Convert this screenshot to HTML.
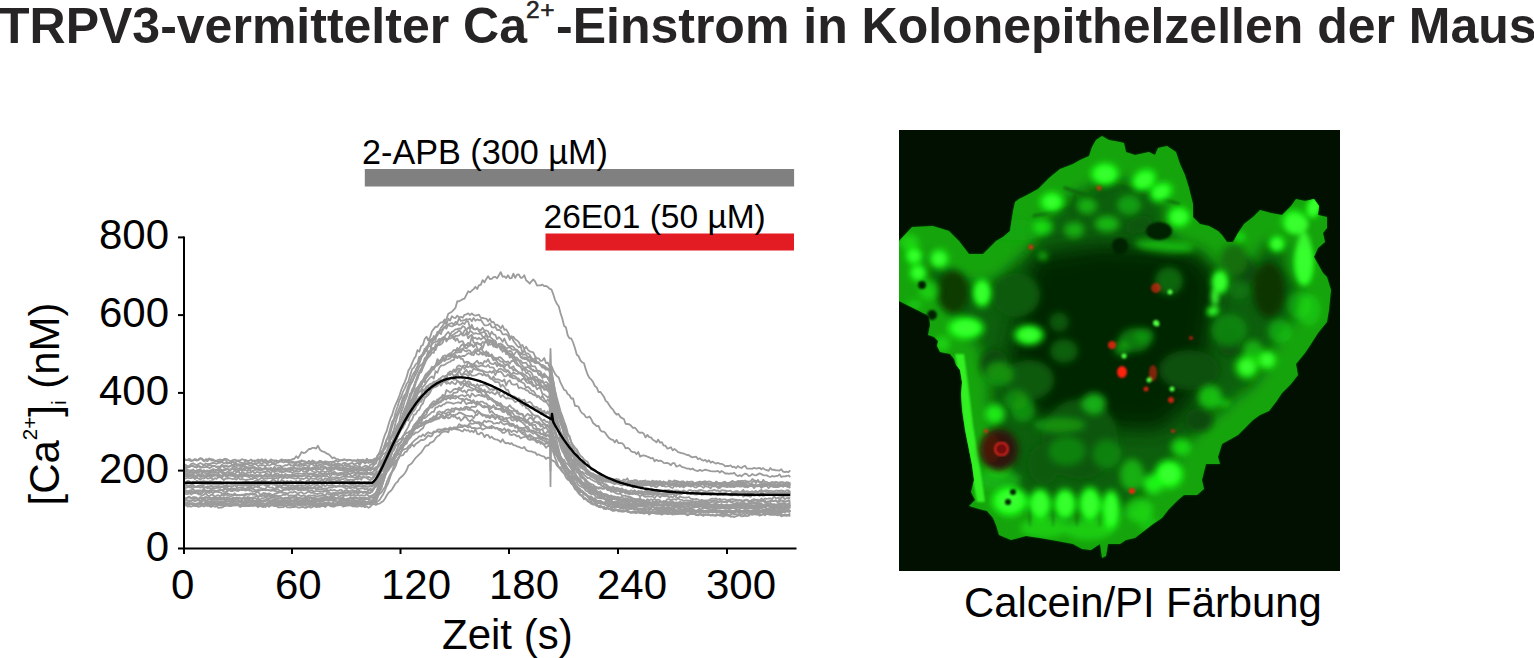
<!DOCTYPE html>
<html><head><meta charset="utf-8"><style>
html,body{margin:0;padding:0;background:#fff;}
body{width:1534px;height:658px;position:relative;overflow:hidden;font-family:"Liberation Sans",Arial,sans-serif;color:#000;}
.chart{position:absolute;left:0;top:0;}
.t{position:absolute;white-space:nowrap;line-height:1;}
.title{font-weight:bold;font-size:50px;color:#262424;}
.sup{font-weight:normal;font-size:24.5px;color:#262424;-webkit-text-stroke:0.6px #262424;}
.tick{font-size:42px;}
.lab{font-size:33.5px;}
</style></head><body>

<svg class="chart" width="1534" height="658" viewBox="0 0 1534 658">
 <rect x="364.8" y="169" width="429.3" height="17.5" fill="#808080"/>
 <rect x="545.5" y="233.5" width="248.5" height="17" fill="#e31c24"/>
 <g fill="none" stroke="#9b9b9b" stroke-width="1.8" stroke-linejoin="round"><polyline points="184.0,475.5 185.8,475.5 187.6,476.6 189.4,476.3 191.2,474.1 193.1,475.8 194.9,476.2 196.7,475.3 198.5,474.7 200.3,477.1 202.1,476.1 203.9,476.6 205.7,477.3 207.5,475.3 209.3,475.9 211.2,476.0 213.0,476.0 214.8,474.8 216.6,475.4 218.4,475.4 220.2,476.0 222.0,476.1 223.8,474.0 225.6,475.3 227.4,475.1 229.2,475.4 231.1,475.6 232.9,475.5 234.7,474.3 236.5,475.1 238.3,475.1 240.1,475.0 241.9,474.2 243.7,474.4 245.5,474.6 247.3,475.6 249.2,476.4 251.0,475.1 252.8,475.2 254.6,476.0 256.4,475.8 258.2,475.5 260.0,475.3 261.8,475.2 263.6,476.2 265.4,474.8 267.3,477.2 269.1,475.6 270.9,475.9 272.7,475.5 274.5,474.8 276.3,475.0 278.1,476.9 279.9,477.4 281.7,475.5 283.6,476.7 285.4,476.2 287.2,475.2 289.0,477.0 290.8,477.3 292.6,475.0 294.4,475.3 296.2,475.6 298.0,475.2 299.8,475.8 301.6,476.2 303.5,475.2 305.3,475.7 307.1,475.9 308.9,474.1 310.7,474.3 312.5,474.2 314.3,475.2 316.1,474.9 317.9,475.5 319.8,475.5 321.6,474.6 323.4,475.7 325.2,474.9 327.0,474.8 328.8,473.6 330.6,476.1 332.4,474.0 334.2,474.6 336.0,474.6 337.9,475.8 339.7,475.0 341.5,474.2 343.3,475.0 345.1,475.0 346.9,475.3 348.7,473.7 350.5,475.0 352.3,476.7 354.1,474.9 355.9,475.9 357.8,476.5 359.6,474.0 361.4,472.5 363.2,473.7 365.0,474.7 366.8,474.9 368.6,473.4 370.4,474.5 372.2,474.5 374.0,474.8 375.9,474.6 377.7,473.9 379.5,472.7 381.3,470.8 383.1,468.7 384.9,463.7 386.7,460.6 388.5,454.8 390.3,452.7 392.1,447.0 394.0,442.8 395.8,439.5 397.6,431.3 399.4,426.6 401.2,423.3 403.0,416.5 404.8,412.1 406.6,410.7 408.4,402.4 410.2,397.8 412.1,392.8 413.9,389.4 415.7,383.2 417.5,378.2 419.3,371.8 421.1,368.8 422.9,364.8 424.7,358.3 426.5,357.1 428.3,353.2 430.2,351.1 432.0,342.0 433.8,339.3 435.6,335.7 437.4,333.2 439.2,331.1 441.0,327.7 442.8,325.5 444.6,322.8 446.4,319.2 448.3,313.7 450.1,312.8 451.9,311.7 453.7,309.9 455.5,307.7 457.3,301.2 459.1,301.3 460.9,300.2 462.7,299.2 464.5,298.7 466.4,294.8 468.2,291.3 470.0,292.3 471.8,290.7 473.6,289.1 475.4,286.8 477.2,289.0 479.0,285.2 480.8,284.8 482.6,280.2 484.5,282.3 486.3,278.9 488.1,276.2 489.9,279.0 491.7,278.9 493.5,277.2 495.3,276.9 497.1,278.3 498.9,275.2 500.7,272.1 502.6,276.7 504.4,276.4 506.2,278.0 508.0,275.3 509.8,278.3 511.6,278.2 513.4,273.6 515.2,277.9 517.0,274.6 518.8,274.5 520.7,277.9 522.5,277.5 524.3,275.2 526.1,280.3 527.9,281.7 529.7,283.6 531.5,281.3 533.3,279.5 535.1,281.3 537.0,285.5 538.8,285.4 540.6,285.4 542.4,284.6 544.2,286.2 546.0,286.0 547.8,286.9 549.6,288.9 551.4,289.3 553.2,294.1 555.0,299.8 556.9,303.8 558.7,306.3 560.5,313.1 562.3,318.5 564.1,325.9 565.9,327.2 567.7,335.3 569.5,338.4 571.3,338.5 573.1,342.5 575.0,348.2 576.8,354.7 578.6,356.2 580.4,360.4 582.2,362.3 584.0,363.3 585.8,369.4 587.6,374.5 589.4,377.9 591.2,379.4 593.1,382.1 594.9,386.1 596.7,387.4 598.5,392.0 600.3,391.8 602.1,394.2 603.9,396.7 605.7,400.9 607.5,402.3 609.3,405.3 611.2,407.9 613.0,409.6 614.8,412.7 616.6,414.7 618.4,413.9 620.2,416.8 622.0,418.2 623.8,418.8 625.6,423.8 627.4,424.0 629.3,424.3 631.1,425.7 632.9,427.9 634.7,427.6 636.5,429.4 638.3,432.0 640.1,432.9 641.9,432.4 643.7,433.6 645.5,437.4 647.4,434.9 649.2,437.1 651.0,437.4 652.8,439.8 654.6,440.7 656.4,442.4 658.2,439.6 660.0,442.7 661.8,442.1 663.6,445.5 665.5,445.7 667.3,448.5 669.1,448.1 670.9,447.2 672.7,450.4 674.5,449.0 676.3,450.4 678.1,452.1 679.9,452.6 681.8,453.2 683.6,453.5 685.4,454.3 687.2,455.0 689.0,455.2 690.8,456.7 692.6,457.3 694.4,456.8 696.2,456.7 698.0,459.1 699.8,458.3 701.7,459.9 703.5,460.7 705.3,459.8 707.1,461.8 708.9,460.3 710.7,462.6 712.5,461.6 714.3,462.8 716.1,463.6 717.9,462.8 719.8,463.8 721.6,463.8 723.4,464.7 725.2,466.3 727.0,465.8 728.8,466.0 730.6,465.4 732.4,467.1 734.2,466.7 736.0,468.1 737.9,466.0 739.7,467.4 741.5,468.0 743.3,466.5 745.1,465.8 746.9,468.5 748.7,468.6 750.5,468.6 752.3,468.8 754.1,467.8 756.0,468.5 757.8,468.4 759.6,467.8 761.4,469.3 763.2,468.1 765.0,469.6 766.8,470.1 768.6,470.8 770.4,468.0 772.2,469.9 774.1,469.7 775.9,470.3 777.7,470.4 779.5,470.6 781.3,469.3 783.1,471.6 784.9,472.1 786.7,471.7 788.5,472.1 790.3,470.3"/><polyline points="184.0,468.6 185.8,467.4 187.6,470.6 189.4,470.4 191.2,470.4 193.1,469.5 194.9,471.1 196.7,470.5 198.5,470.2 200.3,471.1 202.1,471.1 203.9,470.6 205.7,471.7 207.5,471.3 209.3,470.6 211.2,470.2 213.0,470.4 214.8,471.7 216.6,470.5 218.4,469.3 220.2,469.5 222.0,469.9 223.8,470.0 225.6,468.3 227.4,469.4 229.2,469.5 231.1,469.2 232.9,467.2 234.7,468.4 236.5,467.5 238.3,468.9 240.1,467.8 241.9,469.3 243.7,468.8 245.5,466.6 247.3,467.7 249.2,468.5 251.0,468.2 252.8,468.0 254.6,467.6 256.4,468.8 258.2,470.1 260.0,469.0 261.8,468.6 263.6,468.8 265.4,468.0 267.3,469.0 269.1,468.9 270.9,470.5 272.7,468.7 274.5,467.5 276.3,468.8 278.1,468.8 279.9,468.6 281.7,467.3 283.6,469.8 285.4,469.3 287.2,468.8 289.0,468.4 290.8,469.0 292.6,468.3 294.4,468.5 296.2,468.1 298.0,468.5 299.8,469.6 301.6,468.4 303.5,467.4 305.3,468.8 307.1,467.8 308.9,467.4 310.7,469.0 312.5,467.4 314.3,468.5 316.1,466.8 317.9,465.6 319.8,465.6 321.6,467.3 323.4,467.0 325.2,467.7 327.0,468.0 328.8,467.2 330.6,469.8 332.4,467.8 334.2,468.9 336.0,467.7 337.9,468.3 339.7,469.1 341.5,468.5 343.3,468.2 345.1,468.7 346.9,468.3 348.7,469.2 350.5,470.8 352.3,468.4 354.1,468.7 355.9,469.2 357.8,469.5 359.6,468.2 361.4,469.3 363.2,469.0 365.0,468.5 366.8,467.1 368.6,469.5 370.4,467.3 372.2,467.4 374.0,465.1 375.9,459.1 377.7,455.8 379.5,452.5 381.3,446.9 383.1,440.4 384.9,434.9 386.7,431.0 388.5,424.6 390.3,418.9 392.1,415.0 394.0,408.6 395.8,404.2 397.6,400.1 399.4,395.9 401.2,390.0 403.0,385.8 404.8,381.8 406.6,377.2 408.4,370.6 410.2,367.8 412.1,363.1 413.9,359.0 415.7,356.2 417.5,350.1 419.3,351.7 421.1,346.1 422.9,344.9 424.7,339.0 426.5,336.7 428.3,340.5 430.2,336.6 432.0,331.3 433.8,328.9 435.6,326.6 437.4,326.8 439.2,323.9 441.0,322.4 442.8,322.3 444.6,319.4 446.4,324.6 448.3,318.7 450.1,320.6 451.9,316.2 453.7,317.6 455.5,318.0 457.3,315.6 459.1,317.5 460.9,316.7 462.7,317.7 464.5,314.8 466.4,314.3 468.2,313.4 470.0,315.2 471.8,313.4 473.6,315.0 475.4,315.7 477.2,315.1 479.0,314.6 480.8,317.9 482.6,318.0 484.5,318.4 486.3,318.6 488.1,321.3 489.9,318.8 491.7,322.4 493.5,321.8 495.3,325.2 497.1,324.7 498.9,325.9 500.7,328.6 502.6,325.5 504.4,329.8 506.2,329.4 508.0,332.4 509.8,336.5 511.6,337.3 513.4,336.8 515.2,339.2 517.0,340.4 518.8,342.1 520.7,345.9 522.5,345.0 524.3,349.3 526.1,346.7 527.9,349.9 529.7,351.3 531.5,351.9 533.3,352.4 535.1,356.4 537.0,358.3 538.8,358.5 540.6,360.9 542.4,360.6 544.2,357.9 546.0,363.1 547.8,362.5 549.6,367.2 551.4,365.9 553.2,370.2 555.0,373.7 556.9,376.1 558.7,377.5 560.5,382.7 562.3,386.1 564.1,389.8 565.9,390.5 567.7,394.1 569.5,395.2 571.3,398.5 573.1,398.5 575.0,405.8 576.8,406.0 578.6,406.8 580.4,411.0 582.2,413.2 584.0,414.2 585.8,417.1 587.6,417.5 589.4,416.4 591.2,419.1 593.1,423.0 594.9,424.5 596.7,426.1 598.5,425.9 600.3,430.2 602.1,431.6 603.9,431.6 605.7,433.4 607.5,436.2 609.3,438.3 611.2,439.5 613.0,439.8 614.8,442.4 616.6,439.9 618.4,443.0 620.2,443.2 622.0,443.1 623.8,444.8 625.6,448.4 627.4,447.9 629.3,448.8 631.1,451.2 632.9,452.2 634.7,452.2 636.5,454.2 638.3,452.0 640.1,456.6 641.9,455.7 643.7,455.3 645.5,455.8 647.4,456.6 649.2,457.3 651.0,458.4 652.8,457.9 654.6,461.2 656.4,459.8 658.2,461.0 660.0,460.7 661.8,461.2 663.6,462.8 665.5,463.1 667.3,462.9 669.1,463.7 670.9,465.2 672.7,463.2 674.5,463.1 676.3,466.7 678.1,466.0 679.9,465.1 681.8,466.9 683.6,467.3 685.4,468.0 687.2,468.7 689.0,468.6 690.8,469.5 692.6,468.5 694.4,470.0 696.2,470.7 698.0,471.1 699.8,469.8 701.7,470.9 703.5,470.3 705.3,469.6 707.1,470.2 708.9,470.6 710.7,471.1 712.5,471.3 714.3,471.4 716.1,471.4 717.9,470.9 719.8,472.5 721.6,471.0 723.4,472.1 725.2,473.5 727.0,473.4 728.8,473.8 730.6,473.3 732.4,473.6 734.2,472.7 736.0,474.9 737.9,476.1 739.7,475.1 741.5,476.3 743.3,474.7 745.1,473.6 746.9,474.1 748.7,476.0 750.5,475.6 752.3,474.0 754.1,475.1 756.0,475.4 757.8,474.4 759.6,473.4 761.4,474.1 763.2,475.1 765.0,475.4 766.8,475.3 768.6,476.5 770.4,477.0 772.2,475.9 774.1,476.7 775.9,476.0 777.7,475.9 779.5,474.3 781.3,477.0 783.1,476.4 784.9,476.3 786.7,476.0 788.5,475.5 790.3,477.0"/><polyline points="184.0,502.2 185.8,500.1 187.6,500.9 189.4,500.3 191.2,500.7 193.1,500.2 194.9,501.1 196.7,500.5 198.5,499.0 200.3,501.4 202.1,499.7 203.9,499.4 205.7,500.1 207.5,499.8 209.3,499.2 211.2,500.0 213.0,499.5 214.8,499.8 216.6,499.7 218.4,499.7 220.2,499.6 222.0,499.7 223.8,499.1 225.6,500.2 227.4,498.4 229.2,499.1 231.1,499.6 232.9,500.0 234.7,500.0 236.5,499.5 238.3,499.9 240.1,501.3 241.9,499.7 243.7,498.0 245.5,501.3 247.3,499.5 249.2,499.7 251.0,500.5 252.8,499.6 254.6,501.4 256.4,500.9 258.2,500.0 260.0,501.3 261.8,501.5 263.6,501.1 265.4,501.1 267.3,499.7 269.1,501.5 270.9,500.1 272.7,501.8 274.5,500.2 276.3,500.8 278.1,502.6 279.9,501.2 281.7,501.8 283.6,501.3 285.4,500.0 287.2,501.6 289.0,501.6 290.8,499.9 292.6,500.5 294.4,499.7 296.2,500.6 298.0,501.5 299.8,500.7 301.6,500.2 303.5,500.1 305.3,500.7 307.1,500.8 308.9,500.8 310.7,500.9 312.5,499.2 314.3,500.4 316.1,501.1 317.9,500.6 319.8,499.8 321.6,499.9 323.4,500.0 325.2,500.4 327.0,499.9 328.8,501.0 330.6,500.4 332.4,499.1 334.2,499.8 336.0,499.1 337.9,498.2 339.7,499.1 341.5,499.8 343.3,498.8 345.1,499.7 346.9,500.7 348.7,500.2 350.5,500.5 352.3,501.4 354.1,501.0 355.9,501.3 357.8,502.2 359.6,501.7 361.4,501.7 363.2,502.0 365.0,502.5 366.8,502.1 368.6,501.9 370.4,502.0 372.2,502.8 374.0,501.9 375.9,501.3 377.7,497.0 379.5,491.3 381.3,488.0 383.1,482.4 384.9,475.4 386.7,470.7 388.5,464.6 390.3,457.9 392.1,451.6 394.0,449.4 395.8,441.8 397.6,436.3 399.4,431.1 401.2,426.0 403.0,420.9 404.8,414.9 406.6,411.8 408.4,406.3 410.2,402.0 412.1,399.6 413.9,394.6 415.7,389.1 417.5,387.3 419.3,385.4 421.1,381.6 422.9,380.1 424.7,376.1 426.5,373.3 428.3,373.1 430.2,370.0 432.0,366.7 433.8,367.8 435.6,365.1 437.4,365.3 439.2,363.5 441.0,361.8 442.8,356.8 444.6,360.0 446.4,359.7 448.3,359.1 450.1,358.4 451.9,356.5 453.7,357.1 455.5,354.9 457.3,358.1 459.1,356.5 460.9,358.9 462.7,358.9 464.5,362.9 466.4,361.7 468.2,362.2 470.0,363.4 471.8,367.0 473.6,363.8 475.4,367.0 477.2,368.6 479.0,369.5 480.8,370.5 482.6,370.9 484.5,374.6 486.3,375.3 488.1,375.5 489.9,377.0 491.7,379.0 493.5,380.3 495.3,382.0 497.1,382.1 498.9,382.1 500.7,386.7 502.6,384.7 504.4,386.9 506.2,389.9 508.0,389.8 509.8,394.3 511.6,396.2 513.4,396.9 515.2,397.2 517.0,399.0 518.8,400.4 520.7,401.0 522.5,405.7 524.3,404.2 526.1,408.1 527.9,408.7 529.7,410.6 531.5,413.0 533.3,414.8 535.1,415.7 537.0,415.6 538.8,416.5 540.6,418.5 542.4,421.8 544.2,423.4 546.0,425.1 547.8,424.9 549.6,429.1 551.4,427.2 553.2,435.1 555.0,441.6 556.9,446.3 558.7,450.6 560.5,455.8 562.3,459.5 564.1,464.3 565.9,466.5 567.7,470.3 569.5,474.8 571.3,476.7 573.1,480.9 575.0,483.5 576.8,486.2 578.6,488.1 580.4,489.2 582.2,492.4 584.0,493.0 585.8,494.9 587.6,496.3 589.4,499.9 591.2,499.9 593.1,500.8 594.9,502.9 596.7,503.6 598.5,506.6 600.3,505.2 602.1,507.3 603.9,506.7 605.7,508.8 607.5,507.8 609.3,509.0 611.2,508.8 613.0,510.3 614.8,510.6 616.6,509.4 618.4,511.3 620.2,511.4 622.0,510.9 623.8,511.8 625.6,510.4 627.4,510.6 629.3,511.8 631.1,512.7 632.9,511.4 634.7,511.4 636.5,512.1 638.3,511.5 640.1,513.1 641.9,513.0 643.7,513.6 645.5,513.3 647.4,512.2 649.2,513.4 651.0,511.6 652.8,512.9 654.6,513.5 656.4,512.9 658.2,512.9 660.0,513.3 661.8,514.7 663.6,513.4 665.5,513.1 667.3,514.1 669.1,514.0 670.9,513.1 672.7,513.5 674.5,514.4 676.3,514.0 678.1,514.0 679.9,513.7 681.8,514.0 683.6,513.7 685.4,514.0 687.2,515.4 689.0,514.3 690.8,513.9 692.6,514.0 694.4,514.1 696.2,515.2 698.0,515.4 699.8,514.4 701.7,515.2 703.5,515.9 705.3,514.0 707.1,515.0 708.9,514.8 710.7,515.4 712.5,515.2 714.3,515.5 716.1,514.7 717.9,514.5 719.8,515.6 721.6,513.9 723.4,514.9 725.2,514.9 727.0,514.3 728.8,514.9 730.6,515.2 732.4,513.1 734.2,514.6 736.0,514.1 737.9,514.5 739.7,513.6 741.5,514.6 743.3,513.5 745.1,514.4 746.9,513.3 748.7,514.5 750.5,513.8 752.3,513.2 754.1,513.6 756.0,513.9 757.8,512.9 759.6,514.3 761.4,515.1 763.2,514.2 765.0,515.3 766.8,513.9 768.6,514.3 770.4,514.8 772.2,514.9 774.1,514.6 775.9,514.8 777.7,515.4 779.5,514.8 781.3,516.3 783.1,515.6 784.9,515.7 786.7,515.9 788.5,515.3 790.3,516.3"/><polyline points="184.0,473.7 185.8,473.6 187.6,473.1 189.4,472.6 191.2,472.6 193.1,473.5 194.9,472.7 196.7,473.1 198.5,472.3 200.3,471.2 202.1,471.9 203.9,472.3 205.7,473.5 207.5,473.2 209.3,473.6 211.2,471.5 213.0,472.9 214.8,472.6 216.6,472.8 218.4,472.3 220.2,471.2 222.0,473.2 223.8,472.9 225.6,473.4 227.4,472.2 229.2,474.0 231.1,473.8 232.9,474.0 234.7,474.0 236.5,472.4 238.3,471.0 240.1,474.0 241.9,472.2 243.7,472.8 245.5,473.8 247.3,472.7 249.2,472.5 251.0,472.8 252.8,470.5 254.6,473.9 256.4,472.0 258.2,472.1 260.0,473.1 261.8,472.4 263.6,471.9 265.4,472.0 267.3,471.7 269.1,471.6 270.9,473.6 272.7,470.5 274.5,469.8 276.3,470.6 278.1,470.6 279.9,472.1 281.7,470.9 283.6,471.8 285.4,471.5 287.2,470.3 289.0,471.9 290.8,471.9 292.6,473.1 294.4,471.5 296.2,471.1 298.0,471.5 299.8,471.2 301.6,469.3 303.5,471.9 305.3,471.9 307.1,472.0 308.9,470.2 310.7,469.5 312.5,471.3 314.3,472.1 316.1,472.3 317.9,471.3 319.8,472.6 321.6,471.0 323.4,471.3 325.2,472.5 327.0,471.2 328.8,471.5 330.6,471.0 332.4,473.1 334.2,471.4 336.0,473.2 337.9,473.5 339.7,473.0 341.5,472.9 343.3,473.6 345.1,474.5 346.9,473.9 348.7,471.5 350.5,471.1 352.3,472.2 354.1,471.6 355.9,473.0 357.8,472.4 359.6,472.1 361.4,473.0 363.2,473.2 365.0,472.3 366.8,472.6 368.6,473.3 370.4,472.3 372.2,472.6 374.0,471.0 375.9,470.0 377.7,467.9 379.5,464.7 381.3,461.5 383.1,459.1 384.9,456.0 386.7,451.5 388.5,447.9 390.3,443.4 392.1,442.7 394.0,438.1 395.8,434.2 397.6,430.2 399.4,427.6 401.2,423.6 403.0,418.8 404.8,416.0 406.6,414.1 408.4,407.8 410.2,404.8 412.1,403.5 413.9,399.1 415.7,398.5 417.5,393.3 419.3,391.9 421.1,389.8 422.9,386.8 424.7,385.0 426.5,382.0 428.3,379.7 430.2,377.5 432.0,376.4 433.8,378.6 435.6,371.2 437.4,372.7 439.2,368.0 441.0,365.5 442.8,365.3 444.6,364.9 446.4,363.5 448.3,362.5 450.1,361.7 451.9,360.3 453.7,360.0 455.5,356.6 457.3,357.6 459.1,355.7 460.9,357.0 462.7,355.8 464.5,356.0 466.4,354.6 468.2,353.2 470.0,353.7 471.8,354.9 473.6,355.1 475.4,351.5 477.2,354.4 479.0,354.6 480.8,352.5 482.6,353.2 484.5,354.2 486.3,356.1 488.1,352.5 489.9,356.1 491.7,355.8 493.5,357.3 495.3,359.2 497.1,359.1 498.9,357.1 500.7,357.5 502.6,359.3 504.4,361.4 506.2,362.3 508.0,361.4 509.8,363.8 511.6,360.8 513.4,361.2 515.2,359.5 517.0,362.8 518.8,365.6 520.7,366.8 522.5,370.9 524.3,367.5 526.1,367.5 527.9,366.8 529.7,368.4 531.5,369.4 533.3,371.1 535.1,371.0 537.0,371.0 538.8,374.8 540.6,375.5 542.4,377.8 544.2,374.7 546.0,376.2 547.8,377.9 549.6,381.1 550.5,349.0 551.4,380.2 553.2,391.0 555.0,400.1 556.9,408.7 558.7,415.6 560.5,423.2 562.3,428.3 564.1,434.2 565.9,439.5 567.7,444.0 569.5,448.4 571.3,451.5 573.1,455.9 575.0,458.6 576.8,461.8 578.6,465.5 580.4,465.5 582.2,468.6 584.0,469.0 585.8,471.0 587.6,473.7 589.4,474.6 591.2,475.2 593.1,476.7 594.9,478.2 596.7,477.9 598.5,479.2 600.3,479.7 602.1,481.0 603.9,480.9 605.7,481.9 607.5,481.5 609.3,481.4 611.2,482.7 613.0,483.4 614.8,484.2 616.6,483.5 618.4,484.0 620.2,484.8 622.0,485.4 623.8,484.9 625.6,483.7 627.4,486.0 629.3,485.5 631.1,485.4 632.9,487.6 634.7,485.6 636.5,486.0 638.3,484.7 640.1,485.9 641.9,486.1 643.7,485.5 645.5,485.3 647.4,485.1 649.2,484.7 651.0,485.5 652.8,484.7 654.6,483.8 656.4,482.8 658.2,483.5 660.0,483.6 661.8,483.1 663.6,483.4 665.5,482.8 667.3,483.1 669.1,483.6 670.9,483.6 672.7,483.8 674.5,483.5 676.3,483.5 678.1,484.7 679.9,485.9 681.8,484.7 683.6,486.3 685.4,485.0 687.2,484.8 689.0,486.1 690.8,484.6 692.6,484.3 694.4,484.7 696.2,483.6 698.0,483.4 699.8,485.5 701.7,483.8 703.5,484.5 705.3,484.8 707.1,484.1 708.9,485.3 710.7,485.5 712.5,486.4 714.3,486.4 716.1,486.1 717.9,487.1 719.8,486.4 721.6,485.1 723.4,485.9 725.2,485.5 727.0,487.2 728.8,486.5 730.6,486.6 732.4,485.9 734.2,486.1 736.0,485.1 737.9,486.2 739.7,486.1 741.5,486.2 743.3,486.0 745.1,487.3 746.9,485.8 748.7,485.9 750.5,486.0 752.3,486.1 754.1,485.9 756.0,485.7 757.8,485.8 759.6,485.9 761.4,485.6 763.2,485.8 765.0,485.0 766.8,485.8 768.6,488.1 770.4,486.0 772.2,486.6 774.1,487.1 775.9,486.3 777.7,486.5 779.5,484.2 781.3,485.3 783.1,486.9 784.9,485.3 786.7,485.9 788.5,483.9 790.3,485.9"/><polyline points="184.0,466.4 185.8,467.5 187.6,467.3 189.4,467.1 191.2,465.8 193.1,466.4 194.9,467.0 196.7,467.3 198.5,466.3 200.3,466.5 202.1,467.4 203.9,464.8 205.7,465.8 207.5,466.1 209.3,465.0 211.2,465.4 213.0,466.4 214.8,465.9 216.6,467.2 218.4,466.7 220.2,468.1 222.0,465.0 223.8,467.5 225.6,465.7 227.4,466.8 229.2,466.8 231.1,465.8 232.9,465.0 234.7,465.0 236.5,464.2 238.3,465.5 240.1,465.5 241.9,467.2 243.7,465.9 245.5,466.9 247.3,467.5 249.2,467.1 251.0,467.2 252.8,467.1 254.6,467.0 256.4,468.0 258.2,468.5 260.0,467.6 261.8,469.8 263.6,468.8 265.4,466.9 267.3,470.7 269.1,469.3 270.9,468.3 272.7,470.2 274.5,466.6 276.3,471.1 278.1,467.7 279.9,467.6 281.7,467.8 283.6,468.6 285.4,468.4 287.2,469.8 289.0,468.3 290.8,469.9 292.6,468.9 294.4,467.7 296.2,469.1 298.0,468.5 299.8,468.0 301.6,469.4 303.5,467.4 305.3,467.7 307.1,469.3 308.9,468.1 310.7,468.9 312.5,468.5 314.3,467.9 316.1,468.6 317.9,467.3 319.8,468.5 321.6,467.0 323.4,467.8 325.2,466.7 327.0,467.8 328.8,467.9 330.6,468.6 332.4,467.5 334.2,467.1 336.0,466.3 337.9,466.8 339.7,467.9 341.5,468.3 343.3,467.7 345.1,467.7 346.9,466.2 348.7,466.5 350.5,468.1 352.3,468.2 354.1,466.6 355.9,467.9 357.8,468.4 359.6,466.9 361.4,468.2 363.2,468.3 365.0,468.7 366.8,469.7 368.6,467.3 370.4,468.9 372.2,468.3 374.0,468.6 375.9,467.2 377.7,467.0 379.5,465.0 381.3,464.5 383.1,460.3 384.9,458.9 386.7,454.3 388.5,450.9 390.3,447.6 392.1,442.5 394.0,440.7 395.8,437.7 397.6,435.3 399.4,432.7 401.2,428.1 403.0,424.6 404.8,424.4 406.6,419.2 408.4,417.0 410.2,413.9 412.1,411.8 413.9,411.0 415.7,408.2 417.5,402.1 419.3,401.9 421.1,401.8 422.9,397.4 424.7,396.3 426.5,396.5 428.3,395.1 430.2,392.4 432.0,388.4 433.8,387.4 435.6,386.3 437.4,384.6 439.2,383.2 441.0,385.6 442.8,382.3 444.6,382.0 446.4,381.6 448.3,380.1 450.1,378.5 451.9,378.2 453.7,379.2 455.5,377.2 457.3,373.3 459.1,377.3 460.9,377.4 462.7,374.8 464.5,374.2 466.4,374.2 468.2,376.5 470.0,373.4 471.8,375.7 473.6,375.7 475.4,375.3 477.2,374.6 479.0,373.4 480.8,373.8 482.6,375.3 484.5,374.0 486.3,375.8 488.1,375.0 489.9,378.4 491.7,379.2 493.5,376.4 495.3,379.7 497.1,379.4 498.9,379.5 500.7,380.6 502.6,381.4 504.4,379.4 506.2,385.5 508.0,381.4 509.8,380.3 511.6,384.0 513.4,384.7 515.2,384.6 517.0,383.8 518.8,388.2 520.7,387.4 522.5,388.6 524.3,388.6 526.1,390.3 527.9,390.5 529.7,393.0 531.5,393.2 533.3,394.7 535.1,395.4 537.0,395.6 538.8,396.2 540.6,398.6 542.4,395.8 544.2,399.1 546.0,401.8 547.8,399.5 549.6,402.6 551.4,402.2 553.2,409.8 555.0,416.1 556.9,421.7 558.7,428.1 560.5,432.4 562.3,434.9 564.1,443.1 565.9,444.6 567.7,447.7 569.5,452.3 571.3,456.0 573.1,455.4 575.0,460.2 576.8,460.1 578.6,463.4 580.4,465.7 582.2,467.1 584.0,468.6 585.8,469.7 587.6,470.9 589.4,472.3 591.2,473.1 593.1,473.5 594.9,474.7 596.7,476.5 598.5,476.9 600.3,477.3 602.1,478.5 603.9,479.0 605.7,479.5 607.5,479.6 609.3,479.4 611.2,479.4 613.0,480.7 614.8,479.8 616.6,481.6 618.4,479.2 620.2,481.2 622.0,482.1 623.8,483.3 625.6,485.0 627.4,483.3 629.3,483.5 631.1,482.0 632.9,484.9 634.7,482.2 636.5,483.8 638.3,483.2 640.1,485.7 641.9,483.9 643.7,483.7 645.5,483.5 647.4,484.3 649.2,484.8 651.0,483.2 652.8,483.8 654.6,484.2 656.4,483.8 658.2,483.5 660.0,484.6 661.8,486.0 663.6,486.0 665.5,483.6 667.3,484.5 669.1,485.0 670.9,485.6 672.7,485.1 674.5,485.0 676.3,485.2 678.1,485.7 679.9,483.8 681.8,484.6 683.6,485.0 685.4,485.5 687.2,484.8 689.0,483.5 690.8,483.6 692.6,484.1 694.4,483.8 696.2,484.0 698.0,484.8 699.8,483.3 701.7,484.0 703.5,482.2 705.3,484.4 707.1,484.1 708.9,483.4 710.7,484.4 712.5,485.2 714.3,484.9 716.1,484.3 717.9,484.4 719.8,485.2 721.6,484.9 723.4,485.4 725.2,485.8 727.0,486.0 728.8,486.2 730.6,485.6 732.4,485.4 734.2,485.8 736.0,485.2 737.9,485.7 739.7,486.6 741.5,486.6 743.3,485.1 745.1,485.5 746.9,484.6 748.7,485.7 750.5,484.9 752.3,484.5 754.1,484.7 756.0,485.9 757.8,485.4 759.6,484.9 761.4,486.2 763.2,485.1 765.0,484.8 766.8,486.0 768.6,484.2 770.4,486.1 772.2,485.8 774.1,486.2 775.9,486.6 777.7,485.6 779.5,485.9 781.3,484.7 783.1,485.4 784.9,485.7 786.7,486.5 788.5,487.3 790.3,486.3"/><polyline points="184.0,458.4 185.8,460.2 187.6,459.8 189.4,460.3 191.2,461.2 193.1,460.2 194.9,459.7 196.7,460.7 198.5,459.4 200.3,458.4 202.1,458.6 203.9,460.9 205.7,460.4 207.5,461.2 209.3,459.1 211.2,459.2 213.0,459.4 214.8,461.0 216.6,461.1 218.4,459.8 220.2,459.5 222.0,460.0 223.8,459.2 225.6,459.0 227.4,459.4 229.2,460.5 231.1,461.3 232.9,460.1 234.7,459.6 236.5,460.3 238.3,460.5 240.1,460.5 241.9,459.2 243.7,459.8 245.5,459.8 247.3,461.0 249.2,460.8 251.0,459.5 252.8,460.7 254.6,461.2 256.4,460.6 258.2,459.5 260.0,460.6 261.8,459.2 263.6,460.5 265.4,460.6 267.3,462.0 269.1,461.1 270.9,459.4 272.7,460.4 274.5,460.3 276.3,460.3 278.1,461.2 279.9,461.5 281.7,460.7 283.6,460.3 285.4,460.0 287.2,460.2 289.0,459.9 290.8,460.1 292.6,459.0 294.4,458.8 296.2,456.2 298.0,458.2 299.8,455.2 301.6,452.0 303.5,453.0 305.3,452.7 307.1,451.0 308.9,449.0 310.7,449.0 312.5,447.8 314.3,447.9 316.1,448.6 317.9,445.7 319.8,449.5 321.6,451.2 323.4,451.7 325.2,452.4 327.0,453.7 328.8,454.4 330.6,456.1 332.4,458.3 334.2,457.3 336.0,458.9 337.9,459.1 339.7,460.8 341.5,460.0 343.3,460.3 345.1,459.3 346.9,460.9 348.7,459.7 350.5,460.2 352.3,461.0 354.1,460.7 355.9,460.7 357.8,459.5 359.6,463.1 361.4,461.0 363.2,462.3 365.0,461.4 366.8,460.1 368.6,461.2 370.4,460.7 372.2,461.6 374.0,458.9 375.9,458.5 377.7,457.1 379.5,458.0 381.3,456.9 383.1,453.8 384.9,453.3 386.7,451.5 388.5,449.4 390.3,449.4 392.1,445.7 394.0,444.4 395.8,442.1 397.6,442.1 399.4,439.3 401.2,438.6 403.0,435.7 404.8,434.4 406.6,433.1 408.4,432.2 410.2,430.9 412.1,433.7 413.9,428.9 415.7,428.7 417.5,426.8 419.3,426.0 421.1,426.1 422.9,424.3 424.7,422.2 426.5,420.7 428.3,422.2 430.2,421.7 432.0,418.3 433.8,420.2 435.6,416.0 437.4,418.2 439.2,418.7 441.0,416.0 442.8,415.2 444.6,418.3 446.4,414.3 448.3,415.8 450.1,413.5 451.9,415.6 453.7,416.9 455.5,414.6 457.3,414.1 459.1,412.5 460.9,412.9 462.7,413.9 464.5,414.9 466.4,415.6 468.2,415.8 470.0,416.3 471.8,415.8 473.6,418.4 475.4,415.0 477.2,415.1 479.0,411.8 480.8,414.1 482.6,415.9 484.5,415.0 486.3,417.4 488.1,416.8 489.9,418.4 491.7,414.6 493.5,415.9 495.3,417.9 497.1,416.8 498.9,415.9 500.7,416.7 502.6,416.9 504.4,418.6 506.2,418.5 508.0,418.0 509.8,417.5 511.6,420.1 513.4,420.6 515.2,418.7 517.0,421.4 518.8,419.3 520.7,420.7 522.5,420.3 524.3,419.4 526.1,420.9 527.9,421.1 529.7,423.2 531.5,423.5 533.3,422.3 535.1,421.8 537.0,422.5 538.8,421.8 540.6,424.1 542.4,424.7 544.2,424.2 546.0,426.0 547.8,426.2 549.6,427.7 551.4,425.6 553.2,435.1 555.0,440.5 556.9,448.3 558.7,451.8 560.5,459.0 562.3,462.4 564.1,468.7 565.9,471.6 567.7,474.3 569.5,479.3 571.3,481.7 573.1,485.1 575.0,489.1 576.8,489.7 578.6,491.6 580.4,495.0 582.2,495.1 584.0,497.5 585.8,499.4 587.6,500.3 589.4,501.9 591.2,501.3 593.1,504.7 594.9,504.0 596.7,504.7 598.5,506.7 600.3,507.4 602.1,506.8 603.9,507.4 605.7,507.8 607.5,507.9 609.3,509.1 611.2,509.9 613.0,511.1 614.8,510.0 616.6,510.4 618.4,510.0 620.2,510.5 622.0,511.8 623.8,510.3 625.6,510.7 627.4,511.0 629.3,512.4 631.1,512.1 632.9,512.4 634.7,512.6 636.5,513.0 638.3,512.5 640.1,513.0 641.9,512.9 643.7,513.2 645.5,512.3 647.4,512.7 649.2,514.5 651.0,513.2 652.8,513.2 654.6,513.2 656.4,513.8 658.2,513.8 660.0,513.9 661.8,513.3 663.6,513.6 665.5,513.5 667.3,513.7 669.1,512.8 670.9,513.9 672.7,514.6 674.5,513.3 676.3,514.1 678.1,513.4 679.9,513.4 681.8,512.5 683.6,513.1 685.4,514.1 687.2,514.1 689.0,514.5 690.8,512.7 692.6,513.7 694.4,513.2 696.2,514.2 698.0,515.1 699.8,513.3 701.7,514.4 703.5,514.7 705.3,515.0 707.1,514.2 708.9,514.5 710.7,515.5 712.5,514.3 714.3,515.6 716.1,515.8 717.9,515.0 719.8,515.1 721.6,515.8 723.4,516.6 725.2,515.5 727.0,515.3 728.8,516.0 730.6,516.8 732.4,516.3 734.2,517.1 736.0,516.3 737.9,515.7 739.7,515.2 741.5,516.4 743.3,516.0 745.1,515.6 746.9,516.2 748.7,515.8 750.5,514.1 752.3,514.8 754.1,514.2 756.0,514.7 757.8,514.5 759.6,515.7 761.4,514.8 763.2,513.7 765.0,512.9 766.8,513.1 768.6,513.4 770.4,513.5 772.2,513.7 774.1,513.8 775.9,513.4 777.7,514.0 779.5,513.1 781.3,514.3 783.1,515.0 784.9,514.4 786.7,514.9 788.5,514.8 790.3,513.6"/><polyline points="184.0,505.3 185.8,504.9 187.6,506.5 189.4,506.1 191.2,506.7 193.1,505.6 194.9,506.1 196.7,505.9 198.5,506.9 200.3,506.4 202.1,505.4 203.9,506.5 205.7,505.7 207.5,505.5 209.3,506.1 211.2,506.9 213.0,505.7 214.8,506.8 216.6,506.2 218.4,507.9 220.2,507.5 222.0,507.5 223.8,506.6 225.6,505.5 227.4,505.5 229.2,505.8 231.1,506.0 232.9,505.1 234.7,505.6 236.5,505.1 238.3,505.4 240.1,506.2 241.9,505.3 243.7,504.5 245.5,505.8 247.3,505.8 249.2,506.0 251.0,505.6 252.8,504.6 254.6,505.6 256.4,505.8 258.2,507.2 260.0,505.6 261.8,506.6 263.6,507.0 265.4,505.3 267.3,505.0 269.1,506.8 270.9,504.9 272.7,505.3 274.5,506.0 276.3,505.6 278.1,507.4 279.9,507.3 281.7,507.2 283.6,507.0 285.4,505.5 287.2,507.3 289.0,507.4 290.8,507.5 292.6,506.8 294.4,507.1 296.2,506.4 298.0,507.6 299.8,507.5 301.6,507.2 303.5,507.0 305.3,507.9 307.1,507.3 308.9,506.3 310.7,507.7 312.5,506.9 314.3,505.9 316.1,507.0 317.9,506.9 319.8,506.9 321.6,506.2 323.4,505.7 325.2,506.0 327.0,505.5 328.8,504.8 330.6,504.9 332.4,505.9 334.2,505.1 336.0,505.2 337.9,504.5 339.7,505.2 341.5,505.4 343.3,505.2 345.1,506.0 346.9,505.2 348.7,505.7 350.5,505.2 352.3,506.3 354.1,506.1 355.9,506.5 357.8,506.7 359.6,505.7 361.4,506.5 363.2,506.1 365.0,507.2 366.8,506.4 368.6,507.8 370.4,506.7 372.2,504.3 374.0,500.3 375.9,495.9 377.7,491.0 379.5,485.7 381.3,481.0 383.1,475.5 384.9,470.0 386.7,465.3 388.5,460.0 390.3,454.2 392.1,449.9 394.0,444.0 395.8,438.7 397.6,434.3 399.4,431.0 401.2,427.1 403.0,421.7 404.8,417.9 406.6,412.8 408.4,410.6 410.2,407.4 412.1,403.6 413.9,402.3 415.7,399.3 417.5,394.4 419.3,391.9 421.1,391.1 422.9,389.6 424.7,389.8 426.5,386.5 428.3,385.5 430.2,383.9 432.0,383.5 433.8,381.7 435.6,381.4 437.4,380.6 439.2,378.8 441.0,379.8 442.8,381.7 444.6,380.5 446.4,381.0 448.3,379.8 450.1,377.8 451.9,377.6 453.7,379.8 455.5,379.2 457.3,380.9 459.1,381.9 460.9,382.4 462.7,381.9 464.5,379.7 466.4,383.9 468.2,381.2 470.0,382.1 471.8,385.0 473.6,385.7 475.4,387.1 477.2,387.6 479.0,388.0 480.8,390.5 482.6,390.5 484.5,391.6 486.3,394.4 488.1,396.1 489.9,397.8 491.7,398.5 493.5,401.5 495.3,401.2 497.1,402.9 498.9,405.6 500.7,403.6 502.6,409.5 504.4,410.7 506.2,410.7 508.0,414.5 509.8,414.7 511.6,417.3 513.4,418.0 515.2,418.4 517.0,419.2 518.8,419.8 520.7,421.5 522.5,422.5 524.3,424.3 526.1,426.6 527.9,426.6 529.7,430.0 531.5,431.6 533.3,430.4 535.1,432.8 537.0,434.5 538.8,435.3 540.6,436.8 542.4,440.4 544.2,440.5 546.0,443.0 547.8,442.8 549.6,444.7 551.4,444.1 553.2,448.9 555.0,453.8 556.9,456.4 558.7,460.5 560.5,462.5 562.3,465.3 564.1,468.1 565.9,472.4 567.7,473.7 569.5,475.6 571.3,477.6 573.1,479.2 575.0,482.4 576.8,482.6 578.6,485.3 580.4,486.3 582.2,487.3 584.0,488.2 585.8,490.6 587.6,491.3 589.4,493.3 591.2,494.3 593.1,493.9 594.9,495.6 596.7,497.7 598.5,498.1 600.3,498.3 602.1,498.0 603.9,498.4 605.7,499.4 607.5,501.6 609.3,500.8 611.2,501.2 613.0,501.9 614.8,502.4 616.6,503.3 618.4,502.4 620.2,503.5 622.0,504.5 623.8,505.4 625.6,503.6 627.4,505.8 629.3,504.9 631.1,504.5 632.9,506.3 634.7,505.6 636.5,506.4 638.3,506.0 640.1,506.6 641.9,505.1 643.7,506.6 645.5,507.2 647.4,506.4 649.2,507.6 651.0,507.7 652.8,506.0 654.6,507.8 656.4,507.6 658.2,507.4 660.0,507.9 661.8,508.7 663.6,506.9 665.5,508.3 667.3,508.4 669.1,508.7 670.9,509.0 672.7,508.9 674.5,508.1 676.3,507.0 678.1,508.8 679.9,508.6 681.8,509.8 683.6,509.1 685.4,509.6 687.2,508.6 689.0,509.4 690.8,509.6 692.6,509.4 694.4,510.0 696.2,511.0 698.0,509.7 699.8,511.4 701.7,511.5 703.5,510.8 705.3,511.0 707.1,510.4 708.9,510.1 710.7,510.9 712.5,510.5 714.3,510.3 716.1,509.8 717.9,511.6 719.8,510.5 721.6,511.2 723.4,511.1 725.2,510.7 727.0,510.9 728.8,510.4 730.6,510.3 732.4,512.2 734.2,511.1 736.0,509.7 737.9,510.2 739.7,510.0 741.5,510.9 743.3,511.6 745.1,511.3 746.9,509.9 748.7,510.1 750.5,510.9 752.3,510.5 754.1,509.8 756.0,510.4 757.8,509.7 759.6,508.7 761.4,508.3 763.2,510.2 765.0,509.4 766.8,510.5 768.6,510.5 770.4,511.3 772.2,509.2 774.1,509.7 775.9,508.0 777.7,509.1 779.5,509.5 781.3,510.7 783.1,509.0 784.9,510.1 786.7,510.2 788.5,511.5 790.3,509.9"/><polyline points="184.0,503.6 185.8,503.5 187.6,504.0 189.4,504.8 191.2,503.4 193.1,504.5 194.9,504.5 196.7,504.1 198.5,504.5 200.3,503.5 202.1,503.4 203.9,503.3 205.7,503.4 207.5,503.9 209.3,503.5 211.2,502.7 213.0,503.7 214.8,502.1 216.6,504.1 218.4,504.4 220.2,503.1 222.0,503.3 223.8,503.9 225.6,504.0 227.4,504.1 229.2,503.6 231.1,504.2 232.9,504.8 234.7,504.5 236.5,504.3 238.3,504.4 240.1,507.0 241.9,505.9 243.7,506.1 245.5,506.1 247.3,505.9 249.2,505.4 251.0,505.5 252.8,506.1 254.6,505.2 256.4,504.3 258.2,506.1 260.0,505.8 261.8,505.2 263.6,505.5 265.4,507.0 267.3,505.4 269.1,505.8 270.9,505.6 272.7,505.1 274.5,505.9 276.3,506.1 278.1,505.3 279.9,505.5 281.7,505.4 283.6,505.4 285.4,505.4 287.2,505.3 289.0,505.4 290.8,505.5 292.6,505.9 294.4,506.0 296.2,504.2 298.0,505.1 299.8,504.9 301.6,504.9 303.5,504.4 305.3,504.3 307.1,504.3 308.9,504.5 310.7,502.9 312.5,504.0 314.3,503.1 316.1,504.8 317.9,504.2 319.8,502.8 321.6,503.6 323.4,504.1 325.2,503.1 327.0,504.1 328.8,503.5 330.6,504.8 332.4,503.8 334.2,503.9 336.0,503.3 337.9,503.1 339.7,504.0 341.5,502.4 343.3,503.5 345.1,504.6 346.9,505.0 348.7,502.5 350.5,503.5 352.3,503.7 354.1,504.0 355.9,504.2 357.8,502.7 359.6,503.7 361.4,502.9 363.2,504.0 365.0,505.5 366.8,503.3 368.6,503.8 370.4,503.9 372.2,502.1 374.0,500.5 375.9,496.2 377.7,492.8 379.5,488.4 381.3,482.0 383.1,477.7 384.9,470.4 386.7,464.5 388.5,459.8 390.3,453.3 392.1,447.2 394.0,442.0 395.8,435.2 397.6,430.7 399.4,424.1 401.2,420.5 403.0,414.2 404.8,408.9 406.6,404.9 408.4,399.9 410.2,395.7 412.1,389.5 413.9,386.6 415.7,380.9 417.5,375.6 419.3,373.0 421.1,371.9 422.9,366.0 424.7,361.2 426.5,359.8 428.3,354.8 430.2,352.9 432.0,350.2 433.8,348.5 435.6,346.7 437.4,344.1 439.2,341.5 441.0,338.9 442.8,337.5 444.6,336.5 446.4,334.0 448.3,331.9 450.1,334.5 451.9,332.0 453.7,330.9 455.5,329.4 457.3,329.2 459.1,328.4 460.9,328.8 462.7,326.1 464.5,327.0 466.4,330.1 468.2,327.5 470.0,329.2 471.8,324.8 473.6,328.9 475.4,329.2 477.2,328.8 479.0,329.7 480.8,330.1 482.6,327.8 484.5,330.9 486.3,330.5 488.1,331.3 489.9,335.5 491.7,331.8 493.5,334.3 495.3,334.9 497.1,339.1 498.9,337.2 500.7,338.8 502.6,341.7 504.4,338.5 506.2,343.1 508.0,345.7 509.8,346.1 511.6,346.2 513.4,346.9 515.2,349.2 517.0,349.9 518.8,351.6 520.7,356.9 522.5,357.2 524.3,359.2 526.1,359.1 527.9,358.8 529.7,361.8 531.5,365.9 533.3,366.4 535.1,366.4 537.0,370.4 538.8,370.9 540.6,371.6 542.4,375.6 544.2,373.5 546.0,375.9 547.8,377.2 549.6,381.5 550.5,371.5 551.4,383.0 553.2,392.1 555.0,399.1 556.9,407.2 558.7,414.5 560.5,419.4 562.3,426.5 564.1,434.7 565.9,439.7 567.7,442.8 569.5,449.3 571.3,452.2 573.1,456.2 575.0,462.0 576.8,465.6 578.6,468.8 580.4,472.6 582.2,475.8 584.0,478.0 585.8,479.6 587.6,482.5 589.4,484.4 591.2,487.3 593.1,489.9 594.9,489.6 596.7,493.9 598.5,494.3 600.3,494.6 602.1,497.6 603.9,497.4 605.7,498.5 607.5,500.8 609.3,500.8 611.2,502.9 613.0,502.6 614.8,503.6 616.6,504.4 618.4,504.2 620.2,505.5 622.0,505.5 623.8,506.6 625.6,508.2 627.4,507.4 629.3,507.6 631.1,509.2 632.9,508.2 634.7,509.1 636.5,509.5 638.3,510.2 640.1,509.8 641.9,509.7 643.7,510.3 645.5,510.2 647.4,512.0 649.2,510.4 651.0,512.1 652.8,512.8 654.6,511.9 656.4,512.2 658.2,511.4 660.0,512.5 661.8,511.7 663.6,512.6 665.5,511.1 667.3,512.2 669.1,510.8 670.9,512.6 672.7,511.8 674.5,512.7 676.3,511.7 678.1,511.7 679.9,512.6 681.8,512.8 683.6,512.3 685.4,512.2 687.2,511.9 689.0,511.7 690.8,512.7 692.6,511.7 694.4,511.2 696.2,512.5 698.0,512.1 699.8,511.8 701.7,511.8 703.5,511.7 705.3,511.6 707.1,511.6 708.9,511.4 710.7,512.3 712.5,511.2 714.3,511.2 716.1,512.5 717.9,512.1 719.8,512.1 721.6,513.4 723.4,512.7 725.2,513.0 727.0,512.9 728.8,512.0 730.6,513.1 732.4,512.4 734.2,513.1 736.0,510.8 737.9,511.4 739.7,511.8 741.5,511.9 743.3,511.5 745.1,511.7 746.9,511.7 748.7,511.6 750.5,513.1 752.3,512.4 754.1,512.9 756.0,512.9 757.8,512.8 759.6,511.7 761.4,511.0 763.2,512.4 765.0,511.0 766.8,511.2 768.6,512.4 770.4,512.4 772.2,512.0 774.1,511.3 775.9,512.1 777.7,512.6 779.5,511.8 781.3,513.0 783.1,511.7 784.9,511.2 786.7,511.6 788.5,511.6 790.3,511.9"/><polyline points="184.0,475.9 185.8,476.5 187.6,476.0 189.4,475.6 191.2,476.4 193.1,476.1 194.9,478.2 196.7,477.2 198.5,475.3 200.3,474.9 202.1,476.2 203.9,476.0 205.7,477.1 207.5,475.8 209.3,476.0 211.2,477.6 213.0,476.1 214.8,475.5 216.6,475.5 218.4,477.0 220.2,476.0 222.0,477.9 223.8,475.1 225.6,476.1 227.4,477.1 229.2,474.8 231.1,474.8 232.9,476.1 234.7,474.0 236.5,476.6 238.3,475.5 240.1,475.5 241.9,478.1 243.7,475.5 245.5,476.2 247.3,476.3 249.2,477.1 251.0,476.1 252.8,477.2 254.6,476.9 256.4,476.5 258.2,476.8 260.0,474.7 261.8,477.4 263.6,476.7 265.4,476.6 267.3,476.2 269.1,475.9 270.9,475.8 272.7,476.6 274.5,476.8 276.3,476.0 278.1,475.2 279.9,475.3 281.7,476.2 283.6,477.3 285.4,474.0 287.2,474.9 289.0,475.8 290.8,475.9 292.6,476.6 294.4,476.7 296.2,476.1 298.0,475.8 299.8,476.1 301.6,476.5 303.5,475.8 305.3,475.1 307.1,476.4 308.9,475.8 310.7,477.2 312.5,476.0 314.3,476.1 316.1,477.0 317.9,477.1 319.8,475.8 321.6,477.0 323.4,476.0 325.2,476.7 327.0,476.2 328.8,477.1 330.6,478.4 332.4,477.4 334.2,477.7 336.0,477.1 337.9,477.9 339.7,478.0 341.5,477.1 343.3,476.5 345.1,476.8 346.9,476.5 348.7,476.8 350.5,476.9 352.3,477.1 354.1,477.7 355.9,477.8 357.8,477.9 359.6,475.9 361.4,477.5 363.2,477.4 365.0,477.4 366.8,477.1 368.6,476.9 370.4,477.8 372.2,478.5 374.0,474.6 375.9,472.4 377.7,466.3 379.5,461.7 381.3,455.5 383.1,449.8 384.9,445.2 386.7,439.7 388.5,434.7 390.3,428.6 392.1,422.0 394.0,418.8 395.8,411.5 397.6,406.5 399.4,400.3 401.2,397.0 403.0,391.7 404.8,388.3 406.6,383.8 408.4,381.6 410.2,375.1 412.1,369.2 413.9,367.6 415.7,364.2 417.5,363.1 419.3,356.8 421.1,357.7 422.9,353.1 424.7,351.6 426.5,351.2 428.3,346.3 430.2,346.2 432.0,344.1 433.8,342.3 435.6,341.8 437.4,341.3 439.2,338.9 441.0,339.5 442.8,338.2 444.6,338.9 446.4,339.8 448.3,338.7 450.1,338.7 451.9,337.6 453.7,336.4 455.5,340.8 457.3,338.4 459.1,342.5 460.9,341.4 462.7,341.1 464.5,344.8 466.4,344.9 468.2,342.8 470.0,343.6 471.8,345.1 473.6,346.8 475.4,343.4 477.2,348.2 479.0,350.8 480.8,347.8 482.6,350.7 484.5,353.2 486.3,351.8 488.1,354.6 489.9,355.0 491.7,357.0 493.5,360.2 495.3,359.1 497.1,361.8 498.9,365.1 500.7,366.1 502.6,365.2 504.4,368.7 506.2,370.0 508.0,370.9 509.8,373.3 511.6,377.1 513.4,375.4 515.2,376.3 517.0,378.0 518.8,378.6 520.7,381.8 522.5,382.6 524.3,383.7 526.1,387.8 527.9,386.8 529.7,388.2 531.5,390.8 533.3,390.8 535.1,393.3 537.0,397.2 538.8,396.2 540.6,398.7 542.4,400.1 544.2,401.7 546.0,401.8 547.8,404.0 549.6,407.0 551.4,407.1 553.2,413.9 555.0,422.2 556.9,427.7 558.7,433.0 560.5,437.8 562.3,441.2 564.1,445.0 565.9,448.2 567.7,451.8 569.5,455.6 571.3,458.4 573.1,460.7 575.0,464.7 576.8,466.3 578.6,468.7 580.4,471.0 582.2,473.0 584.0,475.0 585.8,476.2 587.6,478.2 589.4,478.0 591.2,479.5 593.1,480.4 594.9,481.6 596.7,481.9 598.5,483.9 600.3,484.3 602.1,486.0 603.9,487.4 605.7,487.9 607.5,486.2 609.3,489.5 611.2,488.2 613.0,487.5 614.8,489.2 616.6,488.2 618.4,488.4 620.2,489.0 622.0,488.4 623.8,490.1 625.6,491.5 627.4,491.0 629.3,492.0 631.1,492.6 632.9,492.9 634.7,490.5 636.5,492.5 638.3,492.3 640.1,493.0 641.9,492.1 643.7,492.4 645.5,492.2 647.4,492.8 649.2,493.5 651.0,493.1 652.8,492.4 654.6,491.7 656.4,492.8 658.2,492.3 660.0,493.1 661.8,493.6 663.6,494.0 665.5,492.9 667.3,494.4 669.1,493.2 670.9,491.7 672.7,492.8 674.5,491.9 676.3,493.1 678.1,493.9 679.9,493.6 681.8,493.7 683.6,492.7 685.4,491.9 687.2,493.5 689.0,493.2 690.8,492.7 692.6,492.5 694.4,493.4 696.2,492.2 698.0,491.9 699.8,492.1 701.7,493.5 703.5,492.7 705.3,494.0 707.1,492.6 708.9,493.8 710.7,493.7 712.5,493.7 714.3,493.9 716.1,494.2 717.9,494.8 719.8,492.2 721.6,493.2 723.4,493.4 725.2,492.3 727.0,493.7 728.8,493.8 730.6,494.5 732.4,493.9 734.2,494.6 736.0,494.9 737.9,495.5 739.7,495.1 741.5,494.7 743.3,496.7 745.1,495.4 746.9,495.9 748.7,496.0 750.5,496.9 752.3,494.9 754.1,495.7 756.0,494.9 757.8,495.1 759.6,495.9 761.4,495.0 763.2,495.9 765.0,495.1 766.8,494.4 768.6,493.8 770.4,493.8 772.2,493.7 774.1,491.9 775.9,493.2 777.7,494.1 779.5,493.7 781.3,493.7 783.1,493.1 784.9,493.2 786.7,493.4 788.5,491.8 790.3,493.0"/><polyline points="184.0,471.9 185.8,471.7 187.6,472.0 189.4,472.6 191.2,471.9 193.1,472.1 194.9,472.3 196.7,471.2 198.5,472.5 200.3,471.2 202.1,472.3 203.9,471.5 205.7,471.4 207.5,471.3 209.3,472.5 211.2,472.3 213.0,472.2 214.8,471.4 216.6,470.7 218.4,470.6 220.2,471.9 222.0,471.1 223.8,472.4 225.6,473.2 227.4,472.0 229.2,472.1 231.1,472.5 232.9,472.5 234.7,470.5 236.5,471.5 238.3,472.0 240.1,468.5 241.9,470.4 243.7,470.7 245.5,469.9 247.3,471.1 249.2,469.2 251.0,471.5 252.8,471.4 254.6,470.0 256.4,469.9 258.2,468.3 260.0,470.8 261.8,469.9 263.6,469.1 265.4,468.6 267.3,468.5 269.1,469.1 270.9,467.6 272.7,469.9 274.5,469.2 276.3,468.7 278.1,469.4 279.9,469.3 281.7,469.1 283.6,468.8 285.4,469.3 287.2,468.7 289.0,468.9 290.8,467.3 292.6,469.3 294.4,465.3 296.2,465.2 298.0,465.6 299.8,466.2 301.6,465.8 303.5,463.6 305.3,464.0 307.1,463.2 308.9,463.9 310.7,462.3 312.5,463.7 314.3,462.7 316.1,464.0 317.9,463.1 319.8,462.3 321.6,462.8 323.4,463.4 325.2,463.2 327.0,464.3 328.8,463.3 330.6,467.1 332.4,465.4 334.2,465.4 336.0,467.8 337.9,468.1 339.7,466.9 341.5,469.2 343.3,469.3 345.1,468.9 346.9,469.6 348.7,468.9 350.5,470.4 352.3,469.6 354.1,469.2 355.9,469.8 357.8,472.1 359.6,469.8 361.4,470.1 363.2,471.0 365.0,469.4 366.8,471.9 368.6,468.5 370.4,470.6 372.2,468.6 374.0,470.1 375.9,470.0 377.7,467.1 379.5,465.0 381.3,462.7 383.1,460.3 384.9,460.2 386.7,456.9 388.5,454.9 390.3,453.7 392.1,452.1 394.0,450.2 395.8,446.0 397.6,444.1 399.4,443.6 401.2,442.3 403.0,437.9 404.8,439.3 406.6,435.9 408.4,435.3 410.2,434.7 412.1,431.2 413.9,430.2 415.7,427.4 417.5,425.3 419.3,426.7 421.1,424.2 422.9,422.9 424.7,423.9 426.5,423.4 428.3,420.4 430.2,421.9 432.0,421.3 433.8,420.2 435.6,419.6 437.4,419.2 439.2,417.2 441.0,416.2 442.8,417.8 444.6,418.4 446.4,416.6 448.3,418.4 450.1,417.6 451.9,415.6 453.7,414.8 455.5,417.0 457.3,418.7 459.1,417.4 460.9,420.7 462.7,419.1 464.5,416.6 466.4,417.6 468.2,420.3 470.0,421.6 471.8,419.5 473.6,421.4 475.4,422.6 477.2,422.1 479.0,423.7 480.8,426.1 482.6,423.8 484.5,425.8 486.3,426.9 488.1,427.7 489.9,426.5 491.7,428.3 493.5,426.9 495.3,428.6 497.1,427.7 498.9,429.9 500.7,430.6 502.6,432.8 504.4,432.9 506.2,431.4 508.0,429.5 509.8,434.4 511.6,435.1 513.4,434.2 515.2,434.8 517.0,436.3 518.8,435.9 520.7,438.4 522.5,437.5 524.3,436.8 526.1,436.5 527.9,438.9 529.7,439.9 531.5,439.5 533.3,439.5 535.1,440.6 537.0,442.5 538.8,442.1 540.6,441.3 542.4,443.8 544.2,444.6 546.0,443.3 547.8,443.6 549.6,443.7 551.4,444.6 553.2,448.3 555.0,451.0 556.9,453.8 558.7,455.7 560.5,457.2 562.3,459.3 564.1,459.8 565.9,463.4 567.7,464.1 569.5,466.0 571.3,465.7 573.1,467.6 575.0,469.2 576.8,469.3 578.6,471.0 580.4,472.6 582.2,471.7 584.0,473.3 585.8,473.2 587.6,474.6 589.4,475.4 591.2,476.4 593.1,477.8 594.9,477.3 596.7,478.5 598.5,478.3 600.3,479.3 602.1,480.5 603.9,481.1 605.7,480.1 607.5,480.2 609.3,482.0 611.2,481.7 613.0,481.7 614.8,483.3 616.6,482.7 618.4,483.4 620.2,482.2 622.0,482.5 623.8,483.3 625.6,484.5 627.4,483.5 629.3,482.8 631.1,483.7 632.9,483.7 634.7,483.0 636.5,484.5 638.3,483.7 640.1,483.0 641.9,483.8 643.7,483.8 645.5,483.1 647.4,483.5 649.2,483.6 651.0,483.4 652.8,483.7 654.6,485.0 656.4,484.8 658.2,484.1 660.0,483.6 661.8,483.3 663.6,485.0 665.5,483.6 667.3,484.1 669.1,484.9 670.9,484.6 672.7,484.3 674.5,483.4 676.3,485.7 678.1,484.7 679.9,485.0 681.8,485.2 683.6,484.1 685.4,484.3 687.2,485.6 689.0,485.0 690.8,484.6 692.6,485.9 694.4,484.3 696.2,485.0 698.0,484.9 699.8,484.6 701.7,483.2 703.5,484.8 705.3,484.8 707.1,483.2 708.9,484.7 710.7,484.7 712.5,485.4 714.3,483.7 716.1,484.5 717.9,484.2 719.8,484.4 721.6,484.8 723.4,485.6 725.2,485.6 727.0,484.3 728.8,484.4 730.6,483.8 732.4,485.1 734.2,484.8 736.0,485.2 737.9,483.9 739.7,485.7 741.5,484.4 743.3,483.9 745.1,484.9 746.9,484.5 748.7,486.3 750.5,485.2 752.3,486.3 754.1,485.0 756.0,485.1 757.8,485.5 759.6,484.2 761.4,484.7 763.2,485.4 765.0,485.1 766.8,485.5 768.6,485.2 770.4,483.7 772.2,485.6 774.1,484.7 775.9,485.3 777.7,484.3 779.5,484.4 781.3,485.2 783.1,486.3 784.9,485.4 786.7,484.0 788.5,484.9 790.3,484.1"/><polyline points="184.0,500.4 185.8,500.0 187.6,500.3 189.4,501.2 191.2,500.8 193.1,500.0 194.9,500.3 196.7,500.4 198.5,500.4 200.3,501.1 202.1,501.3 203.9,500.2 205.7,501.8 207.5,500.8 209.3,501.7 211.2,501.0 213.0,501.2 214.8,501.7 216.6,500.7 218.4,501.5 220.2,501.4 222.0,501.5 223.8,501.5 225.6,499.9 227.4,501.2 229.2,501.1 231.1,501.8 232.9,501.2 234.7,501.2 236.5,501.3 238.3,501.3 240.1,501.2 241.9,500.6 243.7,501.6 245.5,501.7 247.3,501.7 249.2,500.1 251.0,500.6 252.8,501.2 254.6,500.8 256.4,501.5 258.2,500.9 260.0,500.6 261.8,500.7 263.6,501.3 265.4,500.9 267.3,499.9 269.1,499.8 270.9,501.4 272.7,499.8 274.5,499.3 276.3,500.2 278.1,499.6 279.9,501.0 281.7,499.7 283.6,500.7 285.4,500.7 287.2,500.4 289.0,498.6 290.8,500.5 292.6,501.1 294.4,500.0 296.2,500.1 298.0,499.1 299.8,500.8 301.6,501.4 303.5,500.8 305.3,500.3 307.1,500.2 308.9,499.9 310.7,501.3 312.5,500.9 314.3,499.9 316.1,499.4 317.9,499.9 319.8,500.3 321.6,500.7 323.4,499.2 325.2,499.1 327.0,498.1 328.8,499.9 330.6,498.9 332.4,500.9 334.2,500.7 336.0,501.1 337.9,501.1 339.7,501.0 341.5,501.1 343.3,500.7 345.1,500.8 346.9,500.2 348.7,500.6 350.5,500.5 352.3,499.5 354.1,499.9 355.9,500.3 357.8,500.3 359.6,499.9 361.4,499.9 363.2,500.4 365.0,499.3 366.8,498.8 368.6,499.0 370.4,499.9 372.2,500.5 374.0,499.6 375.9,497.5 377.7,493.2 379.5,489.2 381.3,483.5 383.1,476.1 384.9,471.6 386.7,463.9 388.5,457.0 390.3,452.5 392.1,444.1 394.0,438.3 395.8,432.2 397.6,426.8 399.4,420.9 401.2,412.4 403.0,407.4 404.8,400.8 406.6,397.2 408.4,390.6 410.2,385.2 412.1,382.1 413.9,377.6 415.7,370.0 417.5,366.3 419.3,363.5 421.1,358.4 422.9,353.7 424.7,348.6 426.5,349.7 428.3,344.4 430.2,339.5 432.0,340.5 433.8,336.0 435.6,340.0 437.4,331.8 439.2,332.5 441.0,334.1 442.8,328.2 444.6,326.7 446.4,325.5 448.3,325.0 450.1,326.0 451.9,326.5 453.7,325.5 455.5,324.7 457.3,323.6 459.1,325.0 460.9,324.4 462.7,322.9 464.5,324.1 466.4,320.9 468.2,321.6 470.0,327.6 471.8,327.3 473.6,329.2 475.4,329.7 477.2,327.8 479.0,331.4 480.8,332.7 482.6,332.5 484.5,331.7 486.3,335.2 488.1,336.8 489.9,336.6 491.7,338.5 493.5,340.0 495.3,340.5 497.1,345.0 498.9,345.0 500.7,348.2 502.6,347.4 504.4,349.6 506.2,354.2 508.0,352.2 509.8,357.7 511.6,356.1 513.4,359.8 515.2,363.0 517.0,365.1 518.8,365.8 520.7,366.9 522.5,369.0 524.3,369.0 526.1,373.0 527.9,373.0 529.7,374.9 531.5,379.4 533.3,378.0 535.1,381.7 537.0,385.2 538.8,384.7 540.6,385.9 542.4,386.3 544.2,389.9 546.0,389.3 547.8,390.8 549.6,392.4 551.4,394.1 553.2,405.4 555.0,415.9 556.9,423.1 558.7,430.6 560.5,438.3 562.3,445.1 564.1,452.3 565.9,455.3 567.7,460.2 569.5,466.0 571.3,468.5 573.1,471.5 575.0,475.0 576.8,477.3 578.6,479.7 580.4,483.7 582.2,484.7 584.0,486.3 585.8,487.4 587.6,488.4 589.4,492.2 591.2,492.3 593.1,492.9 594.9,493.7 596.7,494.2 598.5,497.0 600.3,497.2 602.1,498.4 603.9,497.8 605.7,499.7 607.5,498.8 609.3,499.2 611.2,500.2 613.0,502.2 614.8,501.5 616.6,501.3 618.4,502.9 620.2,502.4 622.0,503.2 623.8,502.7 625.6,503.2 627.4,503.4 629.3,504.2 631.1,503.9 632.9,504.1 634.7,503.5 636.5,504.4 638.3,503.8 640.1,505.8 641.9,503.9 643.7,504.6 645.5,503.9 647.4,504.2 649.2,503.6 651.0,503.5 652.8,504.5 654.6,504.0 656.4,504.4 658.2,504.0 660.0,505.1 661.8,504.4 663.6,503.9 665.5,504.1 667.3,503.7 669.1,504.8 670.9,503.0 672.7,503.5 674.5,502.5 676.3,504.0 678.1,504.4 679.9,503.5 681.8,504.5 683.6,503.4 685.4,503.9 687.2,503.9 689.0,503.3 690.8,503.6 692.6,502.2 694.4,503.0 696.2,504.2 698.0,502.9 699.8,504.6 701.7,504.1 703.5,505.2 705.3,504.8 707.1,503.8 708.9,504.9 710.7,504.9 712.5,505.1 714.3,504.7 716.1,503.8 717.9,505.6 719.8,505.7 721.6,504.7 723.4,505.8 725.2,505.5 727.0,504.9 728.8,505.7 730.6,505.6 732.4,505.7 734.2,505.9 736.0,505.7 737.9,505.1 739.7,504.3 741.5,504.4 743.3,505.0 745.1,505.2 746.9,504.4 748.7,505.7 750.5,505.2 752.3,505.0 754.1,505.6 756.0,505.7 757.8,504.9 759.6,506.0 761.4,505.1 763.2,504.8 765.0,504.4 766.8,505.4 768.6,504.0 770.4,504.6 772.2,504.5 774.1,504.7 775.9,504.8 777.7,505.1 779.5,503.9 781.3,504.4 783.1,504.6 784.9,503.9 786.7,504.8 788.5,504.0 790.3,504.4"/><polyline points="184.0,482.8 185.8,483.0 187.6,480.9 189.4,481.4 191.2,483.1 193.1,481.7 194.9,482.2 196.7,480.9 198.5,481.6 200.3,481.6 202.1,481.4 203.9,481.2 205.7,481.6 207.5,481.6 209.3,481.5 211.2,481.1 213.0,482.7 214.8,481.9 216.6,482.0 218.4,482.1 220.2,481.6 222.0,483.0 223.8,482.5 225.6,483.4 227.4,482.4 229.2,483.1 231.1,482.9 232.9,483.0 234.7,484.3 236.5,483.2 238.3,483.8 240.1,483.3 241.9,482.8 243.7,482.1 245.5,481.9 247.3,481.5 249.2,482.2 251.0,482.4 252.8,482.2 254.6,481.2 256.4,480.6 258.2,481.5 260.0,481.9 261.8,480.8 263.6,481.1 265.4,481.0 267.3,481.5 269.1,482.4 270.9,481.2 272.7,479.7 274.5,480.2 276.3,481.9 278.1,480.9 279.9,482.3 281.7,479.7 283.6,480.9 285.4,482.0 287.2,481.0 289.0,482.1 290.8,481.0 292.6,481.5 294.4,482.1 296.2,480.9 298.0,482.4 299.8,480.6 301.6,481.6 303.5,482.3 305.3,482.9 307.1,480.6 308.9,480.7 310.7,482.7 312.5,480.7 314.3,481.3 316.1,481.6 317.9,481.4 319.8,481.3 321.6,480.1 323.4,480.9 325.2,482.3 327.0,479.6 328.8,480.4 330.6,481.8 332.4,481.3 334.2,481.9 336.0,481.0 337.9,480.6 339.7,480.8 341.5,481.8 343.3,481.9 345.1,481.1 346.9,481.5 348.7,480.0 350.5,482.3 352.3,481.4 354.1,482.0 355.9,482.7 357.8,481.5 359.6,482.2 361.4,483.2 363.2,482.8 365.0,482.1 366.8,483.8 368.6,482.1 370.4,482.7 372.2,483.1 374.0,482.6 375.9,482.0 377.7,482.3 379.5,480.9 381.3,476.8 383.1,475.0 384.9,474.0 386.7,470.0 388.5,466.5 390.3,463.3 392.1,460.5 394.0,454.9 395.8,451.9 397.6,447.8 399.4,443.3 401.2,441.3 403.0,437.0 404.8,432.7 406.6,429.8 408.4,426.3 410.2,421.8 412.1,419.7 413.9,414.9 415.7,414.2 417.5,410.8 419.3,409.7 421.1,405.3 422.9,403.5 424.7,398.3 426.5,396.5 428.3,394.4 430.2,390.1 432.0,388.3 433.8,387.3 435.6,386.9 437.4,385.7 439.2,382.3 441.0,381.4 442.8,380.3 444.6,378.3 446.4,378.5 448.3,372.6 450.1,374.7 451.9,372.7 453.7,369.4 455.5,370.7 457.3,366.4 459.1,365.3 460.9,366.4 462.7,366.6 464.5,365.2 466.4,366.6 468.2,361.9 470.0,363.6 471.8,364.2 473.6,364.5 475.4,362.3 477.2,360.7 479.0,363.7 480.8,362.7 482.6,364.3 484.5,361.0 486.3,361.9 488.1,359.3 489.9,363.0 491.7,363.9 493.5,364.2 495.3,362.5 497.1,366.4 498.9,363.5 500.7,364.6 502.6,366.1 504.4,367.1 506.2,364.6 508.0,364.3 509.8,368.0 511.6,367.3 513.4,366.2 515.2,370.5 517.0,370.9 518.8,373.0 520.7,372.7 522.5,373.2 524.3,374.4 526.1,375.6 527.9,377.6 529.7,378.0 531.5,378.3 533.3,376.9 535.1,379.1 537.0,380.4 538.8,379.3 540.6,380.3 542.4,382.4 544.2,382.8 546.0,382.0 547.8,383.2 549.6,385.6 550.5,486.2 551.4,384.8 553.2,392.4 555.0,397.7 556.9,406.1 558.7,409.9 560.5,415.6 562.3,422.1 564.1,424.5 565.9,429.3 567.7,435.3 569.5,435.8 571.3,442.3 573.1,445.1 575.0,447.6 576.8,449.3 578.6,452.6 580.4,455.7 582.2,456.9 584.0,459.6 585.8,460.8 587.6,461.8 589.4,465.7 591.2,469.6 593.1,469.5 594.9,471.2 596.7,471.7 598.5,472.8 600.3,475.1 602.1,475.7 603.9,476.6 605.7,477.4 607.5,479.9 609.3,478.3 611.2,479.6 613.0,480.4 614.8,480.2 616.6,481.7 618.4,481.5 620.2,481.0 622.0,481.3 623.8,481.9 625.6,482.9 627.4,483.8 629.3,481.9 631.1,482.9 632.9,484.0 634.7,485.4 636.5,484.4 638.3,485.6 640.1,483.3 641.9,484.2 643.7,484.9 645.5,484.6 647.4,482.7 649.2,483.8 651.0,486.5 652.8,485.5 654.6,486.6 656.4,487.3 658.2,485.8 660.0,484.6 661.8,484.9 663.6,485.9 665.5,486.7 667.3,486.4 669.1,485.9 670.9,487.5 672.7,488.0 674.5,485.5 676.3,486.7 678.1,485.7 679.9,487.0 681.8,486.1 683.6,487.4 685.4,486.1 687.2,485.1 689.0,485.6 690.8,486.7 692.6,485.7 694.4,487.1 696.2,487.5 698.0,486.3 699.8,485.6 701.7,486.3 703.5,487.9 705.3,486.2 707.1,486.5 708.9,487.2 710.7,488.2 712.5,485.5 714.3,486.0 716.1,486.2 717.9,487.9 719.8,488.0 721.6,486.4 723.4,486.3 725.2,486.7 727.0,486.9 728.8,486.2 730.6,486.9 732.4,486.9 734.2,487.1 736.0,486.2 737.9,486.4 739.7,485.3 741.5,485.3 743.3,486.6 745.1,485.0 746.9,487.3 748.7,486.8 750.5,486.0 752.3,485.6 754.1,488.1 756.0,485.7 757.8,485.5 759.6,485.5 761.4,487.9 763.2,486.5 765.0,486.2 766.8,486.2 768.6,484.8 770.4,486.3 772.2,485.0 774.1,485.7 775.9,487.2 777.7,487.0 779.5,486.6 781.3,486.0 783.1,485.4 784.9,485.8 786.7,485.1 788.5,487.0 790.3,488.1"/><polyline points="184.0,493.3 185.8,492.1 187.6,491.3 189.4,492.2 191.2,491.5 193.1,492.0 194.9,490.9 196.7,490.7 198.5,490.4 200.3,490.6 202.1,491.8 203.9,491.0 205.7,491.1 207.5,490.7 209.3,493.1 211.2,491.7 213.0,493.3 214.8,491.9 216.6,491.9 218.4,492.0 220.2,492.4 222.0,493.3 223.8,494.0 225.6,493.7 227.4,493.2 229.2,494.1 231.1,494.4 232.9,494.9 234.7,493.3 236.5,495.1 238.3,494.8 240.1,495.2 241.9,495.1 243.7,494.7 245.5,493.9 247.3,494.2 249.2,493.8 251.0,493.3 252.8,494.9 254.6,493.5 256.4,492.5 258.2,491.9 260.0,494.5 261.8,494.1 263.6,493.0 265.4,493.4 267.3,493.9 269.1,493.4 270.9,494.2 272.7,495.0 274.5,493.9 276.3,493.4 278.1,492.8 279.9,492.2 281.7,492.5 283.6,492.8 285.4,492.9 287.2,493.6 289.0,492.7 290.8,492.2 292.6,492.7 294.4,491.5 296.2,492.4 298.0,493.8 299.8,492.4 301.6,492.2 303.5,493.6 305.3,493.6 307.1,492.2 308.9,491.6 310.7,492.8 312.5,492.6 314.3,493.2 316.1,493.9 317.9,494.0 319.8,493.3 321.6,493.7 323.4,494.4 325.2,495.8 327.0,493.0 328.8,494.5 330.6,494.0 332.4,495.1 334.2,494.2 336.0,494.7 337.9,493.7 339.7,493.8 341.5,493.0 343.3,494.3 345.1,493.8 346.9,493.2 348.7,491.2 350.5,493.7 352.3,492.4 354.1,493.1 355.9,492.2 357.8,492.0 359.6,492.0 361.4,491.8 363.2,491.8 365.0,492.8 366.8,492.6 368.6,493.4 370.4,492.6 372.2,491.4 374.0,488.1 375.9,483.9 377.7,480.6 379.5,476.7 381.3,472.0 383.1,470.1 384.9,463.5 386.7,459.3 388.5,454.9 390.3,451.6 392.1,445.5 394.0,441.0 395.8,437.5 397.6,434.5 399.4,429.8 401.2,425.6 403.0,421.1 404.8,418.2 406.6,416.4 408.4,413.5 410.2,410.4 412.1,407.7 413.9,405.7 415.7,401.5 417.5,400.9 419.3,399.5 421.1,396.1 422.9,395.7 424.7,393.4 426.5,394.4 428.3,389.4 430.2,389.1 432.0,387.7 433.8,386.4 435.6,386.0 437.4,386.1 439.2,382.1 441.0,384.7 442.8,382.2 444.6,380.8 446.4,383.9 448.3,382.7 450.1,383.9 451.9,381.6 453.7,383.5 455.5,384.3 457.3,381.4 459.1,382.0 460.9,385.0 462.7,382.7 464.5,384.9 466.4,382.2 468.2,384.2 470.0,387.4 471.8,388.0 473.6,389.3 475.4,389.1 477.2,390.2 479.0,390.1 480.8,392.3 482.6,395.4 484.5,395.5 486.3,394.2 488.1,395.7 489.9,398.6 491.7,400.0 493.5,401.2 495.3,402.6 497.1,405.7 498.9,403.9 500.7,406.8 502.6,406.9 504.4,410.6 506.2,408.7 508.0,408.4 509.8,414.2 511.6,411.4 513.4,414.0 515.2,416.5 517.0,418.2 518.8,416.2 520.7,418.7 522.5,418.7 524.3,421.3 526.1,422.8 527.9,422.1 529.7,425.2 531.5,424.4 533.3,428.4 535.1,428.8 537.0,430.3 538.8,429.0 540.6,434.0 542.4,434.5 544.2,433.8 546.0,435.4 547.8,434.6 549.6,436.2 551.4,438.3 553.2,443.6 555.0,451.0 556.9,454.5 558.7,458.3 560.5,461.6 562.3,466.5 564.1,469.6 565.9,472.8 567.7,474.1 569.5,477.2 571.3,480.3 573.1,482.7 575.0,484.2 576.8,486.6 578.6,488.5 580.4,491.6 582.2,491.5 584.0,492.5 585.8,494.0 587.6,495.6 589.4,497.5 591.2,497.6 593.1,500.0 594.9,502.3 596.7,503.4 598.5,502.9 600.3,503.5 602.1,503.8 603.9,504.2 605.7,505.0 607.5,506.4 609.3,506.3 611.2,507.4 613.0,507.1 614.8,507.8 616.6,506.8 618.4,507.0 620.2,508.4 622.0,507.0 623.8,507.2 625.6,508.3 627.4,507.8 629.3,507.7 631.1,508.4 632.9,507.7 634.7,507.9 636.5,507.6 638.3,508.8 640.1,509.2 641.9,508.7 643.7,508.7 645.5,509.0 647.4,509.3 649.2,509.4 651.0,509.3 652.8,510.0 654.6,509.6 656.4,509.6 658.2,510.0 660.0,510.1 661.8,510.1 663.6,509.1 665.5,509.3 667.3,510.1 669.1,509.9 670.9,510.2 672.7,510.0 674.5,509.8 676.3,510.3 678.1,510.9 679.9,511.3 681.8,509.8 683.6,509.8 685.4,511.1 687.2,510.2 689.0,510.6 690.8,510.8 692.6,511.4 694.4,511.3 696.2,511.1 698.0,512.3 699.8,511.2 701.7,511.5 703.5,512.8 705.3,511.0 707.1,511.6 708.9,511.5 710.7,511.7 712.5,511.8 714.3,512.2 716.1,512.0 717.9,512.3 719.8,510.9 721.6,511.5 723.4,513.0 725.2,512.7 727.0,511.9 728.8,511.6 730.6,512.2 732.4,512.5 734.2,510.6 736.0,510.5 737.9,512.0 739.7,512.2 741.5,511.6 743.3,511.1 745.1,510.8 746.9,511.3 748.7,512.4 750.5,511.2 752.3,511.1 754.1,511.2 756.0,511.2 757.8,510.0 759.6,510.4 761.4,510.8 763.2,510.2 765.0,511.0 766.8,509.5 768.6,509.6 770.4,510.5 772.2,510.1 774.1,509.4 775.9,511.4 777.7,510.3 779.5,509.2 781.3,511.1 783.1,510.2 784.9,510.7 786.7,510.1 788.5,511.4 790.3,510.9"/><polyline points="184.0,486.3 185.8,485.6 187.6,485.3 189.4,487.3 191.2,486.8 193.1,486.2 194.9,486.9 196.7,487.1 198.5,486.6 200.3,485.6 202.1,486.0 203.9,487.1 205.7,487.3 207.5,488.2 209.3,486.8 211.2,486.4 213.0,487.1 214.8,486.3 216.6,486.3 218.4,486.6 220.2,487.3 222.0,487.0 223.8,487.1 225.6,486.0 227.4,486.0 229.2,486.1 231.1,486.2 232.9,486.6 234.7,484.6 236.5,487.1 238.3,485.0 240.1,485.2 241.9,485.2 243.7,485.9 245.5,485.3 247.3,485.9 249.2,486.0 251.0,485.0 252.8,485.7 254.6,483.5 256.4,483.4 258.2,486.8 260.0,485.3 261.8,484.0 263.6,484.2 265.4,484.5 267.3,484.2 269.1,483.9 270.9,483.7 272.7,483.4 274.5,484.4 276.3,483.9 278.1,485.7 279.9,485.1 281.7,486.1 283.6,484.7 285.4,484.3 287.2,485.7 289.0,487.6 290.8,487.0 292.6,487.2 294.4,487.2 296.2,486.5 298.0,486.4 299.8,489.1 301.6,486.2 303.5,487.4 305.3,487.5 307.1,486.4 308.9,487.0 310.7,488.1 312.5,487.8 314.3,486.8 316.1,485.6 317.9,485.5 319.8,486.4 321.6,486.4 323.4,485.0 325.2,486.4 327.0,485.0 328.8,485.6 330.6,485.5 332.4,485.8 334.2,485.5 336.0,486.3 337.9,486.5 339.7,486.2 341.5,486.6 343.3,485.6 345.1,486.0 346.9,486.0 348.7,486.3 350.5,486.4 352.3,485.0 354.1,486.4 355.9,486.9 357.8,486.7 359.6,486.1 361.4,486.7 363.2,486.7 365.0,486.8 366.8,486.6 368.6,486.8 370.4,486.3 372.2,486.5 374.0,484.8 375.9,483.9 377.7,479.3 379.5,477.7 381.3,475.3 383.1,474.0 384.9,470.7 386.7,469.0 388.5,467.0 390.3,465.6 392.1,463.0 394.0,460.7 395.8,457.0 397.6,454.2 399.4,454.0 401.2,451.8 403.0,449.9 404.8,449.2 406.6,448.7 408.4,446.2 410.2,445.0 412.1,442.9 413.9,441.0 415.7,439.4 417.5,438.2 419.3,436.2 421.1,436.7 422.9,434.4 424.7,436.1 426.5,433.5 428.3,432.2 430.2,433.2 432.0,433.7 433.8,431.3 435.6,432.0 437.4,429.7 439.2,429.4 441.0,429.7 442.8,429.5 444.6,428.4 446.4,428.7 448.3,430.0 450.1,429.4 451.9,428.6 453.7,428.8 455.5,429.2 457.3,429.6 459.1,429.8 460.9,430.8 462.7,431.5 464.5,429.1 466.4,430.6 468.2,430.2 470.0,431.9 471.8,430.7 473.6,432.4 475.4,429.1 477.2,433.9 479.0,434.4 480.8,432.7 482.6,433.3 484.5,437.1 486.3,434.9 488.1,435.1 489.9,437.9 491.7,436.7 493.5,438.6 495.3,439.4 497.1,439.6 498.9,440.5 500.7,442.2 502.6,439.3 504.4,442.4 506.2,443.4 508.0,442.8 509.8,444.1 511.6,443.1 513.4,445.1 515.2,445.3 517.0,446.4 518.8,446.9 520.7,447.8 522.5,448.2 524.3,447.0 526.1,450.0 527.9,450.9 529.7,451.3 531.5,451.4 533.3,452.3 535.1,452.4 537.0,454.9 538.8,454.4 540.6,455.5 542.4,456.2 544.2,456.6 546.0,458.9 547.8,457.6 549.6,457.9 551.4,459.9 553.2,460.9 555.0,461.9 556.9,465.6 558.7,467.0 560.5,469.6 562.3,471.8 564.1,473.3 565.9,474.3 567.7,474.0 569.5,475.3 571.3,477.6 573.1,477.3 575.0,479.5 576.8,480.8 578.6,481.1 580.4,482.7 582.2,483.9 584.0,482.6 585.8,486.0 587.6,484.7 589.4,487.0 591.2,486.0 593.1,486.7 594.9,487.0 596.7,488.5 598.5,487.4 600.3,487.5 602.1,488.6 603.9,488.3 605.7,487.7 607.5,489.2 609.3,488.9 611.2,489.8 613.0,489.0 614.8,488.9 616.6,487.7 618.4,488.8 620.2,489.5 622.0,489.1 623.8,490.7 625.6,489.6 627.4,491.0 629.3,491.4 631.1,490.3 632.9,491.2 634.7,490.4 636.5,492.2 638.3,490.9 640.1,491.5 641.9,491.2 643.7,492.4 645.5,490.6 647.4,491.2 649.2,492.0 651.0,492.0 652.8,491.8 654.6,490.6 656.4,491.1 658.2,490.9 660.0,490.6 661.8,490.6 663.6,490.5 665.5,490.1 667.3,490.3 669.1,490.0 670.9,491.4 672.7,490.6 674.5,490.7 676.3,490.3 678.1,490.7 679.9,491.4 681.8,491.4 683.6,490.3 685.4,491.3 687.2,491.8 689.0,490.2 690.8,490.2 692.6,491.1 694.4,490.6 696.2,491.2 698.0,490.6 699.8,490.0 701.7,490.2 703.5,490.8 705.3,491.2 707.1,491.9 708.9,490.6 710.7,490.7 712.5,490.3 714.3,489.8 716.1,490.8 717.9,490.3 719.8,491.7 721.6,490.2 723.4,490.3 725.2,490.6 727.0,491.0 728.8,491.1 730.6,490.6 732.4,492.4 734.2,491.7 736.0,491.4 737.9,492.1 739.7,492.8 741.5,491.4 743.3,492.0 745.1,491.6 746.9,491.7 748.7,492.8 750.5,491.8 752.3,491.2 754.1,492.1 756.0,492.2 757.8,492.3 759.6,490.8 761.4,489.8 763.2,491.8 765.0,490.4 766.8,490.3 768.6,490.9 770.4,490.9 772.2,491.2 774.1,491.5 775.9,490.6 777.7,490.6 779.5,490.8 781.3,490.4 783.1,490.8 784.9,491.7 786.7,490.1 788.5,490.5 790.3,491.7"/><polyline points="184.0,458.6 185.8,460.1 187.6,459.6 189.4,458.8 191.2,460.0 193.1,460.7 194.9,459.0 196.7,459.6 198.5,460.0 200.3,458.2 202.1,459.3 203.9,461.4 205.7,459.2 207.5,459.5 209.3,458.4 211.2,460.3 213.0,460.6 214.8,460.6 216.6,460.7 218.4,462.2 220.2,460.9 222.0,461.5 223.8,460.1 225.6,459.3 227.4,462.7 229.2,462.5 231.1,462.1 232.9,461.8 234.7,462.4 236.5,461.8 238.3,460.8 240.1,462.5 241.9,462.8 243.7,463.5 245.5,460.5 247.3,460.8 249.2,463.4 251.0,462.9 252.8,461.2 254.6,460.5 256.4,460.8 258.2,461.2 260.0,460.6 261.8,460.8 263.6,461.5 265.4,459.4 267.3,461.2 269.1,462.6 270.9,461.4 272.7,462.9 274.5,461.7 276.3,460.8 278.1,462.7 279.9,460.2 281.7,459.3 283.6,460.2 285.4,461.3 287.2,461.3 289.0,461.4 290.8,462.6 292.6,462.8 294.4,462.1 296.2,462.1 298.0,461.5 299.8,463.1 301.6,460.3 303.5,461.3 305.3,461.4 307.1,463.3 308.9,460.7 310.7,462.3 312.5,460.5 314.3,461.4 316.1,463.1 317.9,462.5 319.8,460.7 321.6,461.5 323.4,462.3 325.2,462.0 327.0,461.7 328.8,462.1 330.6,461.8 332.4,461.7 334.2,461.3 336.0,460.6 337.9,461.9 339.7,460.1 341.5,460.3 343.3,459.5 345.1,459.7 346.9,459.8 348.7,460.1 350.5,459.8 352.3,460.5 354.1,460.0 355.9,461.0 357.8,460.6 359.6,460.0 361.4,460.2 363.2,459.6 365.0,461.0 366.8,458.7 368.6,460.6 370.4,459.8 372.2,460.2 374.0,459.2 375.9,460.5 377.7,459.8 379.5,457.9 381.3,453.2 383.1,449.9 384.9,444.3 386.7,439.2 388.5,438.6 390.3,433.0 392.1,426.8 394.0,420.8 395.8,416.7 397.6,412.3 399.4,407.8 401.2,403.1 403.0,397.5 404.8,394.7 406.6,393.2 408.4,388.2 410.2,383.4 412.1,381.6 413.9,377.7 415.7,374.6 417.5,371.3 419.3,366.5 421.1,365.0 422.9,363.1 424.7,360.0 426.5,356.6 428.3,351.1 430.2,351.7 432.0,348.2 433.8,348.0 435.6,350.1 437.4,344.7 439.2,345.2 441.0,344.3 442.8,342.4 444.6,337.0 446.4,341.5 448.3,338.7 450.1,335.2 451.9,335.7 453.7,339.1 455.5,335.8 457.3,335.9 459.1,335.4 460.9,333.5 462.7,335.5 464.5,335.4 466.4,332.7 468.2,338.4 470.0,335.9 471.8,334.9 473.6,338.3 475.4,337.7 477.2,339.3 479.0,337.8 480.8,339.5 482.6,337.8 484.5,337.9 486.3,340.1 488.1,341.3 489.9,341.5 491.7,342.9 493.5,345.7 495.3,342.8 497.1,345.4 498.9,345.4 500.7,349.6 502.6,347.3 504.4,346.4 506.2,350.0 508.0,354.5 509.8,353.2 511.6,354.5 513.4,355.6 515.2,357.6 517.0,357.7 518.8,360.3 520.7,360.5 522.5,363.0 524.3,362.9 526.1,362.6 527.9,365.8 529.7,365.6 531.5,369.4 533.3,369.6 535.1,371.4 537.0,370.6 538.8,374.5 540.6,373.1 542.4,377.8 544.2,377.0 546.0,376.6 547.8,378.2 549.6,381.5 550.5,385.1 551.4,382.8 553.2,390.5 555.0,402.2 556.9,408.4 558.7,416.9 560.5,423.1 562.3,427.0 564.1,433.4 565.9,438.7 567.7,445.1 569.5,447.1 571.3,450.1 573.1,453.4 575.0,455.1 576.8,460.5 578.6,461.1 580.4,463.3 582.2,465.8 584.0,465.5 585.8,469.8 587.6,470.2 589.4,471.6 591.2,474.9 593.1,475.6 594.9,476.5 596.7,475.7 598.5,475.8 600.3,476.9 602.1,478.1 603.9,480.4 605.7,479.2 607.5,480.5 609.3,479.5 611.2,479.6 613.0,479.1 614.8,480.6 616.6,481.1 618.4,482.7 620.2,482.1 622.0,483.0 623.8,481.5 625.6,482.7 627.4,481.7 629.3,482.1 631.1,482.0 632.9,481.7 634.7,482.6 636.5,482.0 638.3,482.5 640.1,480.9 641.9,482.4 643.7,481.3 645.5,480.4 647.4,483.7 649.2,482.5 651.0,481.8 652.8,480.6 654.6,482.1 656.4,481.2 658.2,481.9 660.0,481.0 661.8,482.7 663.6,481.5 665.5,484.5 667.3,483.7 669.1,480.5 670.9,481.4 672.7,482.0 674.5,480.3 676.3,481.0 678.1,481.3 679.9,482.3 681.8,481.4 683.6,481.5 685.4,483.1 687.2,481.5 689.0,482.4 690.8,481.6 692.6,481.7 694.4,483.3 696.2,482.8 698.0,482.1 699.8,481.5 701.7,482.1 703.5,481.6 705.3,481.2 707.1,482.0 708.9,481.4 710.7,481.9 712.5,482.7 714.3,483.4 716.1,481.5 717.9,482.9 719.8,483.4 721.6,483.5 723.4,484.5 725.2,483.2 727.0,484.3 728.8,482.6 730.6,482.7 732.4,481.0 734.2,481.8 736.0,482.6 737.9,482.3 739.7,482.1 741.5,483.3 743.3,482.6 745.1,483.2 746.9,481.1 748.7,483.2 750.5,484.5 752.3,482.3 754.1,480.7 756.0,483.1 757.8,479.9 759.6,482.4 761.4,481.8 763.2,483.2 765.0,483.2 766.8,484.0 768.6,484.0 770.4,484.7 772.2,482.1 774.1,483.7 775.9,482.5 777.7,482.5 779.5,483.4 781.3,482.5 783.1,482.6 784.9,482.8 786.7,482.4 788.5,482.5 790.3,483.2"/><polyline points="184.0,477.8 185.8,478.5 187.6,477.6 189.4,478.1 191.2,478.1 193.1,477.3 194.9,479.1 196.7,477.8 198.5,478.5 200.3,479.6 202.1,478.2 203.9,478.6 205.7,477.0 207.5,478.5 209.3,478.4 211.2,477.9 213.0,479.8 214.8,478.1 216.6,478.9 218.4,477.1 220.2,477.3 222.0,478.5 223.8,480.0 225.6,478.5 227.4,478.5 229.2,478.1 231.1,478.7 232.9,479.1 234.7,478.7 236.5,479.6 238.3,477.3 240.1,479.3 241.9,479.4 243.7,479.4 245.5,480.0 247.3,479.6 249.2,479.4 251.0,478.9 252.8,479.1 254.6,477.8 256.4,478.6 258.2,480.0 260.0,478.9 261.8,477.8 263.6,479.1 265.4,478.4 267.3,478.6 269.1,478.1 270.9,478.1 272.7,477.9 274.5,478.7 276.3,477.8 278.1,479.1 279.9,476.5 281.7,477.9 283.6,478.1 285.4,477.2 287.2,478.2 289.0,477.5 290.8,477.7 292.6,478.2 294.4,478.6 296.2,478.6 298.0,477.6 299.8,478.8 301.6,478.7 303.5,479.0 305.3,478.2 307.1,477.5 308.9,479.8 310.7,478.4 312.5,478.7 314.3,478.9 316.1,478.7 317.9,479.8 319.8,478.1 321.6,478.9 323.4,480.0 325.2,478.4 327.0,479.1 328.8,478.7 330.6,480.4 332.4,479.4 334.2,479.3 336.0,478.6 337.9,478.4 339.7,480.7 341.5,479.1 343.3,479.2 345.1,478.3 346.9,479.4 348.7,480.4 350.5,479.5 352.3,480.0 354.1,480.0 355.9,478.9 357.8,479.2 359.6,478.4 361.4,479.7 363.2,476.3 365.0,477.5 366.8,478.0 368.6,479.5 370.4,480.2 372.2,479.0 374.0,477.7 375.9,473.8 377.7,471.9 379.5,470.6 381.3,465.9 383.1,462.0 384.9,459.2 386.7,453.7 388.5,450.7 390.3,447.9 392.1,444.9 394.0,439.6 395.8,434.4 397.6,432.9 399.4,429.2 401.2,422.4 403.0,422.1 404.8,413.3 406.6,412.4 408.4,407.2 410.2,402.3 412.1,403.2 413.9,399.4 415.7,391.6 417.5,391.7 419.3,388.4 421.1,385.2 422.9,381.6 424.7,378.7 426.5,377.6 428.3,375.7 430.2,372.9 432.0,370.3 433.8,366.8 435.6,366.4 437.4,361.9 439.2,363.9 441.0,359.7 442.8,356.3 444.6,355.5 446.4,355.7 448.3,355.9 450.1,354.3 451.9,352.3 453.7,350.1 455.5,350.0 457.3,350.9 459.1,348.7 460.9,345.7 462.7,344.2 464.5,346.8 466.4,344.6 468.2,346.0 470.0,343.8 471.8,337.0 473.6,342.4 475.4,343.2 477.2,343.6 479.0,344.1 480.8,345.0 482.6,342.0 484.5,342.7 486.3,340.0 488.1,345.3 489.9,342.2 491.7,341.1 493.5,346.7 495.3,342.8 497.1,346.8 498.9,344.1 500.7,343.5 502.6,346.7 504.4,346.7 506.2,348.5 508.0,347.7 509.8,346.9 511.6,349.3 513.4,349.9 515.2,349.9 517.0,350.0 518.8,354.4 520.7,352.8 522.5,354.9 524.3,354.3 526.1,355.0 527.9,357.1 529.7,356.9 531.5,361.3 533.3,361.3 535.1,363.2 537.0,362.4 538.8,363.3 540.6,365.0 542.4,367.7 544.2,366.9 546.0,368.7 547.8,368.5 549.6,371.1 551.4,370.0 553.2,382.0 555.0,394.3 556.9,400.7 558.7,410.1 560.5,414.4 562.3,420.5 564.1,428.1 565.9,432.8 567.7,440.1 569.5,445.4 571.3,447.9 573.1,451.5 575.0,456.3 576.8,457.8 578.6,460.5 580.4,463.0 582.2,465.0 584.0,467.8 585.8,470.9 587.6,472.5 589.4,473.6 591.2,477.0 593.1,476.5 594.9,478.3 596.7,480.2 598.5,481.6 600.3,479.5 602.1,482.9 603.9,483.9 605.7,484.3 607.5,485.6 609.3,487.1 611.2,487.2 613.0,489.5 614.8,489.6 616.6,491.5 618.4,490.0 620.2,490.7 622.0,492.6 623.8,490.5 625.6,493.2 627.4,491.9 629.3,493.4 631.1,493.2 632.9,494.2 634.7,492.1 636.5,493.2 638.3,492.8 640.1,493.5 641.9,494.1 643.7,494.4 645.5,494.9 647.4,494.4 649.2,494.5 651.0,494.2 652.8,495.3 654.6,494.6 656.4,494.0 658.2,494.6 660.0,494.1 661.8,494.6 663.6,495.2 665.5,494.8 667.3,494.8 669.1,494.5 670.9,494.6 672.7,493.7 674.5,495.1 676.3,495.8 678.1,493.6 679.9,494.6 681.8,494.0 683.6,492.0 685.4,492.9 687.2,493.3 689.0,493.2 690.8,493.9 692.6,493.1 694.4,494.3 696.2,494.7 698.0,494.2 699.8,492.8 701.7,493.2 703.5,494.4 705.3,493.1 707.1,493.6 708.9,492.4 710.7,493.3 712.5,492.4 714.3,493.0 716.1,493.4 717.9,493.3 719.8,493.4 721.6,493.8 723.4,494.6 725.2,492.7 727.0,494.1 728.8,494.9 730.6,495.4 732.4,495.4 734.2,493.9 736.0,492.3 737.9,494.4 739.7,493.9 741.5,494.8 743.3,492.7 745.1,493.7 746.9,493.9 748.7,493.4 750.5,493.3 752.3,493.5 754.1,494.6 756.0,495.3 757.8,494.7 759.6,495.2 761.4,492.5 763.2,493.9 765.0,493.9 766.8,493.6 768.6,492.2 770.4,494.5 772.2,493.2 774.1,493.5 775.9,493.6 777.7,495.0 779.5,493.3 781.3,494.3 783.1,494.1 784.9,493.5 786.7,493.6 788.5,492.9 790.3,494.1"/><polyline points="184.0,490.3 185.8,490.2 187.6,491.5 189.4,490.6 191.2,490.1 193.1,489.7 194.9,490.3 196.7,490.6 198.5,491.0 200.3,490.6 202.1,490.4 203.9,489.5 205.7,490.3 207.5,490.6 209.3,490.5 211.2,490.2 213.0,490.2 214.8,491.3 216.6,491.1 218.4,490.7 220.2,489.6 222.0,490.2 223.8,490.1 225.6,488.8 227.4,490.5 229.2,488.9 231.1,489.4 232.9,490.2 234.7,488.5 236.5,490.4 238.3,489.8 240.1,489.4 241.9,488.9 243.7,489.2 245.5,490.7 247.3,490.0 249.2,489.6 251.0,488.3 252.8,488.8 254.6,489.7 256.4,490.6 258.2,489.5 260.0,490.5 261.8,489.9 263.6,489.5 265.4,490.3 267.3,489.9 269.1,490.2 270.9,490.5 272.7,489.2 274.5,490.6 276.3,491.5 278.1,491.9 279.9,491.2 281.7,490.5 283.6,489.6 285.4,489.0 287.2,489.3 289.0,490.3 290.8,488.3 292.6,488.9 294.4,488.6 296.2,488.4 298.0,490.4 299.8,489.9 301.6,489.6 303.5,488.5 305.3,490.0 307.1,489.4 308.9,488.2 310.7,488.5 312.5,488.9 314.3,487.4 316.1,489.8 317.9,488.8 319.8,489.5 321.6,489.2 323.4,489.8 325.2,490.4 327.0,489.8 328.8,490.7 330.6,489.9 332.4,490.5 334.2,489.7 336.0,490.6 337.9,491.0 339.7,489.9 341.5,489.8 343.3,492.1 345.1,490.3 346.9,490.1 348.7,491.5 350.5,491.0 352.3,490.0 354.1,490.7 355.9,491.0 357.8,489.2 359.6,491.2 361.4,491.4 363.2,492.5 365.0,491.8 366.8,492.0 368.6,489.6 370.4,490.2 372.2,491.6 374.0,488.0 375.9,486.9 377.7,485.1 379.5,482.2 381.3,479.9 383.1,477.8 384.9,475.6 386.7,471.8 388.5,467.8 390.3,465.1 392.1,462.4 394.0,457.6 395.8,456.4 397.6,451.4 399.4,449.3 401.2,445.8 403.0,443.9 404.8,439.7 406.6,437.5 408.4,435.8 410.2,431.5 412.1,429.2 413.9,425.5 415.7,423.3 417.5,422.4 419.3,419.6 421.1,419.6 422.9,415.9 424.7,411.4 426.5,409.3 428.3,407.9 430.2,406.9 432.0,404.7 433.8,403.4 435.6,405.0 437.4,402.4 439.2,398.4 441.0,397.5 442.8,397.2 444.6,397.1 446.4,396.1 448.3,395.6 450.1,395.4 451.9,396.1 453.7,392.6 455.5,392.9 457.3,392.2 459.1,389.5 460.9,390.4 462.7,391.9 464.5,390.4 466.4,393.1 468.2,389.6 470.0,390.1 471.8,390.6 473.6,389.7 475.4,388.8 477.2,391.4 479.0,392.4 480.8,388.4 482.6,391.4 484.5,389.6 486.3,392.8 488.1,391.3 489.9,393.1 491.7,391.9 493.5,393.5 495.3,394.4 497.1,391.9 498.9,393.8 500.7,397.0 502.6,395.1 504.4,396.9 506.2,398.5 508.0,398.1 509.8,398.6 511.6,398.4 513.4,400.0 515.2,402.1 517.0,401.2 518.8,400.2 520.7,403.7 522.5,402.1 524.3,403.2 526.1,404.7 527.9,404.7 529.7,406.3 531.5,406.6 533.3,408.1 535.1,407.4 537.0,407.6 538.8,410.5 540.6,408.6 542.4,412.7 544.2,412.6 546.0,413.4 547.8,411.3 549.6,414.8 551.4,413.9 553.2,427.2 555.0,433.7 556.9,441.4 558.7,449.1 560.5,458.0 562.3,461.4 564.1,466.0 565.9,470.7 567.7,475.5 569.5,480.7 571.3,482.6 573.1,484.4 575.0,488.9 576.8,490.7 578.6,493.6 580.4,495.0 582.2,496.5 584.0,499.2 585.8,498.1 587.6,501.3 589.4,502.2 591.2,503.8 593.1,503.8 594.9,504.7 596.7,506.0 598.5,506.6 600.3,506.0 602.1,506.8 603.9,508.9 605.7,509.2 607.5,508.5 609.3,508.8 611.2,508.5 613.0,509.6 614.8,509.0 616.6,509.8 618.4,510.2 620.2,510.2 622.0,510.3 623.8,510.5 625.6,510.6 627.4,511.9 629.3,512.2 631.1,512.7 632.9,512.7 634.7,512.5 636.5,512.6 638.3,512.0 640.1,512.0 641.9,511.7 643.7,512.1 645.5,511.8 647.4,512.5 649.2,512.3 651.0,512.7 652.8,512.3 654.6,512.4 656.4,512.6 658.2,512.3 660.0,510.2 661.8,510.9 663.6,510.2 665.5,510.1 667.3,510.0 669.1,507.9 670.9,510.3 672.7,509.5 674.5,509.4 676.3,510.1 678.1,510.5 679.9,510.0 681.8,509.6 683.6,509.5 685.4,508.6 687.2,510.0 689.0,509.0 690.8,508.4 692.6,509.2 694.4,510.7 696.2,512.0 698.0,509.9 699.8,510.8 701.7,511.4 703.5,510.6 705.3,511.8 707.1,511.9 708.9,512.7 710.7,511.6 712.5,511.9 714.3,511.6 716.1,511.0 717.9,511.5 719.8,512.9 721.6,511.2 723.4,510.7 725.2,512.1 727.0,512.4 728.8,511.9 730.6,511.8 732.4,511.6 734.2,511.2 736.0,511.2 737.9,510.0 739.7,512.0 741.5,511.9 743.3,510.3 745.1,510.3 746.9,511.9 748.7,512.2 750.5,513.1 752.3,511.7 754.1,512.4 756.0,512.7 757.8,512.4 759.6,511.8 761.4,511.9 763.2,510.6 765.0,511.3 766.8,511.7 768.6,512.0 770.4,511.8 772.2,512.1 774.1,511.9 775.9,511.5 777.7,511.9 779.5,511.4 781.3,511.0 783.1,511.8 784.9,512.4 786.7,510.5 788.5,511.2 790.3,511.6"/><polyline points="184.0,502.7 185.8,503.1 187.6,503.4 189.4,503.0 191.2,503.5 193.1,503.4 194.9,503.8 196.7,503.4 198.5,503.5 200.3,502.0 202.1,503.6 203.9,503.9 205.7,502.7 207.5,502.1 209.3,504.2 211.2,504.1 213.0,502.9 214.8,502.5 216.6,503.2 218.4,503.1 220.2,502.9 222.0,501.6 223.8,501.9 225.6,501.0 227.4,501.6 229.2,501.5 231.1,501.0 232.9,501.9 234.7,501.4 236.5,501.7 238.3,501.9 240.1,501.6 241.9,502.2 243.7,502.9 245.5,502.0 247.3,502.1 249.2,502.4 251.0,503.2 252.8,502.1 254.6,501.2 256.4,502.8 258.2,503.4 260.0,502.7 261.8,503.3 263.6,503.7 265.4,503.9 267.3,503.0 269.1,502.8 270.9,502.9 272.7,503.3 274.5,504.0 276.3,502.8 278.1,503.9 279.9,503.1 281.7,503.3 283.6,501.7 285.4,502.2 287.2,502.8 289.0,502.8 290.8,502.9 292.6,503.4 294.4,503.1 296.2,503.3 298.0,502.9 299.8,503.4 301.6,502.6 303.5,503.6 305.3,500.9 307.1,501.1 308.9,501.6 310.7,501.4 312.5,501.1 314.3,501.7 316.1,503.5 317.9,503.1 319.8,504.8 321.6,503.7 323.4,504.3 325.2,503.7 327.0,503.4 328.8,504.4 330.6,503.6 332.4,503.7 334.2,503.8 336.0,504.1 337.9,505.3 339.7,504.0 341.5,503.4 343.3,503.7 345.1,504.7 346.9,503.6 348.7,503.1 350.5,503.7 352.3,502.6 354.1,503.3 355.9,502.6 357.8,502.3 359.6,500.8 361.4,502.2 363.2,502.2 365.0,501.1 366.8,502.3 368.6,501.9 370.4,503.4 372.2,501.8 374.0,502.2 375.9,503.1 377.7,501.3 379.5,500.0 381.3,497.1 383.1,494.4 384.9,490.5 386.7,486.0 388.5,482.5 390.3,476.7 392.1,472.1 394.0,469.4 395.8,465.8 397.6,460.3 399.4,457.0 401.2,451.8 403.0,447.5 404.8,443.9 406.6,440.0 408.4,435.9 410.2,431.8 412.1,430.5 413.9,426.1 415.7,424.5 417.5,422.4 419.3,417.6 421.1,416.7 422.9,414.4 424.7,412.0 426.5,410.9 428.3,410.1 430.2,404.9 432.0,404.6 433.8,404.5 435.6,402.3 437.4,401.0 439.2,402.0 441.0,400.7 442.8,400.7 444.6,398.7 446.4,399.6 448.3,396.1 450.1,399.1 451.9,397.9 453.7,398.0 455.5,398.6 457.3,396.6 459.1,398.4 460.9,399.0 462.7,398.8 464.5,400.0 466.4,398.3 468.2,400.0 470.0,399.9 471.8,403.3 473.6,401.8 475.4,403.8 477.2,403.5 479.0,403.3 480.8,405.5 482.6,406.5 484.5,405.9 486.3,406.9 488.1,407.1 489.9,412.7 491.7,411.0 493.5,413.1 495.3,414.8 497.1,415.0 498.9,417.1 500.7,419.8 502.6,419.0 504.4,419.2 506.2,418.0 508.0,422.1 509.8,424.0 511.6,426.1 513.4,425.5 515.2,426.1 517.0,427.2 518.8,430.1 520.7,430.4 522.5,433.2 524.3,431.8 526.1,434.9 527.9,437.5 529.7,434.5 531.5,436.1 533.3,437.3 535.1,438.5 537.0,441.2 538.8,440.5 540.6,443.8 542.4,442.4 544.2,445.0 546.0,447.9 547.8,446.0 549.6,445.9 551.4,449.3 553.2,452.1 555.0,457.7 556.9,462.1 558.7,467.4 560.5,467.2 562.3,471.4 564.1,473.5 565.9,477.5 567.7,479.7 569.5,480.5 571.3,483.5 573.1,485.2 575.0,487.2 576.8,487.7 578.6,488.3 580.4,490.6 582.2,492.0 584.0,494.5 585.8,493.9 587.6,496.0 589.4,496.7 591.2,496.4 593.1,498.4 594.9,500.1 596.7,500.7 598.5,501.2 600.3,500.6 602.1,502.0 603.9,503.2 605.7,503.0 607.5,503.3 609.3,505.1 611.2,504.3 613.0,504.5 614.8,505.2 616.6,507.0 618.4,505.2 620.2,504.3 622.0,505.3 623.8,504.2 625.6,506.0 627.4,506.8 629.3,506.0 631.1,506.3 632.9,505.8 634.7,506.2 636.5,505.0 638.3,505.8 640.1,504.8 641.9,505.7 643.7,505.1 645.5,505.0 647.4,505.2 649.2,505.2 651.0,505.0 652.8,505.1 654.6,504.5 656.4,504.7 658.2,504.8 660.0,505.0 661.8,505.3 663.6,506.0 665.5,505.1 667.3,505.6 669.1,506.1 670.9,504.1 672.7,506.1 674.5,505.3 676.3,505.1 678.1,505.5 679.9,503.6 681.8,504.8 683.6,505.2 685.4,503.6 687.2,505.1 689.0,505.3 690.8,505.4 692.6,505.0 694.4,504.7 696.2,505.0 698.0,506.2 699.8,504.7 701.7,503.6 703.5,505.1 705.3,504.8 707.1,504.3 708.9,504.2 710.7,505.2 712.5,505.4 714.3,505.4 716.1,504.4 717.9,504.7 719.8,506.8 721.6,507.1 723.4,506.7 725.2,506.6 727.0,505.7 728.8,506.0 730.6,504.7 732.4,505.0 734.2,505.3 736.0,504.9 737.9,506.1 739.7,506.8 741.5,506.4 743.3,506.2 745.1,507.7 746.9,506.1 748.7,506.5 750.5,507.5 752.3,507.2 754.1,507.3 756.0,507.1 757.8,506.2 759.6,507.2 761.4,506.3 763.2,506.3 765.0,506.4 766.8,508.4 768.6,508.6 770.4,507.0 772.2,507.8 774.1,507.9 775.9,507.7 777.7,507.7 779.5,506.7 781.3,507.1 783.1,507.0 784.9,506.1 786.7,507.0 788.5,505.5 790.3,507.5"/><polyline points="184.0,496.9 185.8,499.0 187.6,497.6 189.4,496.6 191.2,498.4 193.1,497.1 194.9,497.1 196.7,497.7 198.5,499.3 200.3,497.0 202.1,497.7 203.9,498.0 205.7,496.6 207.5,498.0 209.3,497.3 211.2,498.3 213.0,497.9 214.8,498.7 216.6,498.4 218.4,498.7 220.2,498.6 222.0,497.6 223.8,498.2 225.6,497.7 227.4,497.1 229.2,498.1 231.1,499.4 232.9,498.6 234.7,498.0 236.5,497.4 238.3,497.6 240.1,497.7 241.9,498.7 243.7,497.9 245.5,499.0 247.3,497.0 249.2,497.3 251.0,498.0 252.8,498.5 254.6,498.2 256.4,499.0 258.2,498.6 260.0,499.8 261.8,498.2 263.6,498.3 265.4,497.3 267.3,498.4 269.1,498.1 270.9,498.1 272.7,497.9 274.5,497.9 276.3,498.7 278.1,498.8 279.9,498.4 281.7,498.3 283.6,498.9 285.4,499.0 287.2,497.8 289.0,497.0 290.8,497.6 292.6,497.0 294.4,496.8 296.2,496.9 298.0,497.8 299.8,497.8 301.6,498.7 303.5,498.1 305.3,497.2 307.1,498.1 308.9,497.1 310.7,497.2 312.5,498.2 314.3,497.1 316.1,498.7 317.9,498.6 319.8,498.1 321.6,498.0 323.4,498.2 325.2,498.7 327.0,497.0 328.8,497.8 330.6,497.6 332.4,497.5 334.2,497.7 336.0,498.0 337.9,498.5 339.7,499.2 341.5,497.4 343.3,499.2 345.1,499.3 346.9,498.8 348.7,499.2 350.5,496.9 352.3,498.2 354.1,497.1 355.9,497.4 357.8,498.1 359.6,498.2 361.4,498.9 363.2,498.8 365.0,499.1 366.8,498.7 368.6,499.1 370.4,497.3 372.2,496.0 374.0,494.1 375.9,492.9 377.7,488.2 379.5,485.1 381.3,482.7 383.1,480.4 384.9,475.7 386.7,471.6 388.5,470.2 390.3,465.4 392.1,464.0 394.0,458.8 395.8,454.7 397.6,453.4 399.4,449.9 401.2,447.7 403.0,444.8 404.8,439.5 406.6,438.2 408.4,437.2 410.2,434.9 412.1,431.5 413.9,426.8 415.7,426.9 417.5,423.7 419.3,423.2 421.1,422.6 422.9,417.9 424.7,418.2 426.5,416.8 428.3,415.2 430.2,413.7 432.0,411.9 433.8,411.9 435.6,407.3 437.4,407.4 439.2,405.5 441.0,406.4 442.8,404.6 444.6,404.2 446.4,402.5 448.3,402.5 450.1,402.6 451.9,403.1 453.7,403.8 455.5,403.0 457.3,402.5 459.1,402.5 460.9,403.4 462.7,399.6 464.5,401.5 466.4,404.2 468.2,403.0 470.0,403.0 471.8,401.2 473.6,400.1 475.4,403.1 477.2,401.4 479.0,402.8 480.8,401.6 482.6,401.6 484.5,403.4 486.3,403.5 488.1,405.3 489.9,406.1 491.7,407.6 493.5,406.5 495.3,407.5 497.1,408.6 498.9,408.9 500.7,409.7 502.6,411.8 504.4,412.0 506.2,411.0 508.0,413.4 509.8,412.5 511.6,416.4 513.4,417.4 515.2,416.4 517.0,416.4 518.8,418.5 520.7,417.8 522.5,418.5 524.3,419.2 526.1,421.4 527.9,422.3 529.7,425.1 531.5,424.4 533.3,424.8 535.1,424.7 537.0,428.6 538.8,428.9 540.6,430.0 542.4,429.0 544.2,433.6 546.0,433.2 547.8,431.2 549.6,433.5 551.4,436.7 553.2,440.4 555.0,444.1 556.9,449.1 558.7,454.2 560.5,457.9 562.3,459.9 564.1,463.9 565.9,466.1 567.7,468.7 569.5,472.4 571.3,473.1 573.1,476.4 575.0,477.5 576.8,480.2 578.6,481.6 580.4,483.4 582.2,485.1 584.0,485.4 585.8,486.2 587.6,487.3 589.4,488.4 591.2,490.8 593.1,490.5 594.9,491.7 596.7,491.5 598.5,494.2 600.3,492.8 602.1,494.8 603.9,494.1 605.7,495.6 607.5,495.5 609.3,497.3 611.2,499.0 613.0,498.9 614.8,499.1 616.6,499.2 618.4,500.8 620.2,500.3 622.0,500.1 623.8,499.5 625.6,499.9 627.4,500.8 629.3,501.5 631.1,500.3 632.9,501.2 634.7,501.1 636.5,502.2 638.3,501.3 640.1,502.5 641.9,501.8 643.7,501.7 645.5,501.6 647.4,502.8 649.2,502.4 651.0,502.9 652.8,502.6 654.6,502.2 656.4,500.7 658.2,502.4 660.0,501.9 661.8,502.3 663.6,501.7 665.5,501.9 667.3,501.8 669.1,502.3 670.9,500.7 672.7,501.4 674.5,503.6 676.3,502.3 678.1,502.6 679.9,504.6 681.8,503.5 683.6,503.3 685.4,503.3 687.2,502.7 689.0,503.8 690.8,502.1 692.6,502.1 694.4,502.6 696.2,503.8 698.0,503.9 699.8,504.6 701.7,503.8 703.5,504.1 705.3,503.2 707.1,504.9 708.9,503.9 710.7,505.5 712.5,505.8 714.3,506.0 716.1,505.0 717.9,505.3 719.8,504.8 721.6,504.2 723.4,505.1 725.2,504.8 727.0,504.4 728.8,505.3 730.6,505.7 732.4,505.1 734.2,504.7 736.0,504.0 737.9,503.9 739.7,504.9 741.5,504.0 743.3,503.5 745.1,504.1 746.9,503.6 748.7,503.9 750.5,503.5 752.3,502.3 754.1,503.5 756.0,503.9 757.8,503.3 759.6,503.7 761.4,503.5 763.2,505.1 765.0,504.9 766.8,503.9 768.6,504.6 770.4,502.8 772.2,504.8 774.1,504.2 775.9,504.6 777.7,504.1 779.5,503.2 781.3,503.5 783.1,503.0 784.9,503.2 786.7,504.9 788.5,503.3 790.3,504.6"/><polyline points="184.0,485.2 185.8,484.5 187.6,486.0 189.4,485.3 191.2,485.0 193.1,484.7 194.9,486.7 196.7,486.4 198.5,485.7 200.3,485.3 202.1,485.0 203.9,485.0 205.7,483.4 207.5,484.4 209.3,484.5 211.2,485.5 213.0,484.4 214.8,484.4 216.6,484.4 218.4,485.0 220.2,484.7 222.0,483.8 223.8,485.1 225.6,486.0 227.4,483.6 229.2,483.7 231.1,484.1 232.9,484.5 234.7,482.3 236.5,484.6 238.3,485.1 240.1,484.4 241.9,483.8 243.7,484.7 245.5,484.5 247.3,484.0 249.2,484.4 251.0,483.9 252.8,484.6 254.6,485.1 256.4,484.1 258.2,484.8 260.0,483.4 261.8,484.7 263.6,484.6 265.4,485.8 267.3,484.8 269.1,485.5 270.9,483.5 272.7,484.7 274.5,484.5 276.3,486.2 278.1,486.1 279.9,485.2 281.7,486.0 283.6,484.2 285.4,485.5 287.2,485.4 289.0,485.1 290.8,485.6 292.6,485.1 294.4,486.1 296.2,485.5 298.0,485.1 299.8,485.5 301.6,485.2 303.5,485.7 305.3,485.1 307.1,484.3 308.9,484.9 310.7,485.9 312.5,484.8 314.3,484.6 316.1,483.8 317.9,484.2 319.8,482.7 321.6,484.3 323.4,484.2 325.2,482.8 327.0,483.7 328.8,482.5 330.6,482.9 332.4,484.2 334.2,482.2 336.0,482.0 337.9,482.7 339.7,484.0 341.5,482.9 343.3,484.4 345.1,483.6 346.9,483.1 348.7,483.8 350.5,484.7 352.3,484.0 354.1,484.1 355.9,485.1 357.8,485.6 359.6,484.4 361.4,484.6 363.2,485.1 365.0,485.3 366.8,484.5 368.6,484.7 370.4,485.1 372.2,485.0 374.0,483.7 375.9,482.3 377.7,479.7 379.5,477.4 381.3,476.1 383.1,474.2 384.9,472.9 386.7,471.3 388.5,468.8 390.3,467.4 392.1,465.4 394.0,463.5 395.8,461.0 397.6,459.4 399.4,456.0 401.2,455.5 403.0,455.2 404.8,452.2 406.6,451.7 408.4,448.6 410.2,447.3 412.1,444.0 413.9,446.5 415.7,444.0 417.5,442.7 419.3,441.4 421.1,439.8 422.9,440.2 424.7,439.4 426.5,437.3 428.3,435.3 430.2,436.6 432.0,435.9 433.8,432.5 435.6,431.9 437.4,430.9 439.2,432.2 441.0,430.9 442.8,430.4 444.6,429.7 446.4,429.5 448.3,428.8 450.1,427.5 451.9,428.6 453.7,428.2 455.5,428.1 457.3,428.1 459.1,427.2 460.9,427.0 462.7,427.2 464.5,425.4 466.4,426.4 468.2,427.5 470.0,426.0 471.8,428.2 473.6,427.8 475.4,428.1 477.2,428.6 479.0,428.2 480.8,428.0 482.6,429.6 484.5,428.7 486.3,427.7 488.1,427.8 489.9,428.2 491.7,425.7 493.5,427.3 495.3,428.1 497.1,428.3 498.9,428.9 500.7,428.9 502.6,430.2 504.4,428.3 506.2,431.2 508.0,429.5 509.8,430.0 511.6,432.1 513.4,430.6 515.2,430.8 517.0,432.5 518.8,430.0 520.7,432.1 522.5,434.0 524.3,434.8 526.1,435.8 527.9,435.6 529.7,436.4 531.5,438.9 533.3,438.7 535.1,438.2 537.0,438.2 538.8,438.5 540.6,439.1 542.4,438.4 544.2,438.6 546.0,439.7 547.8,442.5 549.6,441.4 551.4,441.4 553.2,445.7 555.0,449.3 556.9,453.0 558.7,457.5 560.5,461.6 562.3,461.1 564.1,464.2 565.9,465.8 567.7,468.4 569.5,470.5 571.3,471.8 573.1,475.7 575.0,476.9 576.8,479.5 578.6,480.1 580.4,481.4 582.2,482.8 584.0,484.3 585.8,486.5 587.6,486.1 589.4,486.9 591.2,487.6 593.1,488.0 594.9,489.8 596.7,491.4 598.5,492.2 600.3,492.7 602.1,493.1 603.9,494.9 605.7,494.2 607.5,494.7 609.3,496.1 611.2,495.4 613.0,496.6 614.8,496.5 616.6,497.1 618.4,497.0 620.2,497.8 622.0,496.8 623.8,498.9 625.6,498.0 627.4,498.6 629.3,497.4 631.1,498.5 632.9,499.3 634.7,499.5 636.5,499.3 638.3,499.7 640.1,498.0 641.9,501.3 643.7,499.7 645.5,501.3 647.4,499.1 649.2,500.4 651.0,499.2 652.8,500.2 654.6,499.3 656.4,500.2 658.2,499.7 660.0,500.3 661.8,502.4 663.6,500.8 665.5,501.3 667.3,499.2 669.1,499.3 670.9,499.9 672.7,499.4 674.5,499.2 676.3,499.9 678.1,498.4 679.9,499.6 681.8,499.8 683.6,500.9 685.4,500.5 687.2,500.3 689.0,500.7 690.8,501.2 692.6,501.0 694.4,501.7 696.2,501.3 698.0,502.1 699.8,502.1 701.7,502.1 703.5,501.7 705.3,502.0 707.1,502.1 708.9,503.0 710.7,502.7 712.5,501.8 714.3,501.5 716.1,502.9 717.9,502.3 719.8,501.8 721.6,501.7 723.4,502.0 725.2,501.6 727.0,502.5 728.8,500.2 730.6,502.2 732.4,501.3 734.2,501.1 736.0,500.6 737.9,500.8 739.7,500.5 741.5,500.3 743.3,501.2 745.1,500.7 746.9,500.2 748.7,501.5 750.5,501.9 752.3,501.9 754.1,500.3 756.0,500.4 757.8,501.2 759.6,500.4 761.4,500.5 763.2,500.6 765.0,502.6 766.8,501.7 768.6,501.5 770.4,500.7 772.2,501.1 774.1,501.0 775.9,500.7 777.7,502.4 779.5,499.2 781.3,500.6 783.1,500.6 784.9,501.7 786.7,501.2 788.5,500.2 790.3,500.5"/><polyline points="184.0,466.4 185.8,467.8 187.6,466.5 189.4,466.9 191.2,465.8 193.1,465.4 194.9,466.9 196.7,467.6 198.5,465.4 200.3,467.3 202.1,467.4 203.9,467.4 205.7,467.2 207.5,467.0 209.3,468.1 211.2,467.3 213.0,465.7 214.8,466.2 216.6,466.6 218.4,466.7 220.2,466.3 222.0,465.0 223.8,466.5 225.6,465.5 227.4,466.2 229.2,466.4 231.1,465.7 232.9,465.6 234.7,466.3 236.5,465.9 238.3,465.5 240.1,465.6 241.9,465.7 243.7,465.5 245.5,464.6 247.3,464.0 249.2,465.1 251.0,465.3 252.8,465.3 254.6,463.7 256.4,464.6 258.2,466.2 260.0,465.1 261.8,465.6 263.6,465.2 265.4,466.1 267.3,464.6 269.1,465.7 270.9,464.8 272.7,463.2 274.5,463.8 276.3,465.5 278.1,465.7 279.9,465.6 281.7,466.6 283.6,466.0 285.4,465.1 287.2,465.3 289.0,464.1 290.8,465.1 292.6,465.8 294.4,464.2 296.2,465.3 298.0,465.5 299.8,463.9 301.6,464.0 303.5,465.7 305.3,464.9 307.1,465.8 308.9,466.4 310.7,463.8 312.5,464.1 314.3,466.2 316.1,464.7 317.9,466.1 319.8,464.2 321.6,465.0 323.4,465.3 325.2,463.9 327.0,464.7 328.8,465.0 330.6,464.3 332.4,465.1 334.2,464.6 336.0,465.4 337.9,465.0 339.7,465.4 341.5,465.4 343.3,466.7 345.1,464.4 346.9,465.8 348.7,464.1 350.5,466.4 352.3,466.5 354.1,466.3 355.9,465.2 357.8,466.9 359.6,466.1 361.4,468.0 363.2,466.8 365.0,465.9 366.8,465.9 368.6,467.4 370.4,464.6 372.2,464.6 374.0,460.3 375.9,459.7 377.7,455.2 379.5,453.9 381.3,451.7 383.1,450.3 384.9,447.1 386.7,443.6 388.5,442.6 390.3,436.9 392.1,436.0 394.0,431.9 395.8,432.1 397.6,425.6 399.4,422.7 401.2,420.7 403.0,417.9 404.8,416.5 406.6,413.2 408.4,409.3 410.2,408.5 412.1,405.5 413.9,403.0 415.7,401.7 417.5,399.1 419.3,396.9 421.1,395.6 422.9,389.7 424.7,391.6 426.5,387.7 428.3,387.0 430.2,389.6 432.0,385.2 433.8,383.2 435.6,382.1 437.4,383.2 439.2,380.6 441.0,381.2 442.8,380.2 444.6,378.2 446.4,376.9 448.3,374.0 450.1,374.9 451.9,373.5 453.7,375.8 455.5,375.1 457.3,373.8 459.1,370.5 460.9,374.4 462.7,374.2 464.5,371.9 466.4,369.8 468.2,373.2 470.0,370.9 471.8,372.2 473.6,368.3 475.4,369.5 477.2,370.0 479.0,370.4 480.8,370.9 482.6,370.5 484.5,371.7 486.3,372.1 488.1,372.7 489.9,371.3 491.7,372.8 493.5,370.8 495.3,375.1 497.1,371.7 498.9,372.0 500.7,371.4 502.6,373.8 504.4,376.4 506.2,376.2 508.0,374.2 509.8,376.6 511.6,377.5 513.4,378.4 515.2,378.1 517.0,378.9 518.8,381.5 520.7,380.8 522.5,378.9 524.3,378.8 526.1,381.6 527.9,383.1 529.7,381.6 531.5,384.5 533.3,386.4 535.1,385.8 537.0,385.2 538.8,384.7 540.6,387.6 542.4,387.3 544.2,388.5 546.0,387.5 547.8,389.1 549.6,389.5 550.5,470.6 551.4,391.7 553.2,401.4 555.0,410.8 556.9,422.8 558.7,425.9 560.5,434.0 562.3,440.4 564.1,445.6 565.9,450.1 567.7,454.5 569.5,460.0 571.3,462.3 573.1,465.6 575.0,468.4 576.8,472.2 578.6,473.3 580.4,476.8 582.2,477.3 584.0,478.2 585.8,479.9 587.6,481.8 589.4,483.0 591.2,484.1 593.1,484.7 594.9,486.4 596.7,487.0 598.5,488.8 600.3,488.2 602.1,488.7 603.9,488.9 605.7,487.7 607.5,490.1 609.3,490.3 611.2,489.8 613.0,491.1 614.8,490.8 616.6,490.5 618.4,490.8 620.2,491.3 622.0,490.5 623.8,490.8 625.6,493.1 627.4,492.7 629.3,491.8 631.1,492.7 632.9,493.2 634.7,493.0 636.5,492.1 638.3,493.3 640.1,492.6 641.9,492.9 643.7,493.4 645.5,492.7 647.4,492.8 649.2,492.6 651.0,492.9 652.8,494.6 654.6,492.9 656.4,493.5 658.2,493.4 660.0,494.6 661.8,493.4 663.6,493.2 665.5,494.0 667.3,492.3 669.1,493.6 670.9,493.9 672.7,493.2 674.5,493.7 676.3,493.2 678.1,493.5 679.9,493.3 681.8,493.1 683.6,493.1 685.4,492.3 687.2,492.2 689.0,493.5 690.8,492.7 692.6,492.8 694.4,493.2 696.2,492.7 698.0,492.4 699.8,493.3 701.7,494.9 703.5,494.0 705.3,494.4 707.1,494.7 708.9,494.4 710.7,495.0 712.5,493.7 714.3,494.4 716.1,494.4 717.9,493.7 719.8,494.1 721.6,493.7 723.4,493.6 725.2,493.7 727.0,493.5 728.8,494.7 730.6,493.9 732.4,492.1 734.2,492.5 736.0,491.2 737.9,491.1 739.7,492.8 741.5,491.8 743.3,490.0 745.1,492.2 746.9,491.2 748.7,491.7 750.5,491.9 752.3,491.9 754.1,491.8 756.0,490.8 757.8,492.4 759.6,491.4 761.4,492.4 763.2,491.4 765.0,491.4 766.8,492.3 768.6,491.8 770.4,492.8 772.2,492.8 774.1,491.6 775.9,493.5 777.7,491.9 779.5,491.7 781.3,492.6 783.1,491.6 784.9,491.6 786.7,493.0 788.5,491.9 790.3,491.9"/><polyline points="184.0,473.8 185.8,473.5 187.6,475.5 189.4,473.9 191.2,476.1 193.1,474.6 194.9,475.3 196.7,475.8 198.5,473.8 200.3,474.5 202.1,473.4 203.9,475.5 205.7,475.0 207.5,474.4 209.3,474.5 211.2,474.1 213.0,474.7 214.8,474.5 216.6,475.2 218.4,473.5 220.2,475.1 222.0,475.7 223.8,474.3 225.6,474.7 227.4,475.0 229.2,475.1 231.1,475.6 232.9,475.2 234.7,477.1 236.5,476.8 238.3,476.8 240.1,475.7 241.9,475.0 243.7,475.9 245.5,475.8 247.3,474.3 249.2,475.6 251.0,474.9 252.8,475.0 254.6,476.3 256.4,474.9 258.2,475.3 260.0,476.3 261.8,475.9 263.6,475.9 265.4,474.0 267.3,473.6 269.1,475.1 270.9,474.0 272.7,476.3 274.5,474.1 276.3,473.5 278.1,473.5 279.9,475.4 281.7,474.4 283.6,475.6 285.4,474.4 287.2,475.7 289.0,475.0 290.8,475.3 292.6,474.4 294.4,474.5 296.2,473.3 298.0,473.5 299.8,473.7 301.6,473.9 303.5,473.9 305.3,473.8 307.1,473.3 308.9,473.6 310.7,473.5 312.5,473.7 314.3,473.6 316.1,474.3 317.9,474.8 319.8,472.8 321.6,473.1 323.4,474.5 325.2,472.3 327.0,474.7 328.8,472.8 330.6,473.4 332.4,473.6 334.2,473.1 336.0,473.5 337.9,473.9 339.7,474.5 341.5,474.5 343.3,473.0 345.1,472.4 346.9,472.9 348.7,473.8 350.5,473.4 352.3,473.2 354.1,472.3 355.9,474.5 357.8,473.5 359.6,473.6 361.4,474.3 363.2,474.7 365.0,472.6 366.8,473.4 368.6,473.5 370.4,473.5 372.2,473.1 374.0,473.9 375.9,473.0 377.7,473.3 379.5,473.1 381.3,470.4 383.1,469.6 384.9,467.2 386.7,464.1 388.5,461.5 390.3,460.6 392.1,458.5 394.0,457.1 395.8,455.1 397.6,451.6 399.4,449.6 401.2,448.5 403.0,446.3 404.8,442.5 406.6,440.7 408.4,439.7 410.2,437.9 412.1,435.0 413.9,434.4 415.7,432.3 417.5,432.6 419.3,431.1 421.1,429.5 422.9,428.3 424.7,424.2 426.5,422.4 428.3,422.5 430.2,419.7 432.0,418.7 433.8,418.4 435.6,419.0 437.4,414.8 439.2,413.8 441.0,415.5 442.8,412.0 444.6,413.4 446.4,413.4 448.3,412.1 450.1,413.0 451.9,410.9 453.7,411.9 455.5,408.0 457.3,408.5 459.1,410.2 460.9,407.8 462.7,409.9 464.5,407.2 466.4,406.8 468.2,407.1 470.0,408.5 471.8,406.7 473.6,406.8 475.4,406.8 477.2,404.7 479.0,404.1 480.8,404.4 482.6,407.2 484.5,407.5 486.3,406.9 488.1,406.1 489.9,409.2 491.7,407.8 493.5,405.2 495.3,409.1 497.1,408.8 498.9,409.4 500.7,408.7 502.6,409.3 504.4,410.0 506.2,411.4 508.0,409.7 509.8,410.4 511.6,411.2 513.4,410.9 515.2,410.3 517.0,413.4 518.8,414.0 520.7,413.7 522.5,414.0 524.3,417.4 526.1,415.3 527.9,413.8 529.7,415.7 531.5,415.1 533.3,420.3 535.1,417.6 537.0,416.3 538.8,416.9 540.6,419.5 542.4,420.6 544.2,419.6 546.0,421.8 547.8,421.7 549.6,423.9 551.4,422.9 553.2,427.7 555.0,430.5 556.9,435.9 558.7,440.8 560.5,443.7 562.3,448.0 564.1,449.7 565.9,453.2 567.7,454.5 569.5,456.1 571.3,460.3 573.1,460.2 575.0,461.8 576.8,465.3 578.6,464.2 580.4,467.9 582.2,467.0 584.0,469.7 585.8,470.5 587.6,471.9 589.4,472.6 591.2,475.1 593.1,475.4 594.9,476.6 596.7,475.2 598.5,476.6 600.3,475.7 602.1,475.9 603.9,478.2 605.7,477.2 607.5,478.1 609.3,478.3 611.2,478.6 613.0,479.3 614.8,479.5 616.6,478.9 618.4,480.7 620.2,480.8 622.0,480.9 623.8,479.5 625.6,480.2 627.4,478.3 629.3,482.4 631.1,480.9 632.9,480.7 634.7,480.2 636.5,480.1 638.3,481.5 640.1,482.3 641.9,480.9 643.7,480.8 645.5,483.7 647.4,481.2 649.2,481.4 651.0,482.1 652.8,481.9 654.6,481.4 656.4,481.7 658.2,481.7 660.0,482.7 661.8,481.8 663.6,482.8 665.5,482.2 667.3,482.6 669.1,482.1 670.9,481.7 672.7,481.7 674.5,481.7 676.3,483.3 678.1,482.2 679.9,482.0 681.8,482.9 683.6,482.8 685.4,484.9 687.2,483.0 689.0,483.4 690.8,484.6 692.6,482.6 694.4,483.6 696.2,482.7 698.0,483.4 699.8,482.8 701.7,482.9 703.5,483.7 705.3,483.0 707.1,482.9 708.9,485.3 710.7,483.3 712.5,483.8 714.3,484.3 716.1,482.3 717.9,482.7 719.8,484.0 721.6,483.7 723.4,482.2 725.2,483.2 727.0,482.9 728.8,483.7 730.6,482.1 732.4,481.2 734.2,482.3 736.0,482.1 737.9,480.9 739.7,481.2 741.5,480.8 743.3,481.1 745.1,480.5 746.9,482.7 748.7,481.5 750.5,481.7 752.3,479.0 754.1,480.4 756.0,480.9 757.8,481.7 759.6,481.9 761.4,483.4 763.2,479.9 765.0,481.9 766.8,481.9 768.6,483.3 770.4,482.6 772.2,482.2 774.1,482.3 775.9,481.8 777.7,483.0 779.5,482.4 781.3,482.2 783.1,482.4 784.9,482.9 786.7,483.3 788.5,484.0 790.3,483.0"/><polyline points="184.0,469.5 185.8,470.3 187.6,469.7 189.4,471.0 191.2,471.1 193.1,470.3 194.9,471.5 196.7,470.5 198.5,470.3 200.3,469.1 202.1,471.0 203.9,470.2 205.7,471.0 207.5,470.3 209.3,472.2 211.2,470.9 213.0,469.0 214.8,469.5 216.6,470.2 218.4,468.5 220.2,470.1 222.0,471.1 223.8,469.9 225.6,470.1 227.4,468.5 229.2,470.6 231.1,469.6 232.9,468.9 234.7,470.2 236.5,469.5 238.3,470.8 240.1,469.1 241.9,470.8 243.7,469.8 245.5,467.8 247.3,468.7 249.2,469.3 251.0,468.9 252.8,467.1 254.6,468.4 256.4,467.8 258.2,469.5 260.0,469.5 261.8,469.9 263.6,469.3 265.4,469.4 267.3,468.3 269.1,468.4 270.9,469.3 272.7,469.9 274.5,472.4 276.3,470.7 278.1,470.1 279.9,469.6 281.7,472.5 283.6,472.2 285.4,470.0 287.2,471.6 289.0,471.1 290.8,470.7 292.6,469.8 294.4,471.7 296.2,470.4 298.0,469.0 299.8,469.3 301.6,470.1 303.5,469.1 305.3,469.5 307.1,470.5 308.9,468.9 310.7,468.9 312.5,469.5 314.3,468.6 316.1,470.4 317.9,468.8 319.8,469.1 321.6,469.9 323.4,469.2 325.2,467.7 327.0,469.7 328.8,469.8 330.6,469.8 332.4,470.3 334.2,469.3 336.0,468.5 337.9,469.6 339.7,470.2 341.5,470.1 343.3,470.8 345.1,471.0 346.9,471.4 348.7,469.0 350.5,470.6 352.3,471.0 354.1,470.6 355.9,470.0 357.8,470.4 359.6,470.1 361.4,469.8 363.2,468.8 365.0,470.8 366.8,469.7 368.6,470.1 370.4,470.1 372.2,468.2 374.0,468.8 375.9,468.7 377.7,466.1 379.5,464.3 381.3,461.1 383.1,459.7 384.9,456.0 386.7,453.7 388.5,450.4 390.3,448.1 392.1,445.8 394.0,441.8 395.8,437.9 397.6,436.4 399.4,433.1 401.2,429.3 403.0,427.6 404.8,422.9 406.6,419.8 408.4,420.5 410.2,415.7 412.1,413.4 413.9,408.3 415.7,405.5 417.5,405.4 419.3,402.1 421.1,399.2 422.9,397.0 424.7,393.5 426.5,390.7 428.3,389.1 430.2,386.7 432.0,385.3 433.8,385.3 435.6,384.0 437.4,383.1 439.2,379.2 441.0,377.8 442.8,376.1 444.6,376.4 446.4,375.6 448.3,373.7 450.1,371.4 451.9,371.9 453.7,371.3 455.5,371.9 457.3,369.4 459.1,368.4 460.9,370.2 462.7,365.9 464.5,369.0 466.4,366.2 468.2,367.3 470.0,366.0 471.8,367.5 473.6,366.7 475.4,365.1 477.2,366.4 479.0,366.5 480.8,365.4 482.6,365.6 484.5,366.4 486.3,366.6 488.1,364.8 489.9,367.4 491.7,367.3 493.5,367.6 495.3,370.6 497.1,371.5 498.9,369.1 500.7,368.7 502.6,369.7 504.4,371.2 506.2,372.0 508.0,370.3 509.8,372.6 511.6,374.8 513.4,372.2 515.2,373.5 517.0,374.0 518.8,373.4 520.7,373.7 522.5,375.6 524.3,377.5 526.1,381.0 527.9,378.2 529.7,379.6 531.5,378.5 533.3,379.3 535.1,381.2 537.0,380.6 538.8,383.4 540.6,384.3 542.4,386.4 544.2,386.1 546.0,386.4 547.8,386.4 549.6,389.3 551.4,388.4 553.2,393.8 555.0,405.9 556.9,411.0 558.7,416.6 560.5,420.8 562.3,424.7 564.1,430.0 565.9,435.8 567.7,440.6 569.5,443.7 571.3,447.3 573.1,450.9 575.0,455.1 576.8,455.9 578.6,460.3 580.4,461.8 582.2,464.7 584.0,467.6 585.8,469.0 587.6,471.0 589.4,472.8 591.2,473.3 593.1,475.7 594.9,474.8 596.7,477.1 598.5,480.5 600.3,483.6 602.1,482.0 603.9,483.9 605.7,485.1 607.5,486.5 609.3,487.6 611.2,488.9 613.0,486.5 614.8,487.9 616.6,490.2 618.4,489.2 620.2,492.8 622.0,491.5 623.8,491.8 625.6,493.4 627.4,493.4 629.3,494.4 631.1,493.9 632.9,493.3 634.7,493.8 636.5,494.4 638.3,494.5 640.1,496.7 641.9,494.5 643.7,496.1 645.5,497.0 647.4,496.5 649.2,496.7 651.0,496.6 652.8,496.6 654.6,498.2 656.4,495.7 658.2,495.5 660.0,497.5 661.8,495.7 663.6,496.0 665.5,496.3 667.3,495.7 669.1,497.8 670.9,496.4 672.7,497.5 674.5,495.3 676.3,497.6 678.1,497.9 679.9,496.6 681.8,497.1 683.6,497.5 685.4,497.7 687.2,497.5 689.0,497.0 690.8,498.9 692.6,499.0 694.4,499.4 696.2,499.0 698.0,499.4 699.8,500.8 701.7,499.8 703.5,500.6 705.3,500.3 707.1,500.3 708.9,500.3 710.7,498.9 712.5,498.6 714.3,498.9 716.1,498.4 717.9,499.8 719.8,498.8 721.6,499.9 723.4,499.4 725.2,499.4 727.0,500.3 728.8,499.8 730.6,499.4 732.4,499.2 734.2,499.5 736.0,499.7 737.9,500.1 739.7,500.0 741.5,500.6 743.3,500.6 745.1,499.9 746.9,499.6 748.7,500.6 750.5,501.1 752.3,499.8 754.1,499.2 756.0,500.0 757.8,499.7 759.6,500.7 761.4,498.5 763.2,499.9 765.0,498.4 766.8,499.0 768.6,498.5 770.4,498.4 772.2,499.2 774.1,496.0 775.9,498.7 777.7,497.7 779.5,498.3 781.3,497.9 783.1,497.1 784.9,499.2 786.7,498.1 788.5,497.8 790.3,498.2"/><polyline points="184.0,493.9 185.8,493.8 187.6,494.2 189.4,493.0 191.2,494.6 193.1,493.2 194.9,492.8 196.7,493.0 198.5,494.3 200.3,494.6 202.1,495.7 203.9,494.8 205.7,493.2 207.5,495.6 209.3,496.0 211.2,494.6 213.0,495.0 214.8,496.7 216.6,495.7 218.4,495.2 220.2,496.3 222.0,494.5 223.8,495.9 225.6,494.5 227.4,494.9 229.2,495.8 231.1,496.2 232.9,495.4 234.7,495.0 236.5,494.9 238.3,495.2 240.1,495.3 241.9,494.5 243.7,495.9 245.5,495.1 247.3,494.5 249.2,494.9 251.0,494.0 252.8,493.3 254.6,494.9 256.4,494.7 258.2,497.0 260.0,495.5 261.8,494.7 263.6,495.7 265.4,494.1 267.3,496.3 269.1,494.0 270.9,495.5 272.7,496.3 274.5,495.7 276.3,495.4 278.1,496.1 279.9,496.0 281.7,495.5 283.6,494.5 285.4,494.9 287.2,494.2 289.0,495.8 290.8,495.4 292.6,495.6 294.4,495.5 296.2,495.2 298.0,494.2 299.8,495.7 301.6,496.1 303.5,495.3 305.3,496.2 307.1,496.6 308.9,495.3 310.7,495.6 312.5,495.7 314.3,495.2 316.1,496.3 317.9,496.1 319.8,495.9 321.6,495.8 323.4,495.7 325.2,496.3 327.0,496.5 328.8,497.9 330.6,495.5 332.4,497.2 334.2,496.1 336.0,494.0 337.9,495.8 339.7,496.7 341.5,495.1 343.3,496.1 345.1,495.6 346.9,495.6 348.7,495.0 350.5,494.8 352.3,495.3 354.1,494.6 355.9,495.8 357.8,494.9 359.6,495.9 361.4,495.1 363.2,495.6 365.0,495.5 366.8,494.1 368.6,496.1 370.4,496.2 372.2,495.2 374.0,495.2 375.9,492.6 377.7,488.8 379.5,483.6 381.3,481.7 383.1,476.8 384.9,471.6 386.7,467.7 388.5,462.0 390.3,456.3 392.1,452.8 394.0,445.4 395.8,442.3 397.6,436.5 399.4,431.5 401.2,423.9 403.0,424.8 404.8,418.1 406.6,411.1 408.4,410.0 410.2,404.0 412.1,401.5 413.9,400.1 415.7,394.0 417.5,392.0 419.3,387.5 421.1,386.4 422.9,380.3 424.7,382.3 426.5,376.3 428.3,371.7 430.2,370.4 432.0,369.6 433.8,367.3 435.6,365.6 437.4,359.2 439.2,361.2 441.0,359.7 442.8,359.7 444.6,358.5 446.4,355.9 448.3,356.5 450.1,356.1 451.9,354.7 453.7,353.9 455.5,352.3 457.3,352.7 459.1,352.0 460.9,352.3 462.7,349.1 464.5,350.6 466.4,351.5 468.2,350.2 470.0,350.7 471.8,353.5 473.6,351.7 475.4,349.2 477.2,351.3 479.0,350.4 480.8,353.3 482.6,354.8 484.5,354.0 486.3,351.3 488.1,356.0 489.9,356.2 491.7,354.3 493.5,357.3 495.3,358.0 497.1,358.2 498.9,359.9 500.7,361.6 502.6,361.7 504.4,364.4 506.2,364.6 508.0,364.2 509.8,367.6 511.6,367.9 513.4,370.6 515.2,369.2 517.0,371.2 518.8,372.2 520.7,373.6 522.5,374.9 524.3,376.4 526.1,380.1 527.9,379.1 529.7,383.4 531.5,380.8 533.3,384.8 535.1,385.6 537.0,389.4 538.8,387.8 540.6,388.9 542.4,394.0 544.2,394.4 546.0,395.9 547.8,397.5 549.6,396.0 551.4,396.4 553.2,409.6 555.0,415.9 556.9,425.1 558.7,430.1 560.5,440.8 562.3,444.6 564.1,448.2 565.9,454.6 567.7,457.1 569.5,462.5 571.3,464.6 573.1,468.5 575.0,472.7 576.8,476.1 578.6,478.0 580.4,479.1 582.2,482.0 584.0,484.4 585.8,483.3 587.6,488.3 589.4,488.8 591.2,489.3 593.1,491.7 594.9,492.4 596.7,493.7 598.5,495.3 600.3,494.6 602.1,496.4 603.9,496.4 605.7,495.8 607.5,497.9 609.3,497.3 611.2,497.0 613.0,497.5 614.8,498.3 616.6,499.4 618.4,500.3 620.2,499.3 622.0,499.6 623.8,500.7 625.6,501.5 627.4,500.4 629.3,502.2 631.1,501.3 632.9,502.0 634.7,502.8 636.5,500.9 638.3,501.4 640.1,501.9 641.9,503.3 643.7,502.9 645.5,502.3 647.4,503.1 649.2,501.6 651.0,503.9 652.8,501.9 654.6,503.6 656.4,503.3 658.2,503.5 660.0,502.0 661.8,502.7 663.6,502.9 665.5,502.9 667.3,503.5 669.1,502.7 670.9,502.8 672.7,502.8 674.5,503.1 676.3,504.3 678.1,503.0 679.9,501.6 681.8,502.8 683.6,502.4 685.4,502.9 687.2,502.4 689.0,502.2 690.8,503.2 692.6,502.5 694.4,502.9 696.2,501.6 698.0,502.5 699.8,501.0 701.7,500.7 703.5,502.3 705.3,501.0 707.1,501.8 708.9,500.3 710.7,501.0 712.5,500.8 714.3,500.9 716.1,500.1 717.9,502.3 719.8,500.9 721.6,501.3 723.4,502.0 725.2,501.9 727.0,501.3 728.8,501.4 730.6,500.8 732.4,502.8 734.2,503.9 736.0,503.0 737.9,503.0 739.7,503.4 741.5,502.4 743.3,501.7 745.1,503.3 746.9,504.6 748.7,502.6 750.5,503.5 752.3,503.0 754.1,502.3 756.0,502.3 757.8,502.5 759.6,502.0 761.4,501.3 763.2,501.2 765.0,500.3 766.8,503.5 768.6,501.6 770.4,501.6 772.2,500.9 774.1,501.1 775.9,500.5 777.7,501.9 779.5,501.1 781.3,500.5 783.1,501.2 784.9,501.7 786.7,501.4 788.5,500.5 790.3,502.8"/><polyline points="184.0,487.7 185.8,488.0 187.6,487.1 189.4,486.5 191.2,487.8 193.1,488.2 194.9,486.6 196.7,487.1 198.5,486.7 200.3,487.6 202.1,487.2 203.9,488.3 205.7,487.0 207.5,486.4 209.3,488.1 211.2,489.3 213.0,488.0 214.8,488.4 216.6,487.8 218.4,487.9 220.2,487.8 222.0,486.3 223.8,488.1 225.6,488.0 227.4,487.6 229.2,489.3 231.1,487.9 232.9,488.7 234.7,489.1 236.5,488.9 238.3,487.8 240.1,487.4 241.9,487.1 243.7,488.1 245.5,488.9 247.3,487.7 249.2,488.1 251.0,486.1 252.8,489.1 254.6,486.5 256.4,486.8 258.2,487.1 260.0,487.9 261.8,488.4 263.6,488.7 265.4,488.9 267.3,486.2 269.1,487.3 270.9,487.6 272.7,487.5 274.5,489.1 276.3,487.8 278.1,487.3 279.9,486.6 281.7,488.2 283.6,487.6 285.4,487.9 287.2,488.0 289.0,488.9 290.8,488.0 292.6,487.9 294.4,489.5 296.2,487.7 298.0,486.9 299.8,489.2 301.6,487.8 303.5,489.5 305.3,489.1 307.1,487.6 308.9,488.6 310.7,487.4 312.5,488.2 314.3,487.8 316.1,488.3 317.9,487.5 319.8,487.1 321.6,487.7 323.4,488.7 325.2,488.4 327.0,488.5 328.8,487.5 330.6,487.3 332.4,487.6 334.2,486.4 336.0,487.1 337.9,485.9 339.7,486.5 341.5,485.8 343.3,487.1 345.1,487.9 346.9,488.9 348.7,487.1 350.5,488.4 352.3,487.4 354.1,488.0 355.9,487.6 357.8,489.1 359.6,488.8 361.4,488.4 363.2,488.0 365.0,489.5 366.8,488.5 368.6,489.7 370.4,488.9 372.2,489.6 374.0,488.5 375.9,485.8 377.7,482.8 379.5,481.9 381.3,477.8 383.1,476.3 384.9,472.5 386.7,470.5 388.5,465.8 390.3,463.8 392.1,459.9 394.0,456.9 395.8,455.3 397.6,453.1 399.4,449.1 401.2,446.2 403.0,443.8 404.8,442.6 406.6,438.3 408.4,437.2 410.2,434.1 412.1,434.0 413.9,430.7 415.7,427.9 417.5,428.0 419.3,426.3 421.1,423.8 422.9,422.7 424.7,421.8 426.5,421.2 428.3,421.7 430.2,418.6 432.0,418.6 433.8,416.1 435.6,417.8 437.4,412.5 439.2,411.4 441.0,412.3 442.8,412.9 444.6,411.7 446.4,409.9 448.3,409.3 450.1,410.8 451.9,408.5 453.7,408.9 455.5,408.5 457.3,409.4 459.1,408.8 460.9,409.9 462.7,408.8 464.5,409.9 466.4,407.9 468.2,409.9 470.0,409.7 471.8,410.2 473.6,410.8 475.4,413.2 477.2,410.3 479.0,412.2 480.8,413.7 482.6,414.4 484.5,414.9 486.3,415.3 488.1,415.3 489.9,416.8 491.7,416.6 493.5,417.2 495.3,419.0 497.1,415.9 498.9,418.9 500.7,419.2 502.6,420.2 504.4,421.4 506.2,421.3 508.0,421.3 509.8,423.5 511.6,424.8 513.4,424.2 515.2,427.9 517.0,426.1 518.8,427.6 520.7,427.7 522.5,430.4 524.3,429.8 526.1,431.1 527.9,431.6 529.7,431.1 531.5,432.6 533.3,433.8 535.1,432.8 537.0,434.7 538.8,437.7 540.6,437.3 542.4,436.8 544.2,437.8 546.0,438.4 547.8,439.1 549.6,440.6 551.4,440.9 553.2,445.8 555.0,449.2 556.9,452.9 558.7,456.0 560.5,458.8 562.3,461.7 564.1,464.8 565.9,466.3 567.7,470.2 569.5,471.2 571.3,473.7 573.1,477.3 575.0,477.4 576.8,480.7 578.6,480.2 580.4,482.0 582.2,484.7 584.0,487.3 585.8,487.6 587.6,489.1 589.4,488.7 591.2,491.3 593.1,491.5 594.9,491.8 596.7,493.0 598.5,493.3 600.3,494.4 602.1,493.8 603.9,495.7 605.7,495.1 607.5,497.0 609.3,496.8 611.2,498.5 613.0,498.3 614.8,498.3 616.6,498.8 618.4,501.1 620.2,500.7 622.0,501.3 623.8,500.6 625.6,502.4 627.4,501.7 629.3,502.9 631.1,503.7 632.9,503.1 634.7,504.3 636.5,503.1 638.3,503.6 640.1,503.1 641.9,504.8 643.7,503.5 645.5,503.8 647.4,505.5 649.2,503.5 651.0,504.2 652.8,505.8 654.6,504.9 656.4,506.0 658.2,505.2 660.0,505.1 661.8,504.6 663.6,505.6 665.5,505.3 667.3,506.0 669.1,505.2 670.9,505.1 672.7,505.8 674.5,505.1 676.3,505.5 678.1,506.0 679.9,505.6 681.8,507.2 683.6,506.3 685.4,507.3 687.2,505.7 689.0,506.1 690.8,505.5 692.6,506.2 694.4,506.7 696.2,506.5 698.0,506.6 699.8,506.1 701.7,506.9 703.5,507.8 705.3,507.9 707.1,506.4 708.9,507.7 710.7,507.2 712.5,507.5 714.3,506.0 716.1,506.6 717.9,506.1 719.8,507.1 721.6,506.6 723.4,506.5 725.2,506.3 727.0,507.7 728.8,507.4 730.6,507.0 732.4,507.9 734.2,506.4 736.0,506.8 737.9,506.4 739.7,507.3 741.5,505.9 743.3,506.0 745.1,505.6 746.9,506.6 748.7,506.2 750.5,505.7 752.3,507.4 754.1,506.8 756.0,506.7 757.8,507.2 759.6,506.4 761.4,505.5 763.2,506.9 765.0,506.1 766.8,505.4 768.6,505.8 770.4,506.4 772.2,506.7 774.1,507.2 775.9,507.1 777.7,507.1 779.5,507.3 781.3,506.9 783.1,508.8 784.9,507.0 786.7,507.6 788.5,507.4 790.3,507.8"/><polyline points="184.0,491.3 185.8,492.1 187.6,492.1 189.4,492.4 191.2,491.8 193.1,493.0 194.9,492.6 196.7,490.9 198.5,493.2 200.3,492.8 202.1,493.6 203.9,491.2 205.7,492.2 207.5,492.5 209.3,492.1 211.2,490.4 213.0,490.6 214.8,490.5 216.6,491.0 218.4,490.3 220.2,489.9 222.0,490.0 223.8,491.8 225.6,492.1 227.4,491.4 229.2,490.0 231.1,491.2 232.9,491.0 234.7,490.1 236.5,490.6 238.3,491.0 240.1,489.7 241.9,490.1 243.7,489.8 245.5,489.7 247.3,489.5 249.2,490.5 251.0,490.6 252.8,491.8 254.6,490.9 256.4,491.2 258.2,490.5 260.0,490.5 261.8,489.8 263.6,490.2 265.4,490.1 267.3,490.2 269.1,490.4 270.9,490.5 272.7,490.3 274.5,490.5 276.3,489.5 278.1,489.2 279.9,490.9 281.7,491.7 283.6,490.1 285.4,489.8 287.2,489.4 289.0,488.1 290.8,489.3 292.6,489.9 294.4,488.8 296.2,488.3 298.0,487.9 299.8,489.8 301.6,489.7 303.5,490.1 305.3,489.0 307.1,489.8 308.9,490.8 310.7,490.3 312.5,491.0 314.3,491.3 316.1,491.2 317.9,491.2 319.8,491.5 321.6,491.3 323.4,491.8 325.2,491.2 327.0,491.6 328.8,492.1 330.6,493.3 332.4,493.3 334.2,492.7 336.0,492.8 337.9,493.1 339.7,492.5 341.5,492.2 343.3,492.7 345.1,492.1 346.9,492.2 348.7,492.9 350.5,492.7 352.3,492.1 354.1,491.8 355.9,492.6 357.8,493.6 359.6,492.8 361.4,491.8 363.2,493.2 365.0,491.6 366.8,492.7 368.6,492.0 370.4,492.9 372.2,490.9 374.0,488.1 375.9,484.0 377.7,481.0 379.5,474.0 381.3,470.4 383.1,463.7 384.9,457.0 386.7,451.9 388.5,445.5 390.3,440.1 392.1,434.4 394.0,429.3 395.8,421.8 397.6,415.8 399.4,412.2 401.2,407.2 403.0,400.8 404.8,397.2 406.6,391.1 408.4,385.6 410.2,381.7 412.1,376.1 413.9,372.7 415.7,371.0 417.5,366.5 419.3,361.0 421.1,355.5 422.9,355.5 424.7,352.9 426.5,346.6 428.3,345.9 430.2,341.8 432.0,338.8 433.8,340.2 435.6,337.0 437.4,335.4 439.2,331.8 441.0,329.9 442.8,330.2 444.6,326.8 446.4,328.7 448.3,324.3 450.1,323.6 451.9,323.0 453.7,324.6 455.5,321.9 457.3,322.8 459.1,318.0 460.9,321.0 462.7,320.5 464.5,320.2 466.4,319.0 468.2,319.6 470.0,318.7 471.8,321.2 473.6,317.9 475.4,320.8 477.2,319.4 479.0,320.3 480.8,319.7 482.6,322.5 484.5,325.3 486.3,325.3 488.1,325.1 489.9,323.4 491.7,327.1 493.5,327.6 495.3,326.7 497.1,330.0 498.9,329.9 500.7,330.8 502.6,334.3 504.4,334.3 506.2,334.1 508.0,335.7 509.8,339.8 511.6,336.1 513.4,340.9 515.2,343.2 517.0,345.6 518.8,347.3 520.7,346.4 522.5,353.1 524.3,350.3 526.1,353.6 527.9,353.4 529.7,354.9 531.5,358.0 533.3,359.8 535.1,357.9 537.0,362.3 538.8,362.8 540.6,364.9 542.4,364.9 544.2,365.7 546.0,367.5 547.8,369.8 549.6,371.4 550.5,377.4 551.4,375.3 553.2,380.1 555.0,390.1 556.9,398.0 558.7,404.5 560.5,411.2 562.3,416.1 564.1,421.4 565.9,426.0 567.7,432.7 569.5,437.8 571.3,442.3 573.1,447.1 575.0,450.4 576.8,451.6 578.6,457.3 580.4,460.2 582.2,462.2 584.0,465.2 585.8,467.7 587.6,471.5 589.4,473.9 591.2,474.3 593.1,477.3 594.9,478.7 596.7,480.2 598.5,483.4 600.3,484.1 602.1,485.6 603.9,485.8 605.7,487.6 607.5,489.6 609.3,489.0 611.2,491.9 613.0,491.4 614.8,492.6 616.6,493.5 618.4,493.9 620.2,493.7 622.0,495.3 623.8,495.9 625.6,495.7 627.4,496.5 629.3,496.6 631.1,497.4 632.9,498.3 634.7,498.9 636.5,499.1 638.3,499.2 640.1,499.7 641.9,499.7 643.7,502.1 645.5,501.7 647.4,502.3 649.2,502.8 651.0,503.8 652.8,501.9 654.6,502.8 656.4,504.4 658.2,504.7 660.0,504.7 661.8,505.9 663.6,505.2 665.5,504.8 667.3,504.3 669.1,505.2 670.9,505.0 672.7,506.4 674.5,507.7 676.3,505.1 678.1,505.7 679.9,506.0 681.8,505.1 683.6,506.3 685.4,506.2 687.2,506.0 689.0,504.9 690.8,505.1 692.6,506.5 694.4,505.2 696.2,506.1 698.0,505.7 699.8,506.8 701.7,505.6 703.5,507.0 705.3,506.3 707.1,508.0 708.9,506.9 710.7,507.0 712.5,506.9 714.3,507.8 716.1,507.4 717.9,507.8 719.8,507.9 721.6,508.0 723.4,507.8 725.2,508.7 727.0,508.5 728.8,508.3 730.6,508.6 732.4,508.2 734.2,508.2 736.0,508.0 737.9,507.7 739.7,507.0 741.5,507.1 743.3,506.9 745.1,506.8 746.9,507.9 748.7,508.0 750.5,507.0 752.3,507.0 754.1,506.1 756.0,507.0 757.8,507.0 759.6,506.3 761.4,506.7 763.2,507.3 765.0,505.9 766.8,505.5 768.6,506.3 770.4,506.6 772.2,506.2 774.1,506.3 775.9,507.2 777.7,505.8 779.5,506.2 781.3,505.7 783.1,506.7 784.9,506.3 786.7,506.3 788.5,507.6 790.3,505.0"/><polyline points="184.0,502.9 185.8,503.5 187.6,502.6 189.4,503.3 191.2,503.8 193.1,503.3 194.9,503.9 196.7,504.0 198.5,503.6 200.3,503.7 202.1,503.6 203.9,504.3 205.7,502.4 207.5,503.0 209.3,503.5 211.2,503.2 213.0,504.6 214.8,502.8 216.6,503.7 218.4,502.4 220.2,503.0 222.0,501.8 223.8,502.9 225.6,502.4 227.4,501.2 229.2,501.3 231.1,502.9 232.9,502.3 234.7,501.6 236.5,501.9 238.3,501.0 240.1,502.2 241.9,503.1 243.7,502.7 245.5,502.2 247.3,501.7 249.2,501.2 251.0,500.7 252.8,501.3 254.6,501.7 256.4,501.2 258.2,501.6 260.0,501.7 261.8,501.4 263.6,500.3 265.4,500.0 267.3,500.3 269.1,502.1 270.9,500.5 272.7,501.8 274.5,501.5 276.3,500.7 278.1,501.6 279.9,501.3 281.7,501.2 283.6,499.9 285.4,500.5 287.2,501.5 289.0,501.2 290.8,501.2 292.6,501.4 294.4,502.1 296.2,500.8 298.0,502.2 299.8,501.7 301.6,503.2 303.5,501.8 305.3,502.3 307.1,501.3 308.9,503.7 310.7,502.0 312.5,501.9 314.3,502.3 316.1,501.6 317.9,500.8 319.8,501.6 321.6,501.9 323.4,501.9 325.2,502.8 327.0,502.5 328.8,502.7 330.6,503.4 332.4,503.3 334.2,501.4 336.0,501.5 337.9,502.4 339.7,501.8 341.5,500.6 343.3,502.9 345.1,502.4 346.9,501.2 348.7,501.1 350.5,503.0 352.3,502.8 354.1,502.5 355.9,501.5 357.8,502.2 359.6,504.2 361.4,501.5 363.2,501.9 365.0,502.2 366.8,502.4 368.6,500.9 370.4,501.8 372.2,502.0 374.0,502.4 375.9,500.6 377.7,497.1 379.5,491.6 381.3,488.3 383.1,482.1 384.9,476.5 386.7,468.4 388.5,464.1 390.3,459.0 392.1,451.7 394.0,446.4 395.8,440.2 397.6,433.8 399.4,428.9 401.2,423.9 403.0,413.9 404.8,411.4 406.6,407.1 408.4,399.9 410.2,393.5 412.1,392.6 413.9,386.3 415.7,381.3 417.5,379.0 419.3,373.2 421.1,372.2 422.9,367.8 424.7,363.8 426.5,359.5 428.3,357.4 430.2,355.6 432.0,352.3 433.8,352.9 435.6,344.1 437.4,345.6 439.2,343.7 441.0,340.8 442.8,339.0 444.6,338.0 446.4,338.6 448.3,338.9 450.1,335.6 451.9,335.6 453.7,334.5 455.5,333.0 457.3,332.1 459.1,330.2 460.9,332.1 462.7,334.7 464.5,330.3 466.4,330.0 468.2,334.3 470.0,330.8 471.8,332.0 473.6,333.9 475.4,333.2 477.2,333.6 479.0,333.8 480.8,333.7 482.6,336.6 484.5,337.4 486.3,333.9 488.1,340.6 489.9,339.9 491.7,341.1 493.5,340.5 495.3,341.2 497.1,346.4 498.9,343.8 500.7,349.0 502.6,344.5 504.4,351.2 506.2,349.8 508.0,353.4 509.8,353.6 511.6,357.1 513.4,357.1 515.2,358.6 517.0,360.0 518.8,360.5 520.7,363.9 522.5,365.7 524.3,368.7 526.1,369.0 527.9,371.1 529.7,371.1 531.5,372.9 533.3,376.8 535.1,376.6 537.0,377.3 538.8,380.9 540.6,383.2 542.4,380.2 544.2,384.5 546.0,385.4 547.8,384.9 549.6,391.2 551.4,391.5 553.2,403.4 555.0,408.5 556.9,416.4 558.7,424.6 560.5,431.3 562.3,436.1 564.1,441.4 565.9,444.2 567.7,450.7 569.5,454.7 571.3,458.7 573.1,463.4 575.0,465.8 576.8,469.8 578.6,471.4 580.4,476.1 582.2,478.1 584.0,479.0 585.8,482.6 587.6,484.0 589.4,483.8 591.2,486.9 593.1,487.3 594.9,488.6 596.7,490.6 598.5,492.2 600.3,491.2 602.1,493.7 603.9,493.8 605.7,495.0 607.5,495.3 609.3,497.0 611.2,497.7 613.0,498.4 614.8,498.5 616.6,498.7 618.4,498.6 620.2,498.7 622.0,499.7 623.8,499.5 625.6,500.6 627.4,500.0 629.3,499.8 631.1,499.3 632.9,501.9 634.7,499.9 636.5,502.1 638.3,500.2 640.1,501.2 641.9,501.1 643.7,501.9 645.5,500.8 647.4,501.2 649.2,502.0 651.0,502.6 652.8,502.0 654.6,502.2 656.4,502.4 658.2,503.1 660.0,502.6 661.8,501.8 663.6,502.1 665.5,502.3 667.3,503.3 669.1,503.9 670.9,503.5 672.7,503.6 674.5,504.5 676.3,503.9 678.1,504.8 679.9,504.5 681.8,505.2 683.6,503.5 685.4,503.9 687.2,504.3 689.0,505.2 690.8,505.3 692.6,504.3 694.4,504.8 696.2,504.7 698.0,506.1 699.8,505.9 701.7,504.5 703.5,505.0 705.3,505.8 707.1,505.3 708.9,504.3 710.7,504.7 712.5,504.4 714.3,503.9 716.1,504.5 717.9,504.6 719.8,505.3 721.6,504.4 723.4,506.1 725.2,505.9 727.0,505.4 728.8,506.4 730.6,505.1 732.4,506.0 734.2,505.4 736.0,506.1 737.9,506.0 739.7,505.5 741.5,506.4 743.3,505.9 745.1,505.9 746.9,504.6 748.7,505.2 750.5,505.4 752.3,506.7 754.1,505.6 756.0,505.2 757.8,505.4 759.6,504.1 761.4,506.3 763.2,505.9 765.0,505.4 766.8,506.1 768.6,505.3 770.4,504.9 772.2,504.9 774.1,505.3 775.9,505.2 777.7,505.1 779.5,505.9 781.3,505.8 783.1,504.4 784.9,505.5 786.7,505.6 788.5,504.7 790.3,504.9"/><polyline points="184.0,505.2 185.8,505.4 187.6,504.8 189.4,504.3 191.2,504.1 193.1,504.1 194.9,505.0 196.7,504.3 198.5,504.8 200.3,504.7 202.1,504.5 203.9,504.7 205.7,504.3 207.5,505.8 209.3,504.0 211.2,505.3 213.0,504.0 214.8,504.3 216.6,505.7 218.4,505.0 220.2,504.6 222.0,505.1 223.8,504.6 225.6,504.3 227.4,503.6 229.2,503.7 231.1,504.6 232.9,503.9 234.7,503.6 236.5,504.0 238.3,504.6 240.1,504.6 241.9,504.1 243.7,503.7 245.5,504.3 247.3,505.0 249.2,505.6 251.0,504.2 252.8,504.5 254.6,503.2 256.4,505.2 258.2,504.7 260.0,504.8 261.8,503.4 263.6,503.8 265.4,504.3 267.3,505.1 269.1,503.1 270.9,504.0 272.7,504.9 274.5,505.1 276.3,504.1 278.1,504.3 279.9,504.2 281.7,504.2 283.6,504.1 285.4,503.9 287.2,503.5 289.0,504.3 290.8,504.6 292.6,504.1 294.4,505.8 296.2,504.1 298.0,504.3 299.8,505.3 301.6,505.4 303.5,504.7 305.3,505.3 307.1,506.8 308.9,506.2 310.7,505.7 312.5,504.5 314.3,505.2 316.1,505.7 317.9,505.2 319.8,506.0 321.6,506.1 323.4,505.7 325.2,507.0 327.0,505.2 328.8,505.2 330.6,506.1 332.4,506.6 334.2,506.7 336.0,505.7 337.9,505.4 339.7,505.2 341.5,504.6 343.3,506.7 345.1,505.8 346.9,505.5 348.7,504.4 350.5,504.9 352.3,505.5 354.1,504.6 355.9,504.5 357.8,503.8 359.6,504.4 361.4,504.9 363.2,505.0 365.0,505.1 366.8,504.3 368.6,503.6 370.4,504.6 372.2,504.6 374.0,503.9 375.9,504.9 377.7,503.9 379.5,503.6 381.3,502.2 383.1,501.2 384.9,498.8 386.7,495.5 388.5,492.7 390.3,491.3 392.1,489.3 394.0,486.0 395.8,483.1 397.6,481.7 399.4,478.6 401.2,477.0 403.0,475.5 404.8,473.2 406.6,470.3 408.4,465.6 410.2,464.5 412.1,462.8 413.9,460.2 415.7,457.8 417.5,456.2 419.3,454.3 421.1,452.7 422.9,450.1 424.7,447.1 426.5,445.5 428.3,445.3 430.2,442.9 432.0,442.2 433.8,441.1 435.6,438.2 437.4,436.3 439.2,435.5 441.0,433.1 442.8,432.0 444.6,431.4 446.4,431.5 448.3,432.3 450.1,427.9 451.9,429.9 453.7,427.4 455.5,427.3 457.3,427.2 459.1,424.1 460.9,425.3 462.7,425.5 464.5,425.6 466.4,425.6 468.2,425.3 470.0,423.1 471.8,423.9 473.6,423.7 475.4,422.6 477.2,423.4 479.0,421.9 480.8,423.2 482.6,422.8 484.5,420.6 486.3,422.2 488.1,421.0 489.9,421.3 491.7,421.6 493.5,423.7 495.3,423.4 497.1,422.8 498.9,423.5 500.7,421.4 502.6,423.8 504.4,424.6 506.2,423.7 508.0,423.9 509.8,425.8 511.6,423.7 513.4,424.3 515.2,426.5 517.0,425.3 518.8,428.3 520.7,428.0 522.5,428.1 524.3,428.0 526.1,427.4 527.9,429.7 529.7,431.1 531.5,430.3 533.3,431.5 535.1,431.3 537.0,432.6 538.8,432.5 540.6,433.8 542.4,433.7 544.2,435.5 546.0,436.4 547.8,435.3 549.6,437.3 551.4,437.0 553.2,442.4 555.0,448.7 556.9,452.2 558.7,458.1 560.5,461.1 562.3,467.1 564.1,470.1 565.9,472.3 567.7,474.1 569.5,476.5 571.3,481.2 573.1,483.1 575.0,485.2 576.8,488.8 578.6,488.2 580.4,490.4 582.2,490.7 584.0,492.7 585.8,494.7 587.6,495.9 589.4,496.6 591.2,497.2 593.1,499.1 594.9,498.1 596.7,500.6 598.5,502.3 600.3,502.5 602.1,502.5 603.9,503.6 605.7,504.8 607.5,505.5 609.3,506.0 611.2,506.7 613.0,506.6 614.8,506.5 616.6,507.2 618.4,506.4 620.2,507.3 622.0,508.4 623.8,508.5 625.6,507.9 627.4,510.2 629.3,509.1 631.1,507.7 632.9,508.7 634.7,509.8 636.5,509.4 638.3,510.0 640.1,508.5 641.9,510.5 643.7,510.3 645.5,510.8 647.4,511.9 649.2,513.3 651.0,512.0 652.8,512.0 654.6,512.6 656.4,512.1 658.2,511.3 660.0,511.4 661.8,513.2 663.6,511.1 665.5,511.8 667.3,512.0 669.1,512.5 670.9,512.6 672.7,512.8 674.5,511.9 676.3,511.7 678.1,512.2 679.9,511.3 681.8,511.9 683.6,511.2 685.4,511.7 687.2,510.8 689.0,510.1 690.8,510.7 692.6,511.2 694.4,511.5 696.2,510.9 698.0,511.6 699.8,511.0 701.7,511.1 703.5,510.5 705.3,511.4 707.1,511.5 708.9,511.4 710.7,510.9 712.5,511.6 714.3,510.7 716.1,512.4 717.9,511.5 719.8,511.4 721.6,512.1 723.4,511.5 725.2,511.7 727.0,511.3 728.8,511.4 730.6,511.3 732.4,512.1 734.2,512.2 736.0,511.6 737.9,511.0 739.7,511.2 741.5,511.2 743.3,510.9 745.1,511.9 746.9,512.0 748.7,512.1 750.5,512.1 752.3,511.4 754.1,511.9 756.0,513.0 757.8,511.0 759.6,512.8 761.4,512.1 763.2,511.3 765.0,511.6 766.8,511.3 768.6,511.0 770.4,511.7 772.2,512.4 774.1,511.7 775.9,512.3 777.7,513.1 779.5,511.8 781.3,511.1 783.1,511.1 784.9,511.3 786.7,510.5 788.5,511.2 790.3,510.7"/><polyline points="184.0,464.0 185.8,465.0 187.6,466.5 189.4,465.9 191.2,463.9 193.1,463.4 194.9,464.2 196.7,465.3 198.5,464.0 200.3,463.0 202.1,464.0 203.9,465.1 205.7,463.4 207.5,464.1 209.3,464.0 211.2,463.3 213.0,462.8 214.8,463.1 216.6,463.8 218.4,462.9 220.2,462.8 222.0,461.9 223.8,463.7 225.6,462.6 227.4,463.6 229.2,462.9 231.1,463.5 232.9,465.6 234.7,462.4 236.5,464.0 238.3,464.1 240.1,464.6 241.9,464.2 243.7,464.5 245.5,463.2 247.3,463.2 249.2,463.4 251.0,463.1 252.8,464.2 254.6,463.0 256.4,463.4 258.2,462.8 260.0,462.7 261.8,464.0 263.6,462.5 265.4,462.6 267.3,463.6 269.1,461.7 270.9,461.4 272.7,464.0 274.5,464.3 276.3,463.0 278.1,461.9 279.9,461.4 281.7,461.7 283.6,462.5 285.4,461.7 287.2,462.0 289.0,463.0 290.8,462.3 292.6,461.3 294.4,463.0 296.2,463.0 298.0,462.7 299.8,461.0 301.6,461.5 303.5,461.1 305.3,462.1 307.1,462.3 308.9,461.2 310.7,462.7 312.5,461.5 314.3,462.8 316.1,462.5 317.9,462.1 319.8,462.0 321.6,461.3 323.4,463.1 325.2,461.2 327.0,463.5 328.8,463.8 330.6,464.9 332.4,462.5 334.2,462.3 336.0,464.4 337.9,463.6 339.7,463.9 341.5,464.7 343.3,463.2 345.1,462.8 346.9,463.8 348.7,464.3 350.5,463.4 352.3,463.0 354.1,464.5 355.9,463.5 357.8,462.7 359.6,465.2 361.4,462.6 363.2,461.2 365.0,463.6 366.8,461.9 368.6,463.1 370.4,462.0 372.2,463.0 374.0,464.3 375.9,463.7 377.7,458.7 379.5,459.4 381.3,456.1 383.1,451.2 384.9,448.9 386.7,445.6 388.5,444.6 390.3,440.1 392.1,437.3 394.0,434.0 395.8,428.7 397.6,424.4 399.4,423.0 401.2,419.5 403.0,414.5 404.8,410.7 406.6,409.9 408.4,404.1 410.2,401.0 412.1,399.0 413.9,397.1 415.7,392.2 417.5,388.9 419.3,385.0 421.1,385.2 422.9,379.7 424.7,379.9 426.5,376.4 428.3,374.8 430.2,372.5 432.0,368.2 433.8,369.6 435.6,365.4 437.4,364.9 439.2,363.0 441.0,362.4 442.8,359.8 444.6,361.1 446.4,357.5 448.3,354.2 450.1,353.3 451.9,355.9 453.7,354.3 455.5,352.1 457.3,347.9 459.1,350.7 460.9,349.2 462.7,348.8 464.5,347.4 466.4,348.6 468.2,346.4 470.0,345.7 471.8,344.4 473.6,347.0 475.4,344.1 477.2,342.4 479.0,343.9 480.8,344.0 482.6,348.5 484.5,343.1 486.3,342.0 488.1,343.1 489.9,344.5 491.7,344.3 493.5,341.3 495.3,347.2 497.1,347.6 498.9,345.7 500.7,347.3 502.6,351.9 504.4,349.0 506.2,349.2 508.0,351.8 509.8,350.8 511.6,351.5 513.4,355.5 515.2,352.9 517.0,351.0 518.8,352.3 520.7,357.3 522.5,358.6 524.3,357.3 526.1,357.6 527.9,360.8 529.7,360.6 531.5,358.5 533.3,361.0 535.1,360.8 537.0,363.2 538.8,362.1 540.6,365.1 542.4,366.4 544.2,368.0 546.0,369.9 547.8,368.5 549.6,370.3 551.4,370.1 553.2,381.2 555.0,391.4 556.9,400.6 558.7,409.9 560.5,417.3 562.3,422.6 564.1,430.2 565.9,435.7 567.7,443.0 569.5,445.7 571.3,447.4 573.1,453.2 575.0,456.7 576.8,458.1 578.6,462.7 580.4,463.1 582.2,466.5 584.0,468.7 585.8,471.7 587.6,470.4 589.4,474.1 591.2,475.0 593.1,474.3 594.9,477.0 596.7,476.3 598.5,477.6 600.3,478.3 602.1,479.3 603.9,479.9 605.7,479.7 607.5,481.3 609.3,480.4 611.2,481.1 613.0,480.6 614.8,480.8 616.6,480.7 618.4,481.2 620.2,481.2 622.0,481.8 623.8,481.9 625.6,482.8 627.4,482.9 629.3,481.5 631.1,480.6 632.9,482.2 634.7,482.9 636.5,482.4 638.3,482.2 640.1,481.4 641.9,482.7 643.7,483.2 645.5,482.7 647.4,482.2 649.2,482.9 651.0,482.0 652.8,483.3 654.6,482.4 656.4,481.8 658.2,483.9 660.0,483.7 661.8,482.6 663.6,481.6 665.5,483.8 667.3,484.2 669.1,482.9 670.9,483.8 672.7,485.0 674.5,484.1 676.3,482.4 678.1,484.5 679.9,484.5 681.8,482.7 683.6,483.3 685.4,483.0 687.2,485.1 689.0,485.0 690.8,484.7 692.6,485.4 694.4,484.8 696.2,484.7 698.0,483.9 699.8,483.7 701.7,483.8 703.5,483.5 705.3,483.2 707.1,483.4 708.9,483.8 710.7,484.2 712.5,484.5 714.3,485.2 716.1,484.3 717.9,484.3 719.8,482.9 721.6,483.2 723.4,482.3 725.2,481.7 727.0,484.0 728.8,483.3 730.6,483.2 732.4,483.2 734.2,484.4 736.0,483.5 737.9,483.7 739.7,483.8 741.5,483.9 743.3,485.3 745.1,483.8 746.9,485.2 748.7,486.2 750.5,485.0 752.3,484.5 754.1,485.4 756.0,486.3 757.8,486.3 759.6,485.8 761.4,487.4 763.2,484.9 765.0,484.7 766.8,485.2 768.6,484.4 770.4,485.3 772.2,485.9 774.1,484.4 775.9,484.5 777.7,485.5 779.5,485.8 781.3,485.4 783.1,483.9 784.9,485.0 786.7,482.3 788.5,484.9 790.3,483.9"/><polyline points="184.0,498.6 185.8,498.4 187.6,497.7 189.4,497.7 191.2,498.1 193.1,498.7 194.9,498.3 196.7,498.6 198.5,498.7 200.3,498.7 202.1,498.2 203.9,498.9 205.7,497.8 207.5,497.7 209.3,497.4 211.2,498.4 213.0,497.7 214.8,497.2 216.6,497.9 218.4,497.6 220.2,497.8 222.0,499.0 223.8,497.3 225.6,499.2 227.4,499.3 229.2,497.6 231.1,499.0 232.9,497.4 234.7,498.0 236.5,497.8 238.3,498.3 240.1,498.9 241.9,498.6 243.7,497.4 245.5,497.5 247.3,498.2 249.2,498.4 251.0,498.2 252.8,497.4 254.6,497.1 256.4,496.5 258.2,497.0 260.0,495.8 261.8,496.1 263.6,495.4 265.4,496.7 267.3,495.8 269.1,495.5 270.9,497.6 272.7,495.9 274.5,496.8 276.3,496.6 278.1,497.0 279.9,496.7 281.7,497.8 283.6,498.3 285.4,497.6 287.2,498.0 289.0,499.4 290.8,497.8 292.6,497.6 294.4,497.8 296.2,498.9 298.0,497.7 299.8,498.5 301.6,498.4 303.5,499.2 305.3,499.0 307.1,499.2 308.9,499.4 310.7,497.8 312.5,498.8 314.3,498.9 316.1,498.3 317.9,498.6 319.8,499.3 321.6,498.1 323.4,497.9 325.2,496.7 327.0,497.4 328.8,499.0 330.6,499.1 332.4,498.8 334.2,498.3 336.0,498.8 337.9,497.8 339.7,498.8 341.5,498.0 343.3,497.6 345.1,500.0 346.9,498.7 348.7,498.3 350.5,498.1 352.3,498.2 354.1,498.2 355.9,498.3 357.8,498.5 359.6,498.4 361.4,497.7 363.2,497.8 365.0,497.6 366.8,498.2 368.6,498.2 370.4,496.8 372.2,498.1 374.0,496.8 375.9,498.4 377.7,495.8 379.5,494.0 381.3,492.5 383.1,489.6 384.9,487.3 386.7,482.2 388.5,477.8 390.3,474.1 392.1,471.2 394.0,465.6 395.8,463.1 397.6,459.0 399.4,455.9 401.2,451.7 403.0,446.4 404.8,444.7 406.6,443.6 408.4,438.6 410.2,433.8 412.1,431.0 413.9,429.8 415.7,426.5 417.5,425.8 419.3,421.0 421.1,420.6 422.9,418.0 424.7,415.7 426.5,414.0 428.3,409.0 430.2,407.3 432.0,407.7 433.8,405.9 435.6,403.0 437.4,403.8 439.2,402.7 441.0,402.2 442.8,398.2 444.6,399.0 446.4,398.2 448.3,398.1 450.1,398.2 451.9,394.9 453.7,396.5 455.5,395.8 457.3,396.9 459.1,396.2 460.9,395.3 462.7,395.1 464.5,396.6 466.4,395.4 468.2,394.6 470.0,397.6 471.8,393.5 473.6,394.8 475.4,396.4 477.2,395.3 479.0,394.8 480.8,395.6 482.6,396.1 484.5,396.8 486.3,396.4 488.1,399.6 489.9,399.0 491.7,398.7 493.5,400.0 495.3,402.0 497.1,402.0 498.9,403.5 500.7,403.2 502.6,406.1 504.4,406.7 506.2,407.6 508.0,407.2 509.8,405.2 511.6,407.8 513.4,408.6 515.2,411.1 517.0,410.5 518.8,413.1 520.7,414.4 522.5,414.3 524.3,418.1 526.1,420.4 527.9,419.9 529.7,417.5 531.5,418.5 533.3,420.4 535.1,421.8 537.0,423.1 538.8,423.8 540.6,426.6 542.4,425.7 544.2,428.4 546.0,427.1 547.8,429.9 549.6,431.7 551.4,432.0 553.2,439.2 555.0,444.8 556.9,452.2 558.7,456.1 560.5,460.2 562.3,464.6 564.1,469.2 565.9,472.1 567.7,478.0 569.5,480.0 571.3,482.7 573.1,484.0 575.0,486.0 576.8,486.7 578.6,490.0 580.4,492.1 582.2,491.0 584.0,494.1 585.8,495.3 587.6,496.0 589.4,498.5 591.2,498.9 593.1,499.3 594.9,501.3 596.7,501.4 598.5,500.8 600.3,500.9 602.1,502.1 603.9,502.5 605.7,501.7 607.5,503.6 609.3,504.2 611.2,504.4 613.0,505.2 614.8,505.7 616.6,504.5 618.4,504.1 620.2,504.2 622.0,504.4 623.8,506.7 625.6,505.2 627.4,504.3 629.3,505.4 631.1,505.9 632.9,505.3 634.7,505.4 636.5,505.6 638.3,506.5 640.1,505.7 641.9,506.4 643.7,506.8 645.5,506.8 647.4,506.5 649.2,507.8 651.0,506.9 652.8,507.2 654.6,507.3 656.4,508.5 658.2,507.4 660.0,507.3 661.8,507.0 663.6,508.3 665.5,507.9 667.3,507.6 669.1,506.7 670.9,507.9 672.7,506.5 674.5,506.8 676.3,505.9 678.1,506.7 679.9,507.8 681.8,507.4 683.6,507.3 685.4,506.5 687.2,506.8 689.0,507.2 690.8,508.1 692.6,507.5 694.4,507.7 696.2,506.8 698.0,507.1 699.8,508.8 701.7,509.1 703.5,507.9 705.3,507.8 707.1,508.5 708.9,508.4 710.7,507.5 712.5,507.7 714.3,509.5 716.1,508.4 717.9,508.3 719.8,508.3 721.6,507.9 723.4,508.1 725.2,506.9 727.0,507.8 728.8,508.6 730.6,508.3 732.4,507.6 734.2,506.6 736.0,507.5 737.9,507.7 739.7,508.0 741.5,508.2 743.3,508.2 745.1,509.3 746.9,508.0 748.7,508.2 750.5,508.0 752.3,508.7 754.1,508.7 756.0,508.8 757.8,508.3 759.6,508.4 761.4,507.8 763.2,507.7 765.0,507.2 766.8,508.8 768.6,508.8 770.4,509.4 772.2,507.8 774.1,509.0 775.9,507.6 777.7,508.7 779.5,507.8 781.3,508.3 783.1,508.1 784.9,507.9 786.7,508.1 788.5,508.1 790.3,507.5"/><polyline points="184.0,503.0 185.8,504.1 187.6,503.5 189.4,503.9 191.2,503.7 193.1,503.8 194.9,504.0 196.7,504.0 198.5,503.7 200.3,504.1 202.1,504.8 203.9,503.8 205.7,504.8 207.5,504.3 209.3,504.6 211.2,505.4 213.0,504.9 214.8,503.6 216.6,504.8 218.4,505.1 220.2,505.0 222.0,505.3 223.8,505.4 225.6,505.9 227.4,504.8 229.2,506.0 231.1,505.9 232.9,505.3 234.7,504.8 236.5,503.8 238.3,503.6 240.1,505.0 241.9,504.7 243.7,503.8 245.5,504.2 247.3,503.5 249.2,504.6 251.0,503.3 252.8,505.1 254.6,503.6 256.4,503.4 258.2,502.0 260.0,503.8 261.8,503.3 263.6,503.2 265.4,503.8 267.3,502.9 269.1,503.6 270.9,504.0 272.7,504.0 274.5,502.8 276.3,503.4 278.1,503.9 279.9,502.6 281.7,503.8 283.6,502.6 285.4,502.9 287.2,503.8 289.0,504.1 290.8,503.7 292.6,503.6 294.4,503.4 296.2,503.7 298.0,501.5 299.8,504.2 301.6,503.8 303.5,503.1 305.3,503.4 307.1,503.0 308.9,504.6 310.7,503.9 312.5,505.6 314.3,504.1 316.1,503.7 317.9,503.7 319.8,505.0 321.6,504.5 323.4,505.2 325.2,504.4 327.0,504.8 328.8,504.2 330.6,504.6 332.4,503.5 334.2,504.1 336.0,504.2 337.9,502.6 339.7,502.9 341.5,504.4 343.3,502.9 345.1,503.4 346.9,502.8 348.7,503.6 350.5,505.0 352.3,504.1 354.1,505.5 355.9,505.5 357.8,505.0 359.6,503.7 361.4,504.5 363.2,504.1 365.0,503.5 366.8,504.1 368.6,503.0 370.4,502.2 372.2,501.2 374.0,498.7 375.9,496.0 377.7,492.2 379.5,488.1 381.3,485.6 383.1,482.1 384.9,477.0 386.7,472.3 388.5,469.7 390.3,467.3 392.1,463.9 394.0,459.7 395.8,456.5 397.6,454.3 399.4,449.0 401.2,444.6 403.0,444.8 404.8,441.8 406.6,438.7 408.4,436.0 410.2,431.1 412.1,430.4 413.9,425.5 415.7,423.5 417.5,420.9 419.3,421.0 421.1,417.0 422.9,414.8 424.7,411.7 426.5,410.1 428.3,409.4 430.2,405.2 432.0,402.9 433.8,401.1 435.6,402.3 437.4,399.3 439.2,399.7 441.0,397.5 442.8,394.8 444.6,396.6 446.4,390.0 448.3,391.1 450.1,392.6 451.9,391.2 453.7,389.4 455.5,388.9 457.3,389.3 459.1,387.4 460.9,389.0 462.7,387.3 464.5,383.7 466.4,386.0 468.2,386.6 470.0,383.8 471.8,385.0 473.6,384.6 475.4,386.5 477.2,384.2 479.0,386.3 480.8,385.0 482.6,385.5 484.5,384.4 486.3,386.0 488.1,387.7 489.9,389.8 491.7,389.1 493.5,390.4 495.3,387.9 497.1,390.9 498.9,393.9 500.7,390.9 502.6,391.3 504.4,393.9 506.2,392.4 508.0,395.8 509.8,394.9 511.6,396.2 513.4,396.3 515.2,396.9 517.0,398.9 518.8,398.1 520.7,400.2 522.5,400.2 524.3,399.6 526.1,403.0 527.9,402.5 529.7,401.7 531.5,403.1 533.3,406.1 535.1,407.1 537.0,407.0 538.8,409.0 540.6,409.4 542.4,412.1 544.2,410.6 546.0,413.9 547.8,412.8 549.6,413.1 551.4,415.9 553.2,423.8 555.0,429.7 556.9,436.6 558.7,438.1 560.5,446.7 562.3,451.1 564.1,454.1 565.9,458.3 567.7,461.2 569.5,464.7 571.3,468.5 573.1,471.6 575.0,475.2 576.8,477.0 578.6,478.7 580.4,481.2 582.2,483.2 584.0,486.7 585.8,488.0 587.6,489.3 589.4,490.5 591.2,492.5 593.1,492.5 594.9,493.6 596.7,494.0 598.5,496.5 600.3,497.1 602.1,497.9 603.9,498.8 605.7,500.1 607.5,500.1 609.3,502.8 611.2,502.6 613.0,504.6 614.8,503.4 616.6,505.1 618.4,505.4 620.2,505.1 622.0,506.1 623.8,505.7 625.6,506.7 627.4,505.5 629.3,507.4 631.1,507.9 632.9,507.6 634.7,508.2 636.5,508.6 638.3,509.5 640.1,508.7 641.9,509.3 643.7,508.8 645.5,510.3 647.4,509.2 649.2,509.0 651.0,508.8 652.8,510.0 654.6,509.0 656.4,510.2 658.2,508.9 660.0,509.3 661.8,511.0 663.6,510.2 665.5,511.9 667.3,510.1 669.1,511.4 670.9,510.5 672.7,510.6 674.5,511.5 676.3,511.9 678.1,510.5 679.9,511.0 681.8,510.1 683.6,510.8 685.4,509.6 687.2,510.9 689.0,510.1 690.8,511.2 692.6,511.5 694.4,511.3 696.2,511.9 698.0,511.4 699.8,509.9 701.7,511.3 703.5,511.9 705.3,510.7 707.1,511.4 708.9,510.6 710.7,509.6 712.5,509.3 714.3,509.2 716.1,509.8 717.9,510.5 719.8,510.4 721.6,510.7 723.4,511.2 725.2,510.0 727.0,511.3 728.8,510.1 730.6,511.7 732.4,510.9 734.2,513.3 736.0,511.6 737.9,511.6 739.7,510.5 741.5,510.8 743.3,511.8 745.1,511.6 746.9,511.0 748.7,511.6 750.5,511.7 752.3,511.3 754.1,512.5 756.0,510.9 757.8,511.2 759.6,513.1 761.4,511.5 763.2,510.7 765.0,509.4 766.8,510.3 768.6,511.1 770.4,509.8 772.2,510.0 774.1,510.7 775.9,510.0 777.7,510.9 779.5,510.9 781.3,510.3 783.1,510.7 784.9,510.4 786.7,511.1 788.5,509.8 790.3,511.6"/></g>
 <g fill="none" stroke="#000" stroke-width="2.4" stroke-linejoin="round"><polyline points="184.0,482.7 185.8,482.7 187.6,482.7 189.4,482.7 191.2,482.7 193.1,482.7 194.9,482.7 196.7,482.7 198.5,482.7 200.3,482.7 202.1,482.7 203.9,482.7 205.7,482.7 207.5,482.7 209.3,482.7 211.2,482.7 213.0,482.7 214.8,482.7 216.6,482.7 218.4,482.7 220.2,482.7 222.0,482.7 223.8,482.7 225.6,482.7 227.4,482.7 229.2,482.7 231.1,482.7 232.9,482.7 234.7,482.7 236.5,482.7 238.3,482.7 240.1,482.7 241.9,482.7 243.7,482.7 245.5,482.7 247.3,482.7 249.2,482.7 251.0,482.7 252.8,482.7 254.6,482.7 256.4,482.7 258.2,482.7 260.0,482.7 261.8,482.7 263.6,482.7 265.4,482.7 267.3,482.7 269.1,482.7 270.9,482.7 272.7,482.7 274.5,482.7 276.3,482.7 278.1,482.7 279.9,482.7 281.7,482.7 283.6,482.7 285.4,482.7 287.2,482.7 289.0,482.7 290.8,482.7 292.6,482.7 294.4,482.7 296.2,482.7 298.0,482.7 299.8,482.7 301.6,482.7 303.5,482.7 305.3,482.7 307.1,482.7 308.9,482.7 310.7,482.7 312.5,482.7 314.3,482.7 316.1,482.7 317.9,482.7 319.8,482.7 321.6,482.7 323.4,482.7 325.2,482.7 327.0,482.7 328.8,482.7 330.6,482.7 332.4,482.7 334.2,482.7 336.0,482.7 337.9,482.7 339.7,482.7 341.5,482.7 343.3,482.7 345.1,482.7 346.9,482.7 348.7,482.7 350.5,482.7 352.3,482.7 354.1,482.7 355.9,482.7 357.8,482.7 359.6,482.7 361.4,482.7 363.2,482.7 365.0,482.7 366.8,482.7 368.6,482.7 370.4,482.7 372.2,482.7 374.0,481.3 375.9,478.9 377.7,476.0 379.5,472.7 381.3,469.1 383.1,465.4 384.9,461.6 386.7,457.7 388.5,453.8 390.3,449.9 392.1,446.0 394.0,442.1 395.8,438.4 397.6,434.7 399.4,431.1 401.2,427.6 403.0,424.2 404.8,420.9 406.6,417.8 408.4,414.7 410.2,411.8 412.1,409.0 413.9,406.4 415.7,403.8 417.5,401.4 419.3,399.2 421.1,397.0 422.9,395.0 424.7,393.1 426.5,391.3 428.3,389.7 430.2,388.2 432.0,386.7 433.8,385.4 435.6,384.2 437.4,383.1 439.2,382.2 441.0,381.3 442.8,380.5 444.6,379.8 446.4,379.2 448.3,378.7 450.1,378.3 451.9,377.9 453.7,377.7 455.5,377.5 457.3,377.4 459.1,377.4 460.9,377.4 462.7,377.5 464.5,377.6 466.4,377.9 468.2,378.1 470.0,378.5 471.8,378.9 473.6,379.3 475.4,379.8 477.2,380.3 479.0,380.9 480.8,381.5 482.6,382.2 484.5,382.8 486.3,383.6 488.1,384.3 489.9,385.1 491.7,385.9 493.5,386.8 495.3,387.6 497.1,388.5 498.9,389.4 500.7,390.3 502.6,391.3 504.4,392.2 506.2,393.2 508.0,394.2 509.8,395.2 511.6,396.2 513.4,397.2 515.2,398.3 517.0,399.3 518.8,400.4 520.7,401.4 522.5,402.5 524.3,403.5 526.1,404.6 527.9,405.6 529.7,406.7 531.5,407.8 533.3,408.8 535.1,409.9 537.0,411.0 538.8,412.0 540.6,413.1 542.4,414.1 544.2,415.2 546.0,416.2 547.8,417.2 549.6,418.3 551.4,419.3 552.0,413.9 553.2,421.9 555.0,425.3 556.9,428.5 558.7,431.6 560.5,434.6 562.3,437.4 564.1,440.1 565.9,442.6 567.7,445.1 569.5,447.4 571.3,449.6 573.1,451.8 575.0,453.8 576.8,455.7 578.6,457.5 580.4,459.3 582.2,460.9 584.0,462.5 585.8,464.1 587.6,465.5 589.4,466.9 591.2,468.2 593.1,469.4 594.9,470.6 596.7,471.8 598.5,472.9 600.3,473.9 602.1,474.9 603.9,475.8 605.7,476.7 607.5,477.6 609.3,478.4 611.2,479.2 613.0,479.9 614.8,480.6 616.6,481.3 618.4,481.9 620.2,482.6 622.0,483.1 623.8,483.7 625.6,484.2 627.4,484.7 629.3,485.2 631.1,485.7 632.9,486.1 634.7,486.5 636.5,486.9 638.3,487.3 640.1,487.7 641.9,488.0 643.7,488.4 645.5,488.7 647.4,489.0 649.2,489.3 651.0,489.5 652.8,489.8 654.6,490.1 656.4,490.3 658.2,490.5 660.0,490.7 661.8,490.9 663.6,491.1 665.5,491.3 667.3,491.5 669.1,491.7 670.9,491.8 672.7,492.0 674.5,492.1 676.3,492.3 678.1,492.4 679.9,492.5 681.8,492.6 683.6,492.8 685.4,492.9 687.2,493.0 689.0,493.1 690.8,493.2 692.6,493.3 694.4,493.4 696.2,493.4 698.0,493.5 699.8,493.6 701.7,493.7 703.5,493.7 705.3,493.8 707.1,493.9 708.9,493.9 710.7,494.0 712.5,494.0 714.3,494.1 716.1,494.1 717.9,494.2 719.8,494.2 721.6,494.3 723.4,494.3 725.2,494.3 727.0,494.4 728.8,494.4 730.6,494.5 732.4,494.5 734.2,494.5 736.0,494.5 737.9,494.6 739.7,494.6 741.5,494.6 743.3,494.6 745.1,494.7 746.9,494.7 748.7,494.7 750.5,494.7 752.3,494.8 754.1,494.8 756.0,494.8 757.8,494.8 759.6,494.8 761.4,494.8 763.2,494.8 765.0,494.9 766.8,494.9 768.6,494.9 770.4,494.9 772.2,494.9 774.1,494.9 775.9,494.9 777.7,494.9 779.5,495.0 781.3,495.0 783.1,495.0 784.9,495.0 786.7,495.0 788.5,495.0 790.3,495.0"/></g>
 <g stroke="#000" stroke-width="2" fill="none">
  <line x1="184" y1="236.5" x2="184" y2="554"/>
  <line x1="178" y1="548.4" x2="796.5" y2="548.4"/>
  <line x1="178" y1="470.6" x2="184" y2="470.6"/><line x1="178" y1="392.9" x2="184" y2="392.9"/><line x1="178" y1="315.1" x2="184" y2="315.1"/><line x1="178" y1="237.4" x2="184" y2="237.4"/>
  <line x1="292" y1="548.4" x2="292" y2="554"/><line x1="400.5" y1="548.4" x2="400.5" y2="554"/><line x1="509" y1="548.4" x2="509" y2="554"/><line x1="618" y1="548.4" x2="618" y2="554"/><line x1="727" y1="548.4" x2="727" y2="554"/>
 </g>
</svg>
<div class="t title" id="t1" style="left:-1px;top:0.5px">TRPV3-vermittelter Ca</div>
<div class="t sup" id="t2" style="left:526px;top:-2.5px;letter-spacing:0.5px">2+</div>
<div class="t title" id="t3" style="left:556px;top:0.5px">-Einstrom in Kolonepithelzellen der Maus</div>
<div class="t lab" id="l1" style="left:362px;top:135px;font-size:34.2px">2-APB (300 µM)</div>
<div class="t lab" id="l2" style="left:543.5px;top:200px">26E01 (50 µM)</div>
<div class="t tick" style="right:1365px;top:214px">800</div>
<div class="t tick" style="right:1365px;top:292px">600</div>
<div class="t tick" style="right:1365px;top:370px">400</div>
<div class="t tick" style="right:1365px;top:448px">200</div>
<div class="t tick" style="right:1365px;top:526px">0</div>
<div class="t tick" style="left:171px;top:564px">0</div>
<div class="t tick" style="left:275px;top:564px">60</div>
<div class="t tick" style="left:381px;top:564px">120</div>
<div class="t tick" style="left:489px;top:564px">180</div>
<div class="t tick" style="left:597px;top:564px">240</div>
<div class="t tick" style="left:706px;top:564px">300</div>
<div class="t tick" id="zeit" style="left:442px;top:614px">Zeit (s)</div>
<div class="t tick" id="ylab" style="left:0;top:0;transform-origin:0 0;transform:translate(20px,505.5px) rotate(-90deg)">[Ca<span style="font-size:20.5px;vertical-align:22px">2+</span>]<span style="font-size:21px;vertical-align:-7px">i</span> (nM)</div>
<div class="t tick" id="cap" style="left:964px;top:582px;font-size:41.8px">Calcein/PI Färbung</div>
<svg style="position:absolute;left:899px;top:130px" width="441" height="441" viewBox="0 0 441 441">
<defs><filter id="b1" x="-10%" y="-10%" width="120%" height="120%"><feGaussianBlur stdDeviation="1.2"/></filter><filter id="b3" x="-50%" y="-50%" width="200%" height="200%"><feGaussianBlur stdDeviation="3"/></filter><filter id="b4" x="-50%" y="-50%" width="200%" height="200%"><feGaussianBlur stdDeviation="3.5"/></filter><filter id="b6" x="-50%" y="-50%" width="200%" height="200%"><feGaussianBlur stdDeviation="10"/></filter><filter id="b8" x="-20%" y="-20%" width="140%" height="140%"><feGaussianBlur stdDeviation="7"/></filter><filter id="b2" x="-50%" y="-50%" width="200%" height="200%"><feGaussianBlur stdDeviation="1.2"/></filter><filter id="b25" x="-50%" y="-50%" width="200%" height="200%"><feGaussianBlur stdDeviation="2.5"/></filter><clipPath id="cl"><polygon points="0,111 13,97 34,96 50,101 60,111 70,124 84,124 97,111 104,107 111,101 114,81 116,72 120,69 128,65 139,59 150,48 161,39 174,34 181,30 190,26 193,17 197,10 203,6 210,10 221,12 225,13 227,22 236,25 250,22 256,25 259,18 268,16 277,22 281,34 286,45 290,58 294,74 294,87 301,94 310,96 319,101 323,105 328,112 334,112 339,103 345,94 354,87 361,80 372,83 383,85 392,76 397,69 406,71 415,69 420,76 419,85 428,87 428,98 424,103 426,112 419,118 415,127 419,134 424,143 428,147 432,160 430,180 428,192 419,203 412,214 406,223 397,234 399,245 392,254 383,263 377,272 370,281 361,285 354,290 350,294 339,305 323,314 319,327 321,334 307,334 303,350 305,359 298,365 285,365 279,370 270,379 263,388 254,394 245,401 236,408 227,410 221,414 209,414 207,426 203,428 201,414 192,420 183,419 174,414 158,411 141,408 127,406 112,410 100,405 97,395 94,388 88,381 80,379 70,376 76,370 72,362 75,350 73,335 70,320 66,300 63,280 62,265 63,252 61,240 57,235 55,229 51,224 41,222 38,216 39,211 35,207 29,205 31,195 30,186 24,183 12,177 0,171"/></clipPath></defs>
<rect width="441" height="441" fill="#021002"/>
<polygon points="0,111 13,97 34,96 50,101 60,111 70,124 84,124 97,111 104,107 111,101 114,81 116,72 120,69 128,65 139,59 150,48 161,39 174,34 181,30 190,26 193,17 197,10 203,6 210,10 221,12 225,13 227,22 236,25 250,22 256,25 259,18 268,16 277,22 281,34 286,45 290,58 294,74 294,87 301,94 310,96 319,101 323,105 328,112 334,112 339,103 345,94 354,87 361,80 372,83 383,85 392,76 397,69 406,71 415,69 420,76 419,85 428,87 428,98 424,103 426,112 419,118 415,127 419,134 424,143 428,147 432,160 430,180 428,192 419,203 412,214 406,223 397,234 399,245 392,254 383,263 377,272 370,281 361,285 354,290 350,294 339,305 323,314 319,327 321,334 307,334 303,350 305,359 298,365 285,365 279,370 270,379 263,388 254,394 245,401 236,408 227,410 221,414 209,414 207,426 203,428 201,414 192,420 183,419 174,414 158,411 141,408 127,406 112,410 100,405 97,395 94,388 88,381 80,379 70,376 76,370 72,362 75,350 73,335 70,320 66,300 63,280 62,265 63,252 61,240 57,235 55,229 51,224 41,222 38,216 39,211 35,207 29,205 31,195 30,186 24,183 12,177 0,171" fill="#0a5e07" filter="url(#b1)"/>
<g clip-path="url(#cl)">
<polygon points="0,111 13,97 34,96 50,101 60,111 70,124 84,124 97,111 104,107 111,101 114,81 116,72 120,69 128,65 139,59 150,48 161,39 174,34 181,30 190,26 193,17 197,10 203,6 210,10 221,12 225,13 227,22 236,25 250,22 256,25 259,18 268,16 277,22 281,34 286,45 290,58 294,74 294,87 301,94 310,96 319,101 323,105 328,112 334,112 339,103 345,94 354,87 361,80 372,83 383,85 392,76 397,69 406,71 415,69 420,76 419,85 428,87 428,98 424,103 426,112 419,118 415,127 419,134 424,143 428,147 432,160 430,180 428,192 419,203 412,214 406,223 397,234 399,245 392,254 383,263 377,272 370,281 361,285 354,290 350,294 339,305 323,314 319,327 321,334 307,334 303,350 305,359 298,365 285,365 279,370 270,379 263,388 254,394 245,401 236,408 227,410 221,414 209,414 207,426 203,428 201,414 192,420 183,419 174,414 158,411 141,408 127,406 112,410 100,405 97,395 94,388 88,381 80,379 70,376 76,370 72,362 75,350 73,335 70,320 66,300 63,280 62,265 63,252 61,240 57,235 55,229 51,224 41,222 38,216 39,211 35,207 29,205 31,195 30,186 24,183 12,177 0,171" fill="none" stroke="#12a40e" stroke-width="56" stroke-linejoin="round" filter="url(#b8)"/>
<polygon points="135,125 200,115 255,118 300,125 318,150 312,195 305,235 292,272 262,300 225,300 190,292 150,290 115,270 110,225 122,170" fill="#042804" filter="url(#b6)"/>
<g filter="url(#b4)">
<ellipse cx="95" cy="235" rx="14" ry="16" transform="rotate(0 95 235)" fill="#0a4a08"/>
<ellipse cx="150" cy="330" rx="14" ry="14" transform="rotate(0 150 330)" fill="#0a4a08"/>
<ellipse cx="330" cy="210" rx="12" ry="16" transform="rotate(0 330 210)" fill="#0a4a08"/>
<ellipse cx="300" cy="290" rx="14" ry="12" transform="rotate(0 300 290)" fill="#0a4a08"/>
<ellipse cx="240" cy="95" rx="14" ry="8" transform="rotate(-20 240 95)" fill="#0c560a"/>
<ellipse cx="117" cy="165" rx="24" ry="22" transform="rotate(0 117 165)" fill="#0d5a0b"/>
<ellipse cx="54" cy="162" rx="16" ry="22" transform="rotate(0 54 162)" fill="#073a06"/>
<ellipse cx="181" cy="309" rx="38" ry="40" transform="rotate(0 181 309)" fill="#0c560a"/>
<ellipse cx="370" cy="160" rx="16" ry="28" transform="rotate(0 370 160)" fill="#073606"/>
<ellipse cx="130" cy="250" rx="25" ry="20" transform="rotate(0 130 250)" fill="#0f5a0c"/>
<ellipse cx="345" cy="140" rx="12" ry="14" transform="rotate(0 345 140)" fill="#0c4a0a"/>
<ellipse cx="145" cy="334" rx="16" ry="20" transform="rotate(0 145 334)" fill="#0d5a0b"/>
<ellipse cx="290" cy="240" rx="30" ry="20" transform="rotate(0 290 240)" fill="#0c500a"/>
<ellipse cx="335" cy="130" rx="14" ry="16" transform="rotate(0 335 130)" fill="#126e0f"/>
<ellipse cx="124" cy="280" rx="12" ry="12" transform="rotate(0 124 280)" fill="#14a012" fill-opacity="0.8"/>
<ellipse cx="195" cy="274" rx="10" ry="10" transform="rotate(0 195 274)" fill="#1ab016" fill-opacity="0.9"/>
<ellipse cx="168" cy="321" rx="18" ry="14" transform="rotate(0 168 321)" fill="#128e10" fill-opacity="0.8"/>
<ellipse cx="208" cy="324" rx="14" ry="14" transform="rotate(0 208 324)" fill="#128e10" fill-opacity="0.8"/>
<ellipse cx="160" cy="295" rx="26" ry="7" transform="rotate(0 160 295)" fill="#14a012" fill-opacity="0.8"/>
<ellipse cx="270" cy="151" rx="14" ry="14" transform="rotate(0 270 151)" fill="#0e780c" fill-opacity="0.8"/>
<ellipse cx="236" cy="210" rx="16" ry="12" transform="rotate(0 236 210)" fill="#108a0e" fill-opacity="0.8"/>
<ellipse cx="165" cy="221" rx="14" ry="12" transform="rotate(0 165 221)" fill="#0e780c" fill-opacity="0.7"/>
<ellipse cx="160" cy="192" rx="10" ry="10" transform="rotate(0 160 192)" fill="#0e780c" fill-opacity="0.6"/>
<ellipse cx="245" cy="206" rx="10" ry="8" transform="rotate(0 245 206)" fill="#14a012" fill-opacity="0.7"/>
<ellipse cx="223" cy="218" rx="8" ry="8" transform="rotate(0 223 218)" fill="#14a012" fill-opacity="0.8"/>
<ellipse cx="195" cy="273" rx="12" ry="10" transform="rotate(0 195 273)" fill="#1ab016" fill-opacity="0.9"/>
<ellipse cx="117" cy="100" rx="30" ry="10" transform="rotate(0 117 100)" fill="#18a814" fill-opacity="0.6"/>
<ellipse cx="330" cy="200" rx="18" ry="16" transform="rotate(0 330 200)" fill="#108e0e" fill-opacity="0.8"/>
<ellipse cx="340" cy="160" rx="10" ry="10" transform="rotate(0 340 160)" fill="#0f800d" fill-opacity="0.6"/>
<ellipse cx="100" cy="244" rx="14" ry="12" transform="rotate(0 100 244)" fill="#14a012" fill-opacity="0.8"/>
<ellipse cx="117" cy="270" rx="12" ry="10" transform="rotate(0 117 270)" fill="#14a012" fill-opacity="0.7"/>
<ellipse cx="100" cy="350" rx="22" ry="10" transform="rotate(0 100 350)" fill="#1cb418" fill-opacity="0.8"/>
</g>
<g filter="url(#b2)" stroke="#0e5a0b" stroke-width="3" stroke-linecap="round" fill="none" opacity="0.7">
<polyline points="166,58 183,64 196,69 218,58"/>
<polyline points="135,86 174,78 190,92"/>
<polyline points="176,66 172,100"/>
<polyline points="223,57 280,74"/>
<polyline points="131,361 131,395"/>
<polyline points="154,361 154,395"/>
<polyline points="178,361 178,395"/>
<polyline points="201,361 201,395"/>
</g>
<g filter="url(#b4)">
<ellipse cx="206" cy="44" rx="14" ry="11" transform="rotate(0 206 44)" fill="#1eff14" fill-opacity="1"/>
<ellipse cx="245" cy="50" rx="13" ry="10" transform="rotate(-30 245 50)" fill="#1eff14" fill-opacity="1"/>
<ellipse cx="262" cy="62" rx="12" ry="9" transform="rotate(-30 262 62)" fill="#1eff14" fill-opacity="1"/>
<ellipse cx="280" cy="87" rx="11" ry="10" transform="rotate(0 280 87)" fill="#1eff14" fill-opacity="1"/>
<ellipse cx="153" cy="72" rx="12" ry="10" transform="rotate(0 153 72)" fill="#1eff14" fill-opacity="0.95"/>
<ellipse cx="144" cy="97" rx="10" ry="8" transform="rotate(0 144 97)" fill="#1eff14" fill-opacity="0.7"/>
<ellipse cx="188" cy="76" rx="10" ry="8" transform="rotate(0 188 76)" fill="#1eff14" fill-opacity="0.5"/>
<ellipse cx="208" cy="94" rx="12" ry="8" transform="rotate(0 208 94)" fill="#1eff14" fill-opacity="0.55"/>
<ellipse cx="175" cy="100" rx="10" ry="8" transform="rotate(0 175 100)" fill="#1eff14" fill-opacity="0.5"/>
<ellipse cx="144" cy="126" rx="4" ry="3" transform="rotate(20 144 126)" fill="#1eff14" fill-opacity="1"/>
<ellipse cx="265" cy="116" rx="30" ry="6" transform="rotate(5 265 116)" fill="#1eff14" fill-opacity="0.6"/>
<ellipse cx="230" cy="75" rx="12" ry="10" transform="rotate(0 230 75)" fill="#1eff14" fill-opacity="0.4"/>
<ellipse cx="415" cy="77" rx="7" ry="11" transform="rotate(15 415 77)" fill="#1eff14" fill-opacity="1"/>
<ellipse cx="395" cy="91" rx="12" ry="11" transform="rotate(0 395 91)" fill="#1eff14" fill-opacity="0.9"/>
<ellipse cx="378" cy="114" rx="8" ry="8" transform="rotate(0 378 114)" fill="#1eff14" fill-opacity="1"/>
<ellipse cx="405" cy="135" rx="9" ry="20" transform="rotate(0 405 135)" fill="#1eff14" fill-opacity="1"/>
<ellipse cx="341" cy="107" rx="4" ry="4" transform="rotate(0 341 107)" fill="#1eff14" fill-opacity="1"/>
<ellipse cx="321" cy="152" rx="8" ry="12" transform="rotate(0 321 152)" fill="#1eff14" fill-opacity="1"/>
<ellipse cx="314" cy="181" rx="6" ry="4" transform="rotate(-20 314 181)" fill="#1eff14" fill-opacity="1"/>
<ellipse cx="400" cy="175" rx="12" ry="14" transform="rotate(0 400 175)" fill="#1eff14" fill-opacity="0.35"/>
<ellipse cx="410" cy="180" rx="12" ry="16" transform="rotate(0 410 180)" fill="#1eff14" fill-opacity="0.3"/>
<ellipse cx="381" cy="201" rx="12" ry="12" transform="rotate(0 381 201)" fill="#1eff14" fill-opacity="0.4"/>
<ellipse cx="368" cy="230" rx="10" ry="10" transform="rotate(0 368 230)" fill="#1eff14" fill-opacity="0.8"/>
<ellipse cx="348" cy="237" rx="12" ry="12" transform="rotate(0 348 237)" fill="#1eff14" fill-opacity="0.8"/>
<ellipse cx="311" cy="267" rx="12" ry="12" transform="rotate(0 311 267)" fill="#1eff14" fill-opacity="0.6"/>
<ellipse cx="327" cy="273" rx="3" ry="3" transform="rotate(0 327 273)" fill="#1eff14" fill-opacity="1"/>
<ellipse cx="321" cy="274" rx="2" ry="2" transform="rotate(0 321 274)" fill="#1eff14" fill-opacity="1"/>
<ellipse cx="354" cy="220" rx="10" ry="10" transform="rotate(0 354 220)" fill="#1eff14" fill-opacity="0.5"/>
<ellipse cx="15" cy="126" rx="8" ry="8" transform="rotate(0 15 126)" fill="#1eff14" fill-opacity="1"/>
<ellipse cx="19" cy="143" rx="8" ry="8" transform="rotate(0 19 143)" fill="#1eff14" fill-opacity="1"/>
<ellipse cx="40" cy="129" rx="10" ry="10" transform="rotate(0 40 129)" fill="#1eff14" fill-opacity="0.85"/>
<ellipse cx="10" cy="112" rx="10" ry="8" transform="rotate(0 10 112)" fill="#1eff14" fill-opacity="0.5"/>
<ellipse cx="30" cy="160" rx="10" ry="10" transform="rotate(0 30 160)" fill="#1eff14" fill-opacity="0.5"/>
<ellipse cx="15" cy="175" rx="8" ry="5" transform="rotate(0 15 175)" fill="#1eff14" fill-opacity="0.4"/>
<ellipse cx="83" cy="163" rx="9" ry="14" transform="rotate(0 83 163)" fill="#1eff14" fill-opacity="1"/>
<ellipse cx="67" cy="198" rx="18" ry="11" transform="rotate(0 67 198)" fill="#1eff14" fill-opacity="1"/>
<ellipse cx="130" cy="205" rx="15" ry="10" transform="rotate(0 130 205)" fill="#1eff14" fill-opacity="0.95"/>
<ellipse cx="43" cy="214" rx="8" ry="8" transform="rotate(0 43 214)" fill="#1eff14" fill-opacity="0.5"/>
<ellipse cx="96" cy="284" rx="10" ry="10" transform="rotate(0 96 284)" fill="#1eff14" fill-opacity="0.85"/>
<ellipse cx="111" cy="371" rx="18" ry="15" transform="rotate(0 111 371)" fill="#1eff14" fill-opacity="1"/>
<ellipse cx="141" cy="374" rx="11" ry="15" transform="rotate(0 141 374)" fill="#1eff14" fill-opacity="1"/>
<ellipse cx="166" cy="374" rx="11" ry="15" transform="rotate(0 166 374)" fill="#1eff14" fill-opacity="1"/>
<ellipse cx="191" cy="374" rx="11" ry="17" transform="rotate(0 191 374)" fill="#1eff14" fill-opacity="1"/>
<ellipse cx="212" cy="380" rx="9" ry="20" transform="rotate(0 212 380)" fill="#1eff14" fill-opacity="1"/>
<ellipse cx="270" cy="344" rx="14" ry="14" transform="rotate(0 270 344)" fill="#1eff14" fill-opacity="1"/>
<ellipse cx="254" cy="354" rx="10" ry="10" transform="rotate(0 254 354)" fill="#1eff14" fill-opacity="0.9"/>
<ellipse cx="282" cy="317" rx="10" ry="9" transform="rotate(0 282 317)" fill="#1eff14" fill-opacity="0.7"/>
<ellipse cx="233" cy="345" rx="12" ry="16" transform="rotate(0 233 345)" fill="#1eff14" fill-opacity="0.5"/>
<ellipse cx="240" cy="380" rx="14" ry="12" transform="rotate(0 240 380)" fill="#1eff14" fill-opacity="0.5"/>
<ellipse cx="100" cy="338" rx="12" ry="8" transform="rotate(0 100 338)" fill="#1eff14" fill-opacity="0.6"/>
<ellipse cx="145" cy="398" rx="24" ry="10" transform="rotate(0 145 398)" fill="#1eff14" fill-opacity="0.45"/>
<ellipse cx="190" cy="400" rx="24" ry="10" transform="rotate(0 190 400)" fill="#1eff14" fill-opacity="0.45"/>
<ellipse cx="250" cy="395" rx="10" ry="8" transform="rotate(0 250 395)" fill="#1eff14" fill-opacity="0.3"/>
</g>
<g filter="url(#b25)">
<ellipse cx="206" cy="44" rx="9" ry="7" transform="rotate(0 206 44)" fill="#3cff30" fill-opacity="0.9"/>
<ellipse cx="245" cy="50" rx="8" ry="6" transform="rotate(-30 245 50)" fill="#3cff30" fill-opacity="0.9"/>
<ellipse cx="262" cy="62" rx="7" ry="5" transform="rotate(-30 262 62)" fill="#3cff30" fill-opacity="0.9"/>
<ellipse cx="280" cy="87" rx="7" ry="6" transform="rotate(0 280 87)" fill="#3cff30" fill-opacity="0.9"/>
<ellipse cx="153" cy="72" rx="7" ry="6" transform="rotate(0 153 72)" fill="#3cff30" fill-opacity="0.9"/>
<ellipse cx="415" cy="77" rx="5" ry="9" transform="rotate(15 415 77)" fill="#3cff30" fill-opacity="0.9"/>
<ellipse cx="405" cy="128" rx="8" ry="26" transform="rotate(0 405 128)" fill="#3cff30" fill-opacity="0.9"/>
<ellipse cx="398" cy="95" rx="11" ry="9" transform="rotate(0 398 95)" fill="#3cff30" fill-opacity="0.9"/>
<ellipse cx="316" cy="167" rx="4" ry="9" transform="rotate(0 316 167)" fill="#3cff30" fill-opacity="0.9"/>
<ellipse cx="395" cy="91" rx="7" ry="7" transform="rotate(0 395 91)" fill="#3cff30" fill-opacity="0.9"/>
<ellipse cx="321" cy="152" rx="6" ry="9" transform="rotate(0 321 152)" fill="#3cff30" fill-opacity="0.9"/>
<ellipse cx="378" cy="114" rx="5" ry="5" transform="rotate(0 378 114)" fill="#3cff30" fill-opacity="0.9"/>
<ellipse cx="83" cy="163" rx="6" ry="10" transform="rotate(0 83 163)" fill="#3cff30" fill-opacity="0.9"/>
<ellipse cx="67" cy="198" rx="12" ry="7" transform="rotate(0 67 198)" fill="#3cff30" fill-opacity="0.9"/>
<ellipse cx="130" cy="205" rx="9" ry="6" transform="rotate(0 130 205)" fill="#3cff30" fill-opacity="0.9"/>
<ellipse cx="111" cy="371" rx="12" ry="10" transform="rotate(0 111 371)" fill="#3cff30" fill-opacity="0.9"/>
<ellipse cx="141" cy="374" rx="7" ry="11" transform="rotate(0 141 374)" fill="#3cff30" fill-opacity="0.9"/>
<ellipse cx="166" cy="374" rx="7" ry="11" transform="rotate(0 166 374)" fill="#3cff30" fill-opacity="0.9"/>
<ellipse cx="191" cy="374" rx="7" ry="12" transform="rotate(0 191 374)" fill="#3cff30" fill-opacity="0.9"/>
<ellipse cx="212" cy="380" rx="5" ry="15" transform="rotate(0 212 380)" fill="#3cff30" fill-opacity="0.9"/>
<ellipse cx="270" cy="344" rx="9" ry="9" transform="rotate(0 270 344)" fill="#3cff30" fill-opacity="0.9"/>
<ellipse cx="15" cy="126" rx="5" ry="5" transform="rotate(0 15 126)" fill="#3cff30" fill-opacity="0.9"/>
<ellipse cx="19" cy="143" rx="5" ry="5" transform="rotate(0 19 143)" fill="#3cff30" fill-opacity="0.9"/>
<ellipse cx="40" cy="129" rx="6" ry="6" transform="rotate(0 40 129)" fill="#3cff30" fill-opacity="0.9"/>
<ellipse cx="314" cy="181" rx="5" ry="3" transform="rotate(-20 314 181)" fill="#3cff30" fill-opacity="0.9"/>
<ellipse cx="348" cy="237" rx="7" ry="7" transform="rotate(0 348 237)" fill="#3cff30" fill-opacity="0.9"/>
<ellipse cx="368" cy="230" rx="6" ry="6" transform="rotate(0 368 230)" fill="#3cff30" fill-opacity="0.9"/>
</g>
<path d="M56,224 C61,250 62,280 65,300 C70,330 74,350 78,372 L86,372 C82,340 78,320 74,295 C71,270 68,245 65,224 Z" fill="#30f024" filter="url(#b2)"/>
<ellipse cx="100" cy="320" rx="19" ry="21" fill="#2e1808" filter="url(#b3)"/>
<ellipse cx="92" cy="318" rx="9" ry="15" fill="#6a1808" fill-opacity="0.45" filter="url(#b3)"/>
<circle cx="102.5" cy="319" r="6.5" fill="#701010" stroke="#e82820" stroke-width="1.6" filter="url(#b1)"/>
<g filter="url(#b2)">
<ellipse cx="260" cy="101" rx="13" ry="9" fill="#052205"/>
<ellipse cx="221" cy="116" rx="8" ry="8" fill="#052205"/>
<ellipse cx="33" cy="185" rx="5" ry="5" fill="#052205"/>
<ellipse cx="23" cy="155" rx="4" ry="4" fill="#052205"/>
<ellipse cx="109" cy="372" rx="3" ry="3" fill="#052205"/>
<ellipse cx="114" cy="362" rx="3" ry="3" fill="#052205"/>
</g>
</g>
<g filter="url(#b2)">
<ellipse cx="223" cy="242" rx="5" ry="6" fill="#ff2010" fill-opacity="1"/>
<ellipse cx="213" cy="215" rx="4" ry="4" fill="#ff2010" fill-opacity="0.8"/>
<ellipse cx="257" cy="158" rx="5" ry="5" fill="#ff2010" fill-opacity="0.6"/>
<ellipse cx="254" cy="243" rx="4" ry="8" fill="#ff2010" fill-opacity="0.5"/>
<ellipse cx="247" cy="259" rx="2.5" ry="2.5" fill="#ff2010" fill-opacity="0.8"/>
<ellipse cx="272" cy="270" rx="3" ry="3" fill="#ff2010" fill-opacity="0.8"/>
<ellipse cx="292" cy="208" rx="2" ry="2" fill="#ff2010" fill-opacity="0.7"/>
<ellipse cx="233" cy="361" rx="3" ry="3" fill="#ff2010" fill-opacity="0.9"/>
<ellipse cx="274" cy="301" rx="2" ry="2" fill="#ff2010" fill-opacity="0.7"/>
<ellipse cx="200" cy="58" rx="2.5" ry="2.5" fill="#ff2010" fill-opacity="0.7"/>
<ellipse cx="132" cy="117" rx="2.5" ry="2.5" fill="#ff2010" fill-opacity="0.8"/>
<ellipse cx="87" cy="301" rx="2" ry="2" fill="#ff2010" fill-opacity="0.8"/>
<circle cx="257" cy="193" r="3" fill="#50ff40"/>
<circle cx="250" cy="250" r="2.5" fill="#50ff40"/>
<circle cx="273" cy="259" r="2.5" fill="#50ff40"/>
<circle cx="225" cy="226" r="2.5" fill="#50ff40"/>
<circle cx="271" cy="162" r="2.5" fill="#50ff40"/>
<circle cx="258" cy="194" r="2.5" fill="#50ff40"/>
</g>
</svg>
</body></html>
